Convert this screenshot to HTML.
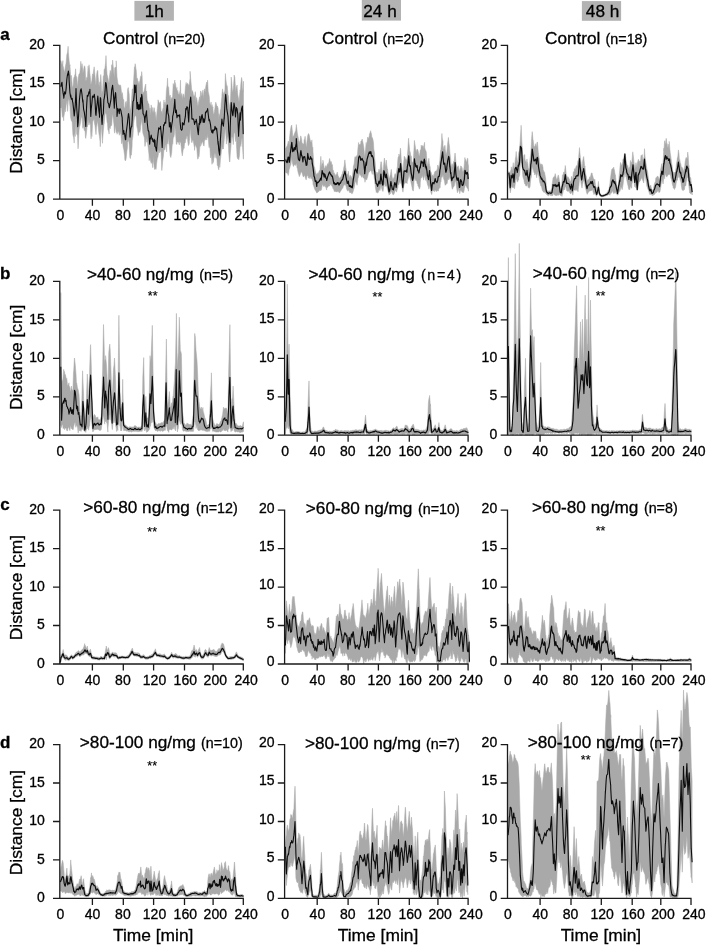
<!DOCTYPE html>
<html lang="en"><head><meta charset="utf-8"><title>Distance over time</title>
<style>html,body{margin:0;padding:0;background:#fff}svg{display:block}text{font-family:'Liberation Sans', Arial, Helvetica, sans-serif;fill:#000;stroke:#000;stroke-width:0.3px}
.tk{font-size:14px}.ti{font-size:17.2px}.n{font-size:14.3px}.ax{font-size:17.4px}.pl{font-size:17px;font-weight:bold}.hd{font-size:17.2px}.st{font-size:12.5px;stroke-width:0.15px}
</style></head><body>
<svg width="706" height="945" viewBox="0 0 706 945">
<rect width="706" height="945" fill="#fff"/>
<rect x="134.4" y="0.9" width="39.5" height="19.8" fill="#b3b3b3"/>
<text class="hd" x="154.3" y="17.2" text-anchor="middle">1h</text>
<rect x="361.8" y="0.0" width="39.2" height="20.6" fill="#b3b3b3"/>
<text class="hd" x="380.0" y="17.2" text-anchor="middle">24 h</text>
<rect x="581.9" y="1.1" width="39.2" height="19.7" fill="#b3b3b3"/>
<text class="hd" x="602.6" y="17.2" text-anchor="middle">48 h</text>
<g>
<path d="M60.8,60.6 L61.5,63.2 L62.3,65.3 L62.9,60.6 L63.0,65.6 L63.8,69.3 L64.6,73.6 L64.6,71.9 L65.3,67.1 L66.1,62.9 L66.8,54.8 L67.6,52.1 L68.1,46.3 L68.4,52.7 L69.1,60.6 L69.8,66.1 L69.9,64.7 L70.6,75.3 L71.4,75.6 L71.6,77.1 L72.2,85.6 L72.9,87.7 L73.3,83.3 L73.7,78.3 L74.4,76.5 L75.2,73.8 L75.6,68.8 L76.0,75.9 L76.7,77.1 L77.5,85.4 L77.7,87.4 L78.2,77.8 L79.0,74.0 L79.8,73.2 L80.5,66.9 L80.8,61.3 L81.3,68.7 L82.0,63.6 L82.8,69.5 L82.9,73.4 L83.6,69.9 L84.3,65.7 L84.7,66.2 L85.1,67.8 L85.8,81.1 L86.4,79.8 L86.6,77.4 L87.4,77.4 L88.1,66.2 L88.9,72.1 L89.0,64.8 L89.6,71.0 L90.4,78.0 L90.8,84.4 L91.2,83.5 L91.9,80.2 L92.5,73.9 L92.7,78.7 L93.4,71.9 L94.2,66.8 L94.3,68.6 L95.0,76.0 L95.7,83.5 L96.0,85.4 L96.5,75.6 L97.2,70.8 L97.8,70.4 L98.0,74.8 L98.8,84.2 L99.5,87.2 L99.5,82.4 L100.3,81.2 L100.7,74.5 L101.0,76.5 L101.8,95.3 L102.1,91.7 L102.6,90.5 L103.3,75.9 L103.9,75.6 L104.1,69.4 L104.8,69.1 L105.6,62.8 L106.0,55.6 L106.4,65.5 L107.1,74.6 L107.4,75.4 L107.9,77.9 L108.6,81.4 L109.1,82.9 L109.4,77.5 L110.2,70.4 L110.8,71.9 L110.9,77.3 L111.7,64.7 L112.4,67.3 L112.6,60.1 L113.2,66.2 L114.0,74.4 L114.3,78.2 L114.7,68.0 L115.5,66.9 L116.1,68.3 L116.2,60.8 L117.0,77.1 L117.8,82.2 L117.8,83.1 L118.5,84.8 L119.3,85.2 L119.6,85.8 L120.0,84.7 L120.8,85.9 L121.6,93.6 L122.2,95.3 L122.3,92.5 L123.1,99.0 L123.8,99.8 L123.9,106.5 L124.6,108.9 L125.4,102.2 L125.7,109.6 L126.1,101.1 L126.9,107.2 L127.6,89.4 L128.3,87.6 L128.4,89.3 L129.2,94.3 L129.9,111.5 L130.0,109.8 L130.7,108.4 L131.4,102.6 L131.8,95.8 L132.2,89.0 L133.0,89.1 L133.7,79.6 L134.4,67.3 L134.5,68.3 L135.2,63.7 L136.0,69.2 L136.2,69.7 L136.8,78.2 L137.0,78.5 L137.5,78.6 L138.3,84.5 L139.0,81.3 L139.6,86.1 L139.8,81.5 L140.6,76.2 L141.3,76.4 L141.7,71.6 L142.1,75.4 L142.8,95.8 L143.1,92.2 L143.6,92.7 L144.4,90.0 L145.1,86.0 L145.8,84.0 L145.9,92.3 L146.6,90.9 L147.4,103.9 L147.5,100.8 L148.2,103.3 L148.9,104.0 L149.7,110.9 L150.1,107.9 L150.4,116.4 L151.2,104.9 L152.0,110.3 L152.7,113.0 L152.7,107.4 L153.5,113.0 L153.5,113.7 L154.2,107.6 L154.8,113.6 L155.0,111.7 L155.8,116.7 L156.1,120.9 L156.5,117.0 L157.3,109.1 L157.9,104.1 L158.0,99.8 L158.8,102.2 L159.6,102.7 L160.3,104.4 L160.5,101.5 L161.1,111.3 L161.8,111.6 L162.2,114.2 L162.6,109.6 L163.4,107.3 L164.0,99.9 L164.1,105.5 L164.9,102.0 L165.6,105.0 L165.7,103.6 L166.4,90.5 L167.2,84.4 L167.5,78.2 L167.9,86.1 L168.7,87.4 L169.2,96.0 L169.4,97.1 L170.2,95.0 L170.9,101.8 L171.0,99.5 L171.7,97.5 L172.5,97.8 L172.7,94.0 L173.2,83.5 L174.0,86.2 L174.8,80.0 L174.8,81.6 L175.5,83.4 L176.3,90.1 L177.0,87.4 L177.1,92.8 L177.8,90.3 L178.6,95.3 L178.8,93.9 L179.3,94.4 L180.1,90.1 L180.5,80.2 L180.8,95.9 L181.6,93.5 L182.3,99.7 L182.4,98.2 L183.1,93.7 L183.9,95.6 L184.0,97.5 L184.6,97.6 L185.4,86.9 L186.2,82.4 L186.3,85.1 L186.9,83.9 L187.7,83.2 L188.4,87.2 L188.4,84.7 L189.2,84.9 L190.0,78.5 L190.1,71.3 L190.7,78.9 L191.5,87.5 L191.9,93.8 L192.2,90.5 L193.0,92.3 L193.8,97.8 L194.0,95.5 L194.5,97.3 L195.3,91.7 L196.0,102.4 L196.2,97.4 L196.8,98.5 L197.6,104.4 L198.0,106.3 L198.3,103.8 L199.1,99.0 L199.7,96.8 L199.8,103.5 L200.6,90.9 L201.4,93.0 L201.5,95.4 L202.1,95.6 L202.9,90.1 L203.2,99.1 L203.6,94.5 L204.4,88.8 L205.2,92.3 L205.5,88.5 L205.9,85.7 L206.7,82.1 L207.4,83.6 L207.6,80.2 L208.2,91.4 L209.0,95.1 L209.3,97.0 L209.7,102.7 L210.5,105.9 L211.1,102.0 L211.2,107.3 L212.0,104.5 L212.8,107.9 L212.8,106.9 L213.5,115.1 L214.3,112.2 L215.0,107.4 L215.4,103.9 L215.8,102.2 L216.6,105.1 L217.2,106.9 L217.3,106.1 L218.1,107.9 L218.8,119.9 L218.9,113.7 L219.6,117.0 L220.4,109.5 L220.7,113.5 L221.1,104.1 L221.9,96.6 L221.9,94.7 L222.6,88.9 L223.4,95.3 L224.2,92.2 L224.2,94.0 L224.9,89.9 L225.4,73.6 L225.7,78.0 L226.4,83.6 L226.8,85.8 L227.2,85.8 L228.0,94.7 L228.5,96.3 L228.7,101.2 L229.5,106.2 L229.9,110.3 L230.2,106.2 L231.0,87.2 L231.2,77.1 L231.8,82.5 L232.5,93.0 L232.9,90.5 L233.3,89.1 L234.0,78.9 L234.1,75.0 L234.8,77.2 L235.5,89.1 L235.6,92.9 L236.3,87.3 L237.1,85.0 L237.3,89.2 L237.8,94.7 L238.6,99.1 L239.0,102.2 L239.4,97.7 L240.1,89.9 L240.4,91.1 L240.9,83.1 L241.6,77.4 L242.1,80.3 L242.4,88.0 L243.2,91.9 L243.5,81.3 L243.5,159.2 L243.2,158.4 L242.4,144.3 L242.1,138.0 L241.6,138.9 L240.9,146.6 L240.4,144.3 L240.1,144.9 L239.4,156.1 L238.7,159.9 L238.6,158.3 L237.8,159.1 L237.1,156.9 L236.4,144.1 L236.3,137.2 L235.6,141.6 L234.8,131.4 L234.6,133.0 L234.0,133.6 L233.4,142.3 L233.3,144.6 L232.5,137.3 L231.8,137.2 L231.7,135.3 L231.0,145.8 L230.2,155.3 L229.9,162.0 L229.5,161.8 L228.7,152.4 L228.5,147.0 L228.0,141.8 L227.2,136.2 L226.8,139.2 L226.4,144.1 L225.7,131.1 L225.4,127.0 L224.9,133.1 L224.2,140.0 L223.4,148.9 L223.3,148.0 L222.6,149.2 L221.9,146.2 L221.6,149.4 L221.1,154.0 L220.4,159.8 L219.8,167.4 L219.6,161.7 L218.8,169.9 L218.1,167.5 L218.1,166.3 L217.3,165.6 L216.6,153.8 L216.3,158.4 L215.8,152.8 L215.0,157.8 L214.6,153.8 L214.3,152.5 L213.5,161.2 L212.8,163.3 L212.8,156.5 L212.0,164.3 L211.2,153.3 L211.1,155.7 L210.5,157.9 L209.7,144.6 L209.3,147.5 L209.0,147.7 L208.2,137.6 L207.6,137.7 L207.4,133.2 L206.7,139.9 L205.9,136.1 L205.8,140.1 L205.2,138.5 L204.4,141.5 L204.1,146.1 L203.6,145.7 L202.9,142.8 L202.4,141.6 L202.1,142.1 L201.4,144.0 L200.6,146.3 L200.6,140.3 L199.8,147.5 L199.1,156.6 L198.5,155.9 L198.3,158.5 L197.6,159.1 L196.8,147.9 L196.2,146.9 L196.0,146.1 L195.3,144.4 L194.5,150.4 L194.5,147.8 L193.8,144.1 L193.0,139.7 L192.2,141.3 L191.9,142.8 L191.5,141.6 L190.7,134.4 L190.5,126.8 L190.0,131.8 L189.2,144.2 L188.7,144.9 L188.4,145.7 L187.7,140.8 L187.5,136.5 L186.9,136.1 L186.2,139.1 L185.8,138.6 L185.4,142.4 L184.6,143.5 L184.0,148.4 L183.9,147.3 L183.1,150.3 L182.4,155.0 L182.3,155.9 L181.6,151.3 L180.8,143.1 L180.1,141.7 L179.7,141.4 L179.3,144.9 L178.6,142.6 L177.8,142.1 L177.1,142.0 L177.0,144.4 L176.3,144.1 L175.5,132.3 L174.8,125.2 L174.4,134.0 L174.0,136.6 L173.2,137.9 L172.7,144.3 L172.5,140.3 L171.7,152.6 L171.0,156.6 L170.9,157.6 L170.2,155.9 L169.4,146.6 L168.7,140.7 L168.3,136.1 L167.9,144.1 L167.2,141.3 L166.6,151.9 L166.4,143.0 L165.6,145.9 L164.9,150.1 L164.1,149.4 L164.0,148.3 L163.4,156.1 L162.6,161.6 L162.2,166.9 L161.8,170.6 L161.1,152.0 L160.5,151.5 L160.3,149.1 L159.6,153.0 L158.8,149.6 L158.7,151.3 L158.0,156.8 L157.3,158.4 L156.5,164.2 L156.1,169.3 L155.8,168.8 L155.0,168.5 L154.8,169.7 L154.2,167.2 L153.5,161.8 L153.5,155.3 L152.7,164.7 L152.7,167.7 L152.0,161.5 L151.2,163.4 L150.4,160.3 L149.7,154.7 L149.2,160.7 L148.9,153.8 L148.2,147.8 L147.4,141.8 L146.6,142.1 L146.6,138.0 L145.9,140.3 L145.1,146.3 L144.9,146.4 L144.4,137.8 L143.6,135.3 L143.1,133.8 L142.8,132.5 L142.1,122.9 L141.7,118.6 L141.3,122.6 L140.6,126.2 L140.5,129.3 L139.8,132.4 L139.0,131.6 L138.3,135.6 L137.9,132.4 L137.5,129.1 L136.8,126.3 L136.2,117.3 L136.0,116.3 L135.2,115.4 L134.5,117.8 L134.4,117.8 L133.7,123.2 L133.0,135.7 L132.2,140.9 L132.1,146.3 L131.4,155.1 L130.7,155.5 L130.4,158.6 L129.9,157.4 L129.2,145.0 L128.6,139.3 L128.4,140.8 L127.6,142.4 L127.4,147.8 L126.9,151.3 L126.1,158.9 L125.4,160.9 L124.8,159.5 L124.6,155.4 L123.8,149.7 L123.1,146.8 L122.3,138.4 L122.2,140.7 L121.6,143.8 L120.8,134.4 L120.0,131.4 L119.6,134.5 L119.3,135.3 L118.5,131.5 L117.8,131.7 L117.0,134.3 L117.0,132.6 L116.2,132.4 L115.5,125.1 L114.7,133.2 L114.3,131.3 L114.0,124.9 L113.2,118.3 L112.6,113.5 L112.4,115.0 L111.7,124.9 L110.9,126.1 L110.8,124.8 L110.2,128.7 L109.4,127.2 L109.1,134.1 L108.6,131.0 L107.9,129.7 L107.4,122.4 L107.1,122.6 L106.4,114.4 L106.0,114.0 L105.6,111.6 L104.8,116.8 L104.2,123.5 L104.1,123.3 L103.3,131.4 L102.6,140.3 L102.5,143.3 L101.8,132.0 L101.2,124.4 L101.0,128.2 L100.3,146.7 L100.0,141.1 L99.5,136.9 L98.8,132.5 L98.0,125.1 L97.8,120.8 L97.2,123.3 L96.5,127.0 L96.0,134.7 L95.7,132.1 L95.0,125.9 L94.3,122.1 L94.2,119.3 L93.4,120.0 L92.7,121.8 L92.5,125.3 L91.9,136.6 L91.2,129.9 L91.1,138.9 L90.4,124.9 L89.9,122.6 L89.6,121.9 L88.9,125.1 L88.1,119.5 L87.4,126.9 L87.3,124.0 L86.6,131.6 L85.8,138.4 L85.5,138.0 L85.1,131.2 L84.3,130.6 L83.6,127.0 L82.9,126.0 L82.8,128.3 L82.0,117.7 L81.3,117.1 L81.2,117.9 L80.5,122.8 L79.8,126.3 L79.4,126.8 L79.0,131.1 L78.2,147.8 L78.0,148.8 L77.5,135.7 L76.7,134.1 L76.0,121.1 L75.9,123.0 L75.2,136.6 L74.4,132.4 L74.2,143.1 L73.7,137.7 L72.9,134.8 L72.2,122.5 L71.6,120.5 L71.4,120.9 L70.6,117.5 L69.9,106.1 L69.1,99.8 L69.0,100.0 L68.4,99.1 L67.6,111.4 L67.2,101.0 L66.8,101.6 L66.1,105.8 L65.5,111.8 L65.3,106.4 L64.6,112.2 L63.8,117.2 L63.7,120.8 L63.0,115.5 L62.3,117.3 L61.5,107.0 L60.8,108.0Z" fill="#a9a9a9" stroke="#a9a9a9" stroke-width="0.5" stroke-linejoin="round"/>
<path d="M60.8,86.8 L61.5,83.4 L62.0,82.2 L62.3,86.4 L63.0,92.4 L63.7,96.4 L63.8,98.2 L64.6,91.9 L65.3,93.4 L65.5,94.0 L66.1,88.9 L66.8,79.6 L67.6,73.7 L67.6,75.6 L68.4,71.1 L69.0,75.4 L69.1,80.2 L69.9,92.3 L70.6,97.2 L70.7,94.9 L71.4,99.3 L72.2,98.4 L72.5,101.3 L72.9,102.9 L73.7,110.2 L74.2,116.0 L74.4,114.8 L75.2,106.3 L75.9,92.2 L76.0,88.6 L76.7,107.8 L77.5,118.8 L77.7,126.8 L78.2,122.2 L79.0,108.5 L79.4,100.3 L79.8,96.2 L80.5,90.3 L81.2,88.8 L81.3,89.5 L82.0,94.4 L82.8,102.2 L82.9,99.8 L83.6,109.3 L84.3,112.1 L85.1,118.2 L85.5,122.0 L85.8,126.5 L86.6,106.4 L87.3,95.2 L87.4,96.4 L88.1,96.0 L88.9,91.9 L89.6,93.3 L89.9,89.3 L90.4,105.6 L90.8,116.4 L91.2,109.0 L91.9,103.3 L92.5,96.0 L92.7,97.6 L93.4,97.2 L94.2,94.6 L94.3,94.3 L95.0,99.9 L95.7,113.9 L96.0,115.5 L96.5,108.8 L97.2,102.9 L97.8,96.0 L98.0,98.2 L98.8,110.2 L99.5,114.9 L99.5,117.2 L100.3,97.6 L100.7,98.6 L101.0,104.1 L101.8,120.9 L102.1,124.5 L102.6,115.6 L103.3,113.8 L103.9,99.2 L104.1,99.1 L104.8,94.7 L105.6,82.6 L106.0,82.9 L106.4,85.1 L107.1,93.6 L107.4,97.0 L107.9,102.8 L108.6,103.4 L109.1,106.8 L109.4,107.8 L110.2,103.6 L110.8,100.3 L110.9,100.1 L111.7,89.6 L112.4,86.3 L112.6,85.2 L113.2,91.5 L114.0,103.3 L114.3,108.1 L114.7,98.6 L115.5,92.5 L115.7,93.4 L116.2,101.8 L117.0,110.5 L117.0,116.4 L117.8,108.6 L118.5,109.9 L119.3,113.6 L119.6,109.3 L120.0,108.7 L120.8,110.2 L121.6,114.7 L122.2,117.7 L122.3,120.9 L123.1,134.5 L123.8,130.5 L123.9,132.4 L124.6,133.8 L125.4,139.8 L125.7,139.5 L126.1,133.6 L126.9,127.2 L127.4,123.6 L127.6,121.0 L128.4,113.8 L128.6,113.6 L129.2,117.8 L129.9,131.3 L130.0,137.1 L130.7,129.1 L131.4,126.7 L131.8,126.4 L132.2,119.5 L133.0,101.5 L133.7,100.3 L134.4,92.4 L134.5,85.1 L135.2,92.5 L136.0,85.0 L136.2,92.8 L136.8,105.2 L137.0,108.7 L137.5,102.4 L138.3,109.6 L138.8,108.3 L139.0,104.5 L139.8,109.4 L140.6,97.7 L140.9,108.8 L141.3,102.3 L141.7,94.4 L142.1,96.9 L142.8,109.2 L143.1,113.9 L143.6,114.2 L144.4,116.9 L144.9,122.4 L145.1,118.5 L145.9,114.2 L146.6,110.7 L146.6,113.7 L147.4,124.2 L148.2,131.0 L148.4,130.5 L148.9,131.7 L149.7,144.2 L150.1,139.5 L150.4,138.8 L151.2,135.1 L152.0,139.5 L152.6,138.6 L152.7,139.9 L152.7,141.1 L153.5,141.8 L154.2,139.3 L154.8,146.2 L155.0,140.3 L155.2,146.4 L155.8,147.6 L156.5,151.1 L157.0,143.8 L157.3,140.0 L158.0,134.0 L158.7,128.0 L158.8,127.8 L159.6,128.9 L160.3,128.8 L160.5,126.4 L161.1,132.2 L161.8,140.7 L162.2,147.4 L162.6,136.9 L163.4,129.3 L163.6,124.8 L164.1,125.3 L164.9,122.3 L165.6,123.2 L165.7,123.2 L166.4,112.3 L167.2,105.0 L167.5,105.2 L167.9,113.2 L168.7,115.9 L169.2,123.2 L169.4,127.0 L170.2,122.6 L170.9,130.4 L171.0,132.3 L171.7,125.0 L172.5,120.6 L172.7,116.1 L173.2,114.3 L174.0,108.7 L174.4,104.3 L174.8,99.4 L175.5,112.6 L176.3,110.0 L177.0,117.6 L177.1,116.9 L177.8,115.3 L178.6,115.4 L179.3,116.6 L179.7,114.7 L180.1,122.0 L180.8,128.9 L181.6,130.3 L182.3,128.9 L182.4,122.7 L183.1,123.4 L183.9,124.9 L184.0,124.9 L184.6,120.8 L185.4,116.2 L185.8,108.5 L186.2,109.9 L186.9,106.7 L187.5,107.5 L187.7,107.6 L188.4,117.9 L188.7,122.0 L189.2,111.3 L190.0,101.2 L190.5,98.5 L190.7,97.1 L191.5,107.8 L191.9,118.7 L192.2,119.3 L193.0,118.7 L193.8,119.8 L194.5,123.6 L194.5,124.4 L195.3,121.6 L196.0,121.4 L196.2,119.2 L196.8,122.9 L197.6,129.5 L198.0,132.5 L198.3,134.6 L199.1,123.2 L199.7,124.3 L199.8,116.2 L200.6,122.7 L201.4,118.7 L201.5,116.5 L202.1,114.6 L202.9,119.6 L203.2,122.5 L203.6,118.7 L204.4,122.3 L205.2,117.3 L205.5,112.1 L205.9,112.7 L206.7,111.1 L207.4,110.2 L207.6,108.6 L208.2,114.0 L209.0,120.6 L209.3,119.3 L209.7,120.6 L210.5,124.6 L211.1,129.8 L211.2,130.1 L212.0,132.5 L212.8,129.9 L212.8,133.1 L213.5,130.0 L214.3,130.3 L214.6,129.1 L215.0,126.4 L215.8,129.0 L216.3,129.8 L216.6,128.0 L217.3,134.7 L218.1,144.3 L218.1,141.2 L218.8,150.1 L219.6,155.2 L219.8,151.0 L220.4,139.6 L221.1,129.1 L221.2,127.2 L221.9,119.0 L222.4,123.0 L222.6,123.4 L223.4,126.2 L224.2,117.3 L224.2,119.0 L224.9,104.8 L225.4,97.4 L225.7,94.3 L226.4,102.1 L226.8,109.2 L227.2,111.7 L228.0,116.4 L228.5,124.3 L228.7,130.7 L229.5,138.6 L229.9,142.5 L230.2,127.5 L231.0,108.0 L231.2,102.6 L231.8,108.5 L232.5,114.3 L232.9,115.8 L233.3,111.6 L234.0,103.0 L234.1,103.5 L234.8,107.4 L235.5,116.9 L235.6,115.1 L236.3,107.6 L237.1,109.0 L237.3,111.0 L237.8,114.8 L238.6,136.3 L238.7,133.0 L239.4,122.9 L240.1,112.7 L240.4,120.2 L240.9,113.7 L241.6,108.7 L242.1,106.9 L242.4,106.0 L243.2,133.7 L243.5,133.4" fill="none" stroke="#0d0d0d" stroke-width="1.1" stroke-linejoin="round"/>
<path d="M285.7,148.3 L286.4,147.1 L287.1,145.9 L287.2,145.8 L287.9,143.2 L288.2,141.0 L288.7,141.9 L289.2,145.7 L289.5,138.5 L290.2,131.7 L290.2,132.0 L291.0,126.8 L291.6,125.0 L291.7,125.1 L292.5,132.8 L292.7,137.4 L293.3,135.7 L294.0,136.2 L294.2,134.1 L294.8,133.0 L295.3,131.4 L295.5,132.7 L296.3,125.3 L296.3,124.5 L297.1,131.1 L297.3,132.9 L297.8,135.7 L298.4,138.4 L298.6,140.3 L299.3,141.9 L299.5,142.9 L300.1,140.0 L300.7,135.9 L300.9,135.9 L301.6,139.4 L302.0,142.8 L302.4,143.0 L302.9,145.1 L303.1,143.8 L303.9,144.2 L304.1,139.9 L304.7,138.7 L305.1,136.3 L305.4,139.4 L306.2,146.4 L306.5,146.7 L306.9,142.2 L307.7,135.7 L307.8,135.3 L308.5,133.5 L309.0,134.4 L309.2,135.1 L310.0,139.3 L310.5,140.9 L310.7,141.9 L311.5,142.3 L311.9,139.9 L312.3,146.5 L312.9,147.6 L313.0,151.7 L313.8,162.7 L314.0,166.2 L314.5,166.9 L315.3,170.8 L315.4,171.2 L316.1,173.8 L316.8,174.4 L316.8,175.2 L317.6,172.9 L318.2,173.4 L318.3,173.8 L319.1,171.1 L319.7,170.3 L319.9,170.5 L320.6,161.0 L320.8,156.3 L321.4,164.5 L321.8,167.2 L322.1,163.5 L322.9,163.0 L322.9,160.2 L323.7,164.5 L324.2,168.0 L324.4,168.4 L325.2,167.4 L325.3,166.8 L325.9,165.5 L326.5,167.4 L326.7,167.1 L327.5,163.9 L327.9,163.5 L328.2,165.0 L329.0,161.6 L329.6,158.4 L329.7,158.7 L330.5,162.7 L331.0,161.4 L331.3,161.7 L332.0,165.5 L332.4,164.6 L332.8,169.6 L333.5,170.8 L333.8,173.2 L334.3,172.9 L335.1,175.3 L335.5,175.7 L335.8,174.6 L336.6,174.4 L337.3,172.1 L337.4,173.1 L338.1,175.7 L338.9,177.4 L339.2,177.6 L339.6,178.5 L340.4,177.2 L340.9,176.8 L341.1,177.0 L341.9,174.2 L342.3,174.0 L342.7,171.7 L343.4,170.2 L343.5,168.9 L344.2,165.5 L344.7,161.0 L344.9,159.9 L345.7,167.5 L345.9,167.9 L346.5,173.1 L347.2,174.4 L347.3,175.3 L348.0,173.3 L348.3,171.2 L348.7,174.3 L349.4,177.4 L349.5,178.0 L350.3,175.2 L350.8,176.5 L351.0,176.2 L351.8,177.8 L352.2,178.1 L352.5,175.3 L353.3,168.3 L353.4,166.6 L354.1,163.9 L354.8,157.6 L355.1,156.5 L355.6,157.3 L356.3,157.1 L357.1,155.2 L357.2,158.0 L357.9,148.8 L358.6,142.4 L358.6,145.1 L359.4,144.4 L360.1,144.4 L360.7,143.6 L360.9,141.2 L361.7,140.4 L362.2,139.0 L362.4,140.3 L363.2,143.8 L363.6,146.1 L363.9,147.9 L364.7,157.2 L364.7,157.6 L365.5,149.8 L366.2,142.4 L366.4,146.3 L367.0,142.5 L367.7,137.0 L367.8,137.4 L368.5,138.7 L369.3,135.8 L369.5,133.9 L370.0,132.9 L370.7,130.7 L370.8,131.7 L371.5,134.2 L372.1,139.5 L372.3,137.6 L373.1,140.2 L373.5,143.1 L373.8,149.1 L374.6,153.7 L374.6,157.1 L375.2,162.6 L375.3,163.8 L376.1,175.3 L376.1,172.1 L376.9,173.7 L377.5,173.2 L377.6,172.5 L378.4,172.2 L379.0,169.1 L379.1,169.7 L379.9,171.7 L380.0,170.9 L380.7,163.7 L380.9,161.7 L381.4,161.9 L382.1,169.4 L382.2,171.1 L382.9,173.1 L383.1,171.2 L383.7,164.8 L384.3,158.3 L384.5,158.1 L385.2,167.1 L385.2,167.7 L386.0,161.9 L386.3,160.1 L386.7,164.7 L387.5,170.1 L387.5,169.2 L388.3,174.6 L388.9,178.1 L389.0,178.8 L389.8,177.3 L389.9,176.2 L390.5,174.3 L391.3,169.3 L391.3,169.7 L392.1,177.1 L392.3,177.4 L392.8,179.5 L393.4,179.0 L393.6,178.1 L394.3,177.0 L394.8,174.2 L395.1,173.5 L395.9,174.8 L396.2,176.0 L396.6,171.3 L397.4,166.6 L397.7,161.1 L398.1,157.3 L398.8,156.0 L398.9,154.0 L399.7,156.5 L399.8,157.1 L400.4,148.1 L400.6,148.7 L401.2,158.6 L401.6,162.9 L401.9,164.8 L402.7,174.2 L402.8,173.4 L403.5,163.5 L404.0,159.4 L404.2,156.2 L405.0,157.3 L405.5,158.7 L405.7,158.9 L406.5,160.5 L406.9,158.6 L407.3,156.4 L407.9,148.7 L408.0,146.6 L408.6,138.3 L408.8,141.6 L409.5,148.2 L409.7,150.7 L410.3,152.4 L411.1,158.5 L411.1,155.9 L411.8,162.0 L412.1,161.8 L412.6,162.4 L413.2,162.3 L413.3,160.9 L414.1,147.0 L414.4,140.4 L414.9,143.7 L415.5,147.9 L415.6,148.8 L416.4,153.2 L416.5,151.0 L417.1,149.1 L417.5,149.6 L417.9,150.1 L418.7,153.8 L418.9,155.3 L419.4,155.9 L420.0,152.3 L420.2,150.1 L420.9,149.6 L421.2,145.1 L421.7,146.8 L422.5,145.5 L422.5,146.5 L423.2,146.0 L423.3,149.6 L424.0,144.8 L424.6,142.3 L424.7,147.5 L425.5,150.7 L425.7,150.4 L426.3,152.1 L426.7,158.3 L427.0,160.6 L427.7,166.1 L427.8,166.4 L428.5,161.9 L428.8,158.3 L429.3,163.2 L430.0,167.2 L430.1,166.8 L430.8,174.1 L430.9,171.9 L431.6,174.8 L431.9,176.6 L432.3,175.6 L433.1,174.6 L433.1,176.2 L433.9,175.7 L434.5,172.5 L434.6,172.3 L435.4,171.0 L435.9,171.1 L436.1,171.4 L436.9,169.7 L437.3,169.2 L437.7,165.1 L438.4,167.2 L438.7,167.4 L439.2,164.5 L439.9,160.1 L439.9,158.9 L440.7,150.1 L440.9,149.9 L441.5,142.7 L441.9,133.5 L442.2,138.0 L443.0,141.8 L443.0,145.7 L443.7,148.4 L444.1,148.9 L444.5,145.7 L445.1,145.4 L445.3,149.4 L446.0,154.6 L446.2,155.2 L446.8,151.9 L447.2,147.8 L447.5,144.6 L448.3,138.3 L448.4,137.4 L449.1,144.1 L449.4,145.3 L449.8,151.5 L450.4,157.2 L450.6,158.1 L451.3,168.7 L451.5,166.4 L452.1,163.7 L452.9,167.3 L452.9,166.2 L453.6,161.5 L454.0,162.4 L454.4,158.8 L455.0,153.0 L455.1,153.1 L455.9,161.5 L456.0,163.6 L456.7,166.2 L457.2,166.6 L457.4,166.9 L458.2,166.3 L458.3,165.8 L458.9,168.8 L459.4,171.9 L459.7,170.5 L460.5,167.6 L460.7,165.9 L461.2,166.1 L461.8,168.6 L462.0,167.5 L462.7,172.2 L462.8,171.7 L463.5,170.8 L464.0,167.4 L464.3,164.2 L464.9,157.5 L465.0,158.5 L465.8,160.2 L466.4,162.0 L466.5,163.2 L467.3,158.4 L467.8,158.4 L468.1,163.7 L468.5,166.0 L468.5,191.2 L468.1,189.6 L468.1,188.2 L467.3,188.4 L466.6,186.8 L466.5,186.4 L465.8,185.8 L465.4,184.0 L465.0,186.6 L464.3,188.7 L464.2,190.2 L463.5,192.8 L463.1,192.0 L462.7,192.0 L462.1,192.4 L462.0,192.0 L461.2,190.5 L461.0,190.7 L460.5,190.2 L459.7,193.7 L459.7,192.9 L458.9,189.6 L458.6,189.3 L458.2,190.8 L457.4,192.7 L457.4,192.7 L456.7,188.6 L456.4,186.3 L455.9,182.6 L455.5,180.9 L455.1,181.3 L454.6,184.3 L454.4,185.6 L453.6,187.0 L453.6,187.0 L452.9,187.7 L452.5,189.2 L452.1,188.8 L451.5,184.6 L451.3,183.8 L450.6,179.7 L450.4,179.4 L449.8,177.5 L449.4,176.5 L449.1,179.5 L448.4,179.5 L448.3,177.6 L447.5,180.9 L447.2,183.3 L446.8,184.0 L446.2,183.1 L446.0,185.0 L445.3,184.8 L445.1,185.3 L444.5,181.5 L444.1,179.8 L443.7,179.0 L443.0,174.4 L443.0,174.4 L442.2,177.2 L441.9,177.3 L441.5,176.4 L440.9,181.9 L440.7,181.2 L439.9,188.1 L439.9,186.3 L439.2,188.3 L438.7,189.2 L438.4,191.0 L437.7,191.1 L437.3,190.5 L436.9,190.9 L436.1,191.7 L435.9,190.9 L435.4,190.1 L434.6,190.7 L434.5,191.7 L433.9,191.2 L433.1,190.6 L433.1,190.5 L432.3,190.3 L431.9,193.9 L431.6,194.6 L430.9,192.3 L430.8,192.1 L430.1,186.5 L429.8,184.9 L429.3,187.2 L428.8,189.1 L428.5,187.0 L427.8,185.4 L427.7,185.3 L427.0,182.5 L426.6,180.6 L426.3,177.7 L425.6,180.4 L425.5,178.7 L424.7,173.3 L424.6,175.2 L424.0,178.2 L423.6,180.1 L423.2,177.7 L422.7,176.4 L422.5,174.8 L421.7,178.1 L421.5,175.7 L420.9,178.0 L420.3,182.1 L420.2,186.8 L419.4,189.2 L419.2,188.7 L418.7,186.9 L417.9,186.0 L417.8,184.4 L417.1,183.5 L416.8,181.6 L416.4,180.7 L415.8,180.4 L415.6,180.5 L414.9,178.0 L414.7,176.8 L414.1,180.9 L413.5,189.6 L413.3,191.1 L412.6,189.9 L412.5,190.2 L411.8,186.0 L411.5,184.8 L411.1,182.9 L410.4,179.3 L410.3,179.2 L409.5,175.6 L409.3,173.1 L408.8,176.1 L408.3,178.2 L408.0,179.5 L407.3,181.6 L407.2,183.6 L406.5,182.9 L405.7,182.7 L405.7,182.6 L405.0,183.6 L404.3,183.6 L404.2,183.9 L403.5,187.7 L403.0,192.2 L402.7,191.3 L401.9,186.7 L401.9,186.5 L401.2,181.9 L400.9,179.4 L400.4,181.1 L400.1,183.6 L399.7,182.0 L399.1,181.8 L398.9,184.8 L398.1,184.5 L397.9,187.5 L397.4,188.9 L396.6,191.9 L396.5,191.9 L395.9,191.3 L395.1,190.1 L395.1,190.4 L394.3,193.4 L394.1,193.2 L393.6,194.8 L392.8,194.3 L392.7,194.5 L392.1,193.1 L391.3,191.2 L391.3,190.9 L390.5,192.6 L390.3,193.9 L389.8,194.2 L389.0,195.1 L388.9,194.2 L388.3,192.1 L387.5,189.4 L387.5,189.6 L386.7,186.2 L386.3,186.0 L386.0,185.6 L385.2,186.6 L385.2,186.0 L384.5,183.7 L384.2,183.1 L383.7,186.9 L383.1,191.3 L382.9,191.5 L382.2,190.3 L382.1,189.8 L381.4,187.3 L380.9,185.0 L380.7,186.5 L380.0,190.6 L379.9,190.7 L379.1,189.0 L379.0,189.4 L378.4,192.0 L377.6,193.2 L377.5,192.6 L376.9,192.1 L376.1,192.6 L376.1,191.5 L375.3,187.0 L375.2,184.6 L374.9,183.7 L374.6,180.6 L373.8,173.8 L373.8,174.3 L373.1,170.6 L372.4,171.7 L372.3,174.4 L371.5,171.3 L370.9,171.0 L370.8,170.9 L370.0,170.1 L369.8,171.7 L369.3,171.9 L368.5,172.8 L368.1,174.8 L367.7,176.6 L367.0,178.7 L366.7,180.0 L366.2,179.5 L365.5,179.1 L365.0,182.3 L364.7,179.8 L363.9,177.7 L363.9,177.9 L363.2,177.8 L362.4,176.1 L362.4,174.4 L361.7,177.4 L360.9,175.1 L360.7,174.5 L360.1,175.6 L359.4,173.4 L358.9,174.0 L358.6,176.5 L357.9,178.7 L357.2,184.3 L357.1,185.3 L356.3,182.7 L355.6,181.5 L355.4,181.1 L354.8,184.7 L354.1,188.3 L353.7,189.4 L353.3,190.9 L352.5,193.3 L352.5,193.2 L351.8,193.8 L351.5,193.0 L351.0,192.6 L350.3,192.5 L350.1,193.0 L349.5,192.2 L348.7,190.1 L348.7,190.1 L348.0,190.5 L347.7,191.2 L347.2,190.2 L346.5,188.8 L346.3,187.3 L345.7,185.3 L345.2,184.6 L344.9,185.3 L344.2,184.3 L344.0,184.9 L343.4,186.0 L342.7,188.2 L342.6,187.7 L341.9,189.2 L341.2,189.9 L341.1,190.7 L340.4,191.3 L339.6,192.9 L339.5,193.1 L338.9,192.0 L338.1,191.6 L337.6,191.8 L337.3,191.2 L336.6,191.9 L335.9,191.7 L335.8,191.7 L335.1,191.3 L334.3,191.6 L334.1,190.8 L333.5,189.1 L332.8,188.3 L332.7,187.4 L332.0,186.0 L331.3,185.4 L331.3,184.1 L330.5,184.7 L329.9,183.6 L329.7,185.9 L329.0,186.1 L328.2,186.1 L328.2,186.4 L327.5,187.5 L326.7,187.2 L326.7,190.1 L325.9,187.3 L325.3,187.0 L325.2,184.9 L324.4,186.1 L323.9,186.7 L323.7,185.9 L322.9,185.4 L322.5,183.6 L322.1,185.7 L321.4,189.9 L321.4,190.0 L320.6,190.8 L319.9,189.3 L319.9,190.2 L319.1,190.8 L318.5,191.8 L318.3,192.0 L317.6,192.3 L317.1,192.9 L316.8,193.1 L316.1,191.7 L315.4,189.8 L315.3,190.4 L314.5,188.8 L314.0,187.1 L313.8,186.6 L313.0,184.3 L312.9,181.7 L312.3,180.2 L311.9,177.7 L311.5,178.7 L310.7,177.0 L310.5,176.0 L310.0,178.8 L309.2,176.7 L309.0,178.1 L308.5,178.0 L307.7,174.1 L307.6,175.7 L306.9,175.9 L306.5,178.3 L306.2,179.9 L305.4,177.9 L304.8,175.4 L304.7,174.9 L303.9,176.3 L303.4,176.9 L303.1,176.7 L302.4,174.0 L302.0,173.1 L301.6,171.7 L300.9,172.5 L300.7,172.7 L300.1,174.9 L299.5,176.0 L299.3,176.7 L298.6,173.9 L298.4,173.7 L297.8,171.1 L297.3,167.7 L297.1,168.1 L296.3,162.3 L296.3,163.1 L295.5,165.4 L294.9,165.0 L294.8,163.7 L294.0,165.4 L293.5,166.5 L293.3,166.2 L292.5,163.2 L292.0,159.7 L291.7,156.6 L291.0,164.1 L290.6,165.1 L290.2,166.2 L289.5,168.8 L289.2,169.0 L288.7,173.5 L288.2,175.5 L287.9,174.4 L287.2,172.9 L287.1,172.8 L286.4,172.9 L285.7,172.4Z" fill="#a9a9a9" stroke="#a9a9a9" stroke-width="0.5" stroke-linejoin="round"/>
<path d="M285.7,159.5 L286.4,162.1 L287.1,162.5 L287.2,162.7 L287.9,158.1 L288.2,157.0 L288.7,157.5 L289.2,162.3 L289.5,161.4 L290.2,153.4 L290.6,151.3 L291.0,148.3 L291.7,142.9 L291.8,142.3 L292.5,149.4 L292.7,151.7 L293.3,149.2 L294.0,151.0 L294.2,147.6 L294.8,148.6 L295.3,149.5 L295.5,147.0 L296.3,143.2 L296.3,138.7 L297.1,149.5 L297.3,150.6 L297.8,153.6 L298.4,159.2 L298.6,159.4 L299.3,160.4 L299.5,160.7 L300.1,156.8 L300.5,152.8 L300.9,150.7 L301.6,155.6 L302.0,155.8 L302.4,157.7 L302.9,161.8 L303.1,158.9 L303.9,156.6 L304.1,157.2 L304.7,156.7 L305.2,159.8 L305.4,160.0 L306.2,165.3 L306.5,164.9 L306.9,164.9 L307.6,156.0 L307.7,153.4 L308.5,158.2 L309.0,159.3 L309.2,159.3 L310.0,159.2 L310.5,156.6 L310.7,157.3 L311.5,159.4 L311.9,158.8 L312.3,163.7 L312.9,166.6 L313.0,167.4 L313.8,174.1 L314.0,176.2 L314.5,177.1 L315.3,181.5 L315.4,180.7 L316.1,180.8 L316.8,186.3 L316.8,184.1 L317.6,182.2 L318.2,182.5 L318.3,181.9 L319.1,181.4 L319.7,180.3 L319.9,180.3 L320.6,178.2 L321.1,180.1 L321.4,177.9 L322.1,171.4 L322.1,170.5 L322.9,173.9 L323.2,173.1 L323.7,174.6 L324.2,177.2 L324.4,173.8 L325.2,175.0 L325.3,175.7 L325.9,178.1 L326.5,178.9 L326.7,180.5 L327.5,177.3 L327.9,176.1 L328.2,175.4 L329.0,173.1 L329.6,171.9 L329.7,172.3 L330.5,174.4 L331.0,174.4 L331.3,175.7 L332.0,176.3 L332.4,176.1 L332.8,178.2 L333.5,181.9 L333.8,183.7 L334.3,182.6 L335.1,184.7 L335.5,184.5 L335.8,183.5 L336.6,184.3 L337.3,182.5 L337.4,183.6 L338.1,182.6 L338.9,185.0 L339.2,184.9 L339.6,183.2 L340.4,183.3 L340.9,182.0 L341.1,181.2 L341.9,180.6 L342.3,179.5 L342.7,179.4 L343.4,176.3 L343.7,175.1 L344.2,173.9 L344.9,171.9 L344.9,171.0 L345.7,175.1 L345.9,176.6 L346.5,179.6 L347.2,182.7 L347.3,183.5 L348.0,182.5 L348.3,181.0 L348.7,183.9 L349.4,186.5 L349.5,185.3 L350.3,186.3 L350.8,185.7 L351.0,187.3 L351.8,186.6 L352.2,187.9 L352.5,186.6 L353.3,179.1 L353.4,179.2 L354.1,174.9 L354.8,170.6 L355.1,169.9 L355.6,169.0 L356.3,170.9 L357.1,173.1 L357.2,171.3 L357.9,166.1 L358.6,158.6 L358.6,158.0 L359.4,156.0 L360.1,156.8 L360.7,159.6 L360.9,160.3 L361.7,158.9 L362.2,158.5 L362.4,159.5 L363.2,160.9 L363.6,161.3 L363.9,163.8 L364.7,171.7 L364.7,173.7 L365.5,166.4 L366.2,162.0 L366.4,165.1 L367.0,159.6 L367.7,157.0 L367.8,156.8 L368.5,154.1 L369.3,151.9 L369.5,153.4 L370.0,153.5 L370.7,151.7 L370.8,151.7 L371.5,156.0 L372.1,156.7 L372.3,155.5 L373.1,157.6 L373.5,159.6 L373.8,165.0 L374.6,171.8 L374.6,171.1 L375.2,176.2 L375.3,178.0 L376.1,183.4 L376.1,183.3 L376.9,184.2 L377.5,185.8 L377.6,186.3 L378.4,183.4 L379.0,181.2 L379.1,181.8 L379.9,183.9 L380.0,183.3 L380.7,176.1 L380.9,174.1 L381.4,178.7 L382.1,181.9 L382.2,183.6 L382.9,185.2 L383.1,184.1 L383.7,173.2 L383.9,170.7 L384.5,172.2 L385.2,177.2 L385.2,176.0 L386.0,177.8 L386.3,174.1 L386.7,176.4 L387.5,180.8 L387.5,181.3 L388.3,186.6 L388.9,191.1 L389.0,192.0 L389.8,190.0 L389.9,189.0 L390.5,184.2 L390.9,181.7 L391.3,184.2 L392.1,187.8 L392.3,189.2 L392.8,189.2 L393.4,189.8 L393.6,188.8 L394.3,184.9 L394.8,182.5 L395.1,183.1 L395.9,185.2 L396.2,187.5 L396.6,184.1 L397.4,179.0 L397.7,176.0 L398.1,173.0 L398.8,168.6 L398.9,171.8 L399.7,169.7 L399.8,171.9 L400.4,166.0 L400.6,163.6 L401.2,169.9 L401.6,176.7 L401.9,179.2 L402.7,187.4 L402.8,187.6 L403.5,177.9 L404.0,171.8 L404.2,170.9 L405.0,171.1 L405.5,171.3 L405.7,171.3 L406.5,170.2 L406.9,172.3 L407.3,166.9 L407.9,163.7 L408.0,163.0 L408.7,155.9 L408.8,156.4 L409.5,165.9 L409.7,165.0 L410.3,165.8 L411.1,172.6 L411.1,172.8 L411.8,175.9 L412.1,178.2 L412.6,180.3 L413.2,178.0 L413.3,177.1 L414.1,165.7 L414.4,158.9 L414.9,163.2 L415.5,164.0 L415.6,166.1 L416.4,167.2 L416.5,166.0 L417.1,165.6 L417.5,168.9 L417.9,170.9 L418.7,171.0 L418.9,172.9 L419.4,170.0 L420.0,166.9 L420.2,167.9 L420.9,163.1 L421.2,161.1 L421.7,163.0 L422.5,162.0 L422.5,162.2 L423.2,163.9 L423.3,166.4 L424.0,160.5 L424.3,159.0 L424.7,160.9 L425.3,166.9 L425.5,164.7 L426.3,169.1 L426.3,166.6 L427.0,171.4 L427.4,175.7 L427.8,176.4 L428.5,179.6 L428.5,177.9 L429.3,172.8 L429.5,170.5 L430.1,176.5 L430.7,183.5 L430.8,183.9 L431.6,190.4 L431.7,189.8 L432.3,184.1 L432.8,182.5 L433.1,182.5 L433.8,183.4 L433.9,183.9 L434.6,181.3 L435.2,178.7 L435.4,180.1 L436.1,181.7 L436.6,182.0 L436.9,182.6 L437.7,180.5 L438.0,178.0 L438.4,176.4 L439.2,176.3 L439.4,175.4 L439.9,170.1 L440.4,168.1 L440.7,164.4 L441.5,159.5 L441.6,158.7 L442.2,154.8 L442.6,151.8 L443.0,156.5 L443.7,164.2 L443.7,163.5 L444.5,164.1 L444.7,163.2 L445.3,168.1 L445.8,172.2 L446.0,172.1 L446.8,169.2 L446.8,167.2 L447.5,162.5 L447.7,160.7 L448.3,158.2 L448.7,156.4 L449.1,157.8 L449.8,167.0 L449.8,165.5 L450.6,173.6 L450.8,172.3 L451.3,177.7 L451.8,180.6 L452.1,179.3 L452.9,177.6 L452.9,177.1 L453.6,177.6 L454.0,176.5 L454.4,171.4 L455.0,165.9 L455.1,162.6 L455.9,174.1 L456.0,175.0 L456.7,178.5 L457.2,180.4 L457.4,178.2 L458.2,178.3 L458.3,178.1 L458.9,182.8 L459.4,187.4 L459.7,187.2 L460.5,179.8 L460.7,179.6 L461.2,180.9 L461.8,182.0 L462.0,184.9 L462.7,185.4 L462.8,185.2 L463.5,183.7 L464.0,180.7 L464.3,179.6 L465.0,170.3 L465.2,171.0 L465.8,173.3 L466.4,174.1 L466.5,172.7 L467.3,172.4 L467.8,174.4 L468.1,178.6 L468.5,177.6" fill="none" stroke="#0d0d0d" stroke-width="1.2" stroke-linejoin="round"/>
<path d="M508.8,171.4 L509.6,173.4 L510.2,174.2 L510.3,171.9 L511.1,169.2 L511.2,166.8 L511.8,168.8 L512.2,170.6 L512.6,168.2 L513.3,162.7 L513.4,165.4 L514.1,167.7 L514.5,169.3 L514.9,163.2 L515.5,157.9 L515.6,158.4 L516.2,151.5 L516.4,154.8 L517.2,160.6 L517.3,162.4 L517.9,160.1 L518.3,155.7 L518.7,152.5 L519.3,150.7 L519.4,150.7 L520.2,141.0 L520.4,136.9 L521.0,128.6 L521.1,125.3 L521.7,138.7 L521.8,141.0 L522.5,151.8 L522.8,157.2 L523.2,161.1 L524.0,155.0 L524.0,155.1 L524.8,154.6 L524.9,159.0 L525.5,161.0 L526.1,162.0 L526.3,164.0 L527.0,158.9 L527.2,161.4 L527.8,163.5 L528.2,167.4 L528.6,168.6 L529.2,169.9 L529.3,168.0 L530.1,157.8 L530.3,157.4 L530.8,153.1 L531.3,145.0 L531.6,138.7 L532.2,131.6 L532.4,133.1 L533.1,141.1 L533.2,140.6 L533.9,146.5 L534.3,146.1 L534.6,148.3 L535.4,143.7 L535.4,144.0 L536.2,146.8 L536.4,147.0 L536.9,142.8 L537.4,141.9 L537.7,144.8 L538.4,153.9 L538.4,153.5 L539.2,158.4 L539.5,161.3 L540.0,164.2 L540.5,165.3 L540.7,163.8 L541.5,164.1 L541.7,165.8 L542.2,164.4 L543.0,167.3 L543.1,169.5 L543.8,171.4 L544.5,172.1 L544.5,172.2 L545.3,176.5 L545.6,177.7 L546.0,182.0 L546.6,189.5 L546.8,189.9 L547.6,190.9 L548.0,191.3 L548.3,191.2 L549.1,191.0 L549.5,190.7 L549.8,190.9 L550.6,191.3 L550.9,190.7 L551.4,188.9 L551.9,187.2 L552.1,184.7 L552.9,179.1 L553.0,177.8 L553.6,177.5 L554.1,176.5 L554.4,177.4 L555.1,174.2 L555.2,173.6 L555.9,176.8 L556.2,178.3 L556.7,179.7 L557.2,178.5 L557.4,178.3 L558.2,174.9 L558.4,175.2 L559.0,178.0 L559.4,180.5 L559.7,182.6 L560.4,189.4 L560.5,189.5 L561.2,188.1 L561.5,187.9 L562.0,180.9 L562.5,174.9 L562.8,175.5 L563.5,172.9 L563.6,172.0 L564.3,172.4 L564.6,171.5 L565.0,168.0 L565.3,165.5 L565.8,170.1 L566.4,175.4 L566.6,175.0 L567.3,177.2 L567.9,177.2 L568.1,176.8 L568.8,178.3 L569.3,179.0 L569.6,180.5 L570.4,182.0 L570.4,182.3 L571.1,179.5 L571.4,176.6 L571.9,176.6 L572.4,182.4 L572.6,180.0 L573.4,171.6 L573.5,172.4 L574.2,171.6 L574.5,168.6 L574.9,170.2 L575.7,167.9 L575.7,167.8 L576.4,165.7 L577.1,165.8 L577.2,166.3 L578.0,160.6 L578.5,163.1 L578.7,156.7 L579.5,147.6 L579.5,148.3 L580.2,155.6 L580.6,160.0 L581.0,161.8 L581.6,168.9 L581.8,169.4 L582.5,163.5 L582.7,161.1 L583.3,157.7 L583.7,156.5 L584.0,159.7 L584.8,167.1 L584.9,166.1 L585.6,172.4 L585.9,175.2 L586.3,176.0 L587.0,180.3 L587.1,180.8 L587.8,179.7 L588.4,179.7 L588.6,179.6 L589.4,178.1 L589.8,176.7 L590.1,178.3 L590.9,175.0 L591.2,173.3 L591.6,173.0 L592.1,173.0 L592.4,174.7 L593.2,177.6 L593.4,178.6 L593.9,178.9 L594.7,180.4 L594.8,179.3 L595.4,184.4 L595.8,186.6 L596.2,187.1 L596.6,188.3 L597.0,192.8 L597.0,193.5 L597.7,187.8 L598.4,181.4 L598.5,182.3 L599.2,189.0 L599.5,192.1 L600.0,193.1 L600.8,194.5 L601.0,195.0 L601.5,195.0 L602.3,194.9 L602.7,195.0 L603.0,194.9 L603.8,194.3 L604.6,194.5 L604.8,194.4 L605.3,193.9 L606.1,193.3 L606.8,192.9 L606.9,192.9 L607.6,191.9 L608.4,189.9 L609.0,189.3 L609.1,188.6 L609.9,183.6 L610.5,177.7 L610.6,177.4 L611.4,171.2 L611.9,169.1 L612.2,168.8 L612.9,168.7 L612.9,170.0 L613.7,167.1 L614.0,168.7 L614.4,169.9 L615.2,175.3 L615.4,174.8 L616.0,180.8 L616.7,184.3 L616.8,186.5 L617.5,188.1 L618.0,189.3 L618.2,186.2 L619.0,178.5 L619.0,176.9 L619.8,169.7 L619.9,167.9 L620.5,162.5 L620.8,163.1 L621.3,165.3 L621.8,165.1 L622.0,164.3 L622.8,161.8 L622.8,159.5 L623.6,159.3 L623.9,158.5 L624.3,154.6 L624.9,153.0 L625.1,153.7 L625.8,157.7 L625.8,158.4 L626.6,163.0 L626.7,163.5 L627.4,166.0 L627.9,165.5 L628.1,167.1 L628.9,169.7 L628.9,171.3 L629.6,167.1 L629.9,166.6 L630.4,160.4 L630.7,161.4 L631.2,161.9 L631.7,163.9 L631.9,161.7 L632.7,152.5 L632.8,151.8 L633.4,156.4 L633.8,160.5 L634.2,163.8 L634.8,169.1 L635.0,168.3 L635.7,164.3 L636.0,162.6 L636.5,165.4 L637.1,167.7 L637.2,164.1 L638.0,160.7 L638.4,159.3 L638.8,160.7 L639.2,164.0 L639.5,161.2 L640.2,161.0 L640.3,163.5 L641.0,155.7 L641.2,155.2 L641.8,156.1 L642.3,154.5 L642.6,158.2 L643.3,160.4 L643.3,160.3 L644.1,156.4 L644.5,148.7 L644.8,153.6 L645.4,160.1 L645.6,160.8 L646.4,165.7 L646.6,167.0 L647.1,169.8 L647.7,172.4 L647.9,174.2 L648.6,179.9 L648.7,180.7 L649.4,185.6 L649.7,186.3 L650.2,185.9 L650.8,185.0 L650.9,185.9 L651.7,189.4 L652.0,190.8 L652.4,190.1 L653.2,189.7 L653.4,189.2 L654.0,185.6 L654.4,183.8 L654.7,183.1 L655.5,181.3 L655.8,177.9 L656.2,178.1 L657.0,176.6 L657.2,176.5 L657.8,176.0 L658.5,177.5 L658.6,177.8 L659.3,180.2 L659.6,180.8 L660.0,176.8 L660.7,168.8 L660.8,168.8 L661.6,164.6 L661.9,163.6 L662.3,165.7 L662.9,166.8 L663.1,162.4 L663.8,148.1 L663.9,151.0 L664.6,140.8 L664.7,140.7 L665.4,144.7 L665.4,145.3 L666.1,138.4 L666.3,138.6 L666.9,144.5 L667.1,143.7 L667.6,146.7 L668.1,147.7 L668.4,144.6 L669.2,143.8 L669.2,141.4 L669.9,149.6 L670.2,152.6 L670.7,155.7 L671.4,160.9 L671.4,161.5 L672.2,166.6 L672.5,169.2 L673.0,172.6 L673.7,172.6 L673.9,174.3 L674.5,172.6 L675.2,172.4 L675.2,173.1 L676.0,168.1 L676.3,164.8 L676.8,161.8 L677.5,157.6 L677.5,159.8 L678.3,151.0 L678.4,149.9 L679.0,154.0 L679.4,160.1 L679.8,159.7 L680.6,165.1 L680.6,163.6 L681.3,166.8 L681.7,167.3 L682.1,167.2 L682.7,169.3 L682.8,168.6 L683.6,172.2 L683.7,171.2 L684.4,167.5 L684.8,165.9 L685.1,162.1 L685.9,158.1 L686.0,157.4 L686.6,157.8 L686.9,159.2 L687.4,157.9 L687.7,152.1 L688.2,155.8 L688.8,166.6 L688.9,165.6 L689.7,174.6 L689.8,176.5 L690.4,177.5 L690.8,178.1 L691.2,182.3 L692.0,187.7 L692.2,189.1 L692.2,195.0 L692.0,194.5 L691.5,192.7 L691.2,193.3 L690.5,193.8 L690.4,193.2 L689.7,193.0 L689.4,190.6 L688.9,186.6 L688.4,181.3 L688.2,178.1 L687.4,177.6 L687.2,176.3 L686.6,180.9 L686.2,181.8 L685.9,185.7 L685.1,185.7 L685.1,184.9 L684.4,189.7 L684.1,188.5 L683.6,190.4 L683.0,190.3 L682.8,190.4 L682.1,189.8 L682.0,189.8 L681.3,185.7 L680.9,182.0 L680.6,181.2 L679.9,179.3 L679.8,178.1 L679.0,176.6 L678.7,173.5 L678.3,177.4 L677.7,178.1 L677.5,180.2 L676.8,180.2 L676.6,180.5 L676.0,184.0 L675.6,186.8 L675.2,188.2 L674.5,188.5 L674.5,189.5 L673.7,188.3 L673.2,187.8 L673.0,186.2 L672.2,183.9 L672.1,182.3 L671.4,179.3 L670.9,178.2 L670.7,176.2 L669.9,173.6 L669.9,173.7 L669.2,174.8 L668.5,174.7 L668.4,173.7 L667.6,175.7 L667.4,174.9 L666.9,177.2 L666.4,176.3 L666.1,175.9 L665.4,173.5 L665.4,172.5 L664.6,178.8 L664.3,175.7 L663.8,178.1 L663.1,183.8 L663.1,184.0 L662.3,180.2 L662.2,179.5 L661.6,181.3 L661.0,185.1 L660.8,187.2 L660.0,191.2 L660.0,191.9 L659.3,192.2 L658.9,192.6 L658.5,191.3 L657.8,190.2 L657.5,191.3 L657.0,192.2 L656.2,192.4 L656.1,192.3 L655.5,192.9 L654.8,194.1 L654.7,194.3 L654.0,194.6 L653.7,195.1 L653.2,195.2 L652.4,195.4 L652.2,195.6 L651.7,194.9 L651.2,194.2 L650.9,193.9 L650.2,194.5 L650.1,194.9 L649.4,193.5 L649.0,192.1 L648.6,190.9 L648.0,189.0 L647.9,189.0 L647.1,186.3 L646.9,186.5 L646.4,182.8 L645.7,179.3 L645.6,178.5 L644.8,173.1 L644.7,172.2 L644.1,179.1 L643.7,183.0 L643.3,181.6 L642.8,180.6 L642.6,180.2 L641.8,177.0 L641.6,177.9 L641.0,179.2 L640.6,180.0 L640.3,180.7 L639.5,181.8 L639.5,180.6 L638.8,183.4 L638.5,184.6 L638.0,188.3 L637.5,189.7 L637.2,189.8 L636.5,181.5 L636.5,181.6 L635.7,185.6 L635.5,187.6 L635.0,186.2 L634.5,186.5 L634.2,183.1 L633.5,178.1 L633.4,177.0 L632.7,180.8 L632.7,181.3 L631.9,184.1 L631.7,188.2 L631.2,188.1 L630.7,185.9 L630.4,186.4 L629.6,189.9 L629.6,188.1 L628.9,189.5 L628.4,187.9 L628.1,186.0 L627.5,183.8 L627.4,183.0 L626.6,179.3 L626.3,177.6 L625.8,176.8 L625.3,172.3 L625.1,173.1 L624.3,175.8 L624.2,177.0 L623.6,180.1 L623.2,183.7 L622.8,186.1 L622.2,189.7 L622.0,188.9 L621.3,187.4 L620.8,186.8 L620.5,189.0 L619.8,191.4 L619.7,190.6 L619.0,191.9 L618.5,193.5 L618.2,194.7 L617.5,195.1 L617.5,194.9 L616.7,194.3 L616.1,193.5 L616.0,193.4 L615.2,191.8 L614.7,193.4 L614.4,192.6 L613.7,193.6 L613.3,192.8 L612.9,191.4 L612.2,190.9 L611.9,192.0 L611.4,193.2 L610.6,193.3 L610.5,193.6 L609.9,195.3 L609.1,194.2 L609.0,194.7 L608.4,194.6 L607.6,195.3 L606.9,195.5 L606.8,195.5 L606.1,195.6 L605.3,196.0 L604.8,196.1 L604.6,196.2 L603.8,196.3 L603.0,196.5 L602.7,196.7 L602.3,196.7 L601.5,196.8 L601.0,196.7 L600.8,196.6 L600.0,196.1 L599.5,195.7 L599.2,194.4 L598.5,192.7 L598.4,193.0 L597.7,193.7 L597.0,195.0 L597.0,195.2 L596.6,196.3 L596.2,196.0 L596.2,195.6 L595.4,194.8 L595.1,193.7 L594.7,193.3 L593.9,194.6 L593.6,193.5 L593.2,192.2 L592.7,190.4 L592.4,189.6 L591.6,190.4 L591.5,190.4 L590.9,191.0 L590.1,190.5 L590.1,190.9 L589.4,191.0 L588.7,192.0 L588.6,192.1 L587.8,193.1 L587.3,194.2 L587.1,194.3 L586.3,191.4 L586.3,191.3 L585.6,188.3 L585.1,186.7 L584.8,184.2 L584.2,180.7 L584.0,180.8 L583.3,181.1 L583.0,182.7 L582.5,184.6 L582.0,188.1 L581.8,187.0 L581.0,183.1 L580.9,182.4 L580.2,174.8 L579.9,173.7 L579.5,178.8 L578.8,186.0 L578.7,185.8 L578.0,191.8 L577.4,189.2 L577.2,190.6 L576.4,189.0 L575.9,190.7 L575.7,189.4 L574.9,189.9 L574.9,189.9 L574.2,190.1 L573.8,190.6 L573.4,191.6 L572.8,195.2 L572.6,194.1 L571.9,193.0 L571.7,191.2 L571.1,193.2 L570.7,193.8 L570.4,193.7 L569.6,192.8 L569.6,191.8 L568.8,190.9 L568.1,191.5 L568.1,191.7 L567.3,191.0 L566.7,190.7 L566.6,190.2 L565.8,187.0 L565.7,186.4 L565.0,186.9 L564.6,190.0 L564.3,189.6 L563.6,189.9 L563.5,189.1 L562.8,193.7 L562.5,193.7 L562.0,196.4 L561.5,195.5 L561.2,195.5 L560.5,195.3 L560.4,195.6 L559.7,194.6 L559.4,193.5 L559.0,195.1 L558.2,195.3 L558.2,193.9 L557.4,195.4 L557.2,195.1 L556.7,195.7 L555.9,195.1 L555.8,195.5 L555.2,195.5 L554.4,194.9 L554.4,194.9 L553.6,192.4 L553.3,193.8 L552.9,195.4 L552.3,195.6 L552.1,195.7 L551.4,195.3 L551.3,195.7 L550.6,195.4 L549.9,194.9 L549.8,194.6 L549.1,195.4 L548.5,195.8 L548.3,195.6 L547.6,195.3 L547.0,195.0 L546.8,194.7 L546.0,193.6 L545.9,193.8 L545.3,192.3 L544.8,191.4 L544.5,192.5 L543.8,192.0 L543.4,192.2 L543.0,191.1 L542.2,190.3 L542.1,189.5 L541.5,186.2 L541.0,186.3 L540.7,185.8 L540.0,182.5 L539.8,182.7 L539.2,178.7 L538.8,176.0 L538.4,174.7 L537.7,171.6 L537.7,172.2 L536.9,176.3 L536.7,177.8 L536.2,174.8 L535.7,174.4 L535.4,172.5 L534.6,174.9 L534.6,173.5 L533.9,172.3 L533.4,169.9 L533.1,169.5 L532.5,166.2 L532.4,166.2 L531.6,173.5 L531.3,177.3 L530.8,178.8 L530.3,183.6 L530.1,186.4 L529.3,188.3 L529.2,187.8 L528.6,187.5 L528.2,187.5 L527.8,184.7 L527.2,183.5 L527.0,186.2 L526.3,185.1 L526.1,186.2 L525.5,185.0 L524.9,183.5 L524.8,184.0 L524.0,181.0 L524.0,180.0 L523.2,177.9 L522.8,176.3 L522.5,171.1 L521.8,164.4 L521.7,163.4 L521.0,162.4 L520.7,161.6 L520.2,166.0 L519.7,174.5 L519.4,175.8 L518.7,177.8 L518.7,180.1 L517.9,180.2 L517.6,182.1 L517.2,181.6 L516.4,178.1 L516.4,178.1 L515.6,180.8 L515.5,182.1 L514.9,186.4 L514.5,188.8 L514.1,188.2 L513.4,187.4 L513.3,186.6 L512.6,187.6 L512.2,187.5 L511.8,186.4 L511.2,186.6 L511.1,188.0 L510.3,192.9 L510.2,191.9 L509.6,187.8 L508.8,183.8Z" fill="#a9a9a9" stroke="#a9a9a9" stroke-width="0.5" stroke-linejoin="round"/>
<path d="M508.8,172.6 L509.6,179.3 L510.2,187.7 L510.3,186.8 L511.1,177.2 L511.2,175.3 L511.8,177.8 L512.2,177.8 L512.6,176.1 L513.0,173.8 L513.4,175.7 L514.0,182.2 L514.1,180.2 L514.9,171.7 L515.0,169.3 L515.6,167.6 L516.2,167.4 L516.4,168.8 L517.2,171.3 L517.3,172.5 L517.9,168.8 L518.3,165.1 L518.7,166.1 L519.3,162.4 L519.4,164.2 L520.2,150.0 L520.4,146.3 L521.0,147.1 L521.5,148.0 L521.7,151.1 L522.5,165.5 L522.5,166.6 L523.2,169.0 L523.5,169.8 L524.0,170.0 L524.7,170.5 L524.8,171.3 L525.5,173.9 L525.8,175.2 L526.3,175.1 L526.8,172.1 L527.0,170.4 L527.8,176.7 L527.9,176.3 L528.6,180.4 L528.9,181.3 L529.3,177.7 L530.0,172.5 L530.1,174.6 L530.8,164.5 L531.0,163.6 L531.6,159.6 L532.2,149.1 L532.4,150.0 L533.1,155.1 L533.2,155.7 L533.9,160.9 L534.3,161.0 L534.6,160.1 L535.4,160.1 L535.4,159.1 L536.2,161.5 L536.4,164.0 L536.9,158.3 L537.4,157.4 L537.7,158.3 L538.4,165.3 L538.4,166.0 L539.2,170.8 L539.5,171.9 L540.0,175.4 L540.5,176.4 L540.7,177.2 L541.5,179.2 L541.7,178.2 L542.2,179.8 L543.0,180.5 L543.1,181.7 L543.8,181.1 L544.5,182.3 L544.5,181.9 L545.3,184.3 L545.6,186.7 L546.0,189.3 L546.6,192.2 L546.8,192.1 L547.6,192.8 L548.0,193.6 L548.3,193.6 L549.1,193.1 L549.5,192.8 L549.8,192.8 L550.6,193.3 L550.9,193.5 L551.4,192.9 L551.9,192.6 L552.1,191.6 L552.9,187.2 L553.0,184.6 L553.6,185.3 L554.1,185.7 L554.4,185.6 L555.2,184.4 L555.5,186.2 L555.9,185.1 L556.7,186.6 L557.0,185.4 L557.4,185.1 L557.9,186.1 L558.2,185.9 L558.9,183.4 L559.0,182.4 L559.7,188.7 L560.1,192.2 L560.5,192.3 L561.2,192.8 L561.2,193.0 L562.0,187.3 L562.2,186.5 L562.8,184.5 L563.2,182.2 L563.5,181.5 L564.3,182.0 L564.3,181.1 L565.0,176.5 L565.3,174.5 L565.8,178.8 L566.4,182.2 L566.6,183.5 L567.3,183.0 L567.9,183.5 L568.1,183.5 L568.8,183.8 L569.3,184.7 L569.6,186.0 L570.4,188.4 L570.4,189.1 L571.1,185.9 L571.4,184.2 L571.9,186.9 L572.4,190.8 L572.6,189.2 L573.4,184.2 L573.5,181.8 L574.2,179.5 L574.5,178.7 L574.9,178.6 L575.7,178.3 L575.7,176.8 L576.4,175.9 L577.1,175.5 L577.2,176.0 L578.0,175.9 L578.5,173.3 L578.7,169.6 L579.5,158.7 L579.5,159.1 L580.2,167.3 L580.6,170.5 L581.0,175.0 L581.6,179.9 L581.8,179.2 L582.5,175.0 L582.7,172.4 L583.3,170.9 L583.7,168.7 L584.0,171.0 L584.8,175.6 L584.9,177.0 L585.6,181.6 L585.9,183.5 L586.3,185.4 L587.0,188.7 L587.1,188.0 L587.8,185.7 L588.4,185.1 L588.6,185.1 L589.4,184.0 L589.8,183.9 L590.1,183.5 L590.9,181.6 L591.2,182.6 L591.6,183.6 L592.4,181.4 L592.4,181.5 L593.2,185.6 L593.4,185.9 L593.9,187.4 L594.7,186.6 L594.8,186.6 L595.4,189.6 L595.8,191.6 L596.2,192.8 L596.6,194.4 L597.0,193.8 L597.0,193.7 L597.7,190.4 L598.4,187.2 L598.5,187.4 L599.2,192.0 L599.5,193.6 L600.0,194.5 L600.8,195.4 L601.0,195.7 L601.5,195.8 L602.3,195.9 L602.7,196.0 L603.0,195.9 L603.8,195.7 L604.6,195.3 L604.8,195.2 L605.3,194.9 L606.1,194.6 L606.8,194.4 L606.9,194.3 L607.6,193.8 L608.4,192.6 L609.0,192.1 L609.1,191.8 L609.9,188.0 L610.5,186.7 L610.6,186.9 L611.4,185.6 L611.9,182.5 L612.2,181.2 L612.9,179.8 L613.3,181.1 L613.7,181.9 L614.4,183.2 L614.7,181.5 L615.2,183.8 L616.0,185.7 L616.1,186.6 L616.7,189.3 L617.5,192.5 L617.5,193.5 L618.2,188.9 L618.5,186.3 L619.0,184.6 L619.7,180.4 L619.8,181.6 L620.5,176.3 L620.8,174.7 L621.3,175.7 L622.0,176.5 L622.2,175.8 L622.8,174.8 L623.2,172.2 L623.6,170.4 L624.2,163.9 L624.3,159.2 L624.9,154.2 L625.1,157.5 L625.8,166.9 L625.8,167.7 L626.6,170.4 L626.7,172.0 L627.4,174.1 L627.9,174.1 L628.1,175.0 L628.9,179.5 L628.9,178.4 L629.6,176.4 L629.9,176.4 L630.4,177.9 L631.0,180.6 L631.2,180.7 L631.9,173.3 L632.0,172.5 L632.7,167.5 L633.0,164.8 L633.4,168.9 L633.8,173.0 L634.2,176.4 L634.8,182.4 L635.0,180.8 L635.7,173.6 L636.0,172.4 L636.5,180.8 L637.1,188.4 L637.2,189.6 L638.0,178.2 L638.1,175.4 L638.8,174.1 L639.1,173.0 L639.5,172.7 L640.2,169.4 L640.3,169.1 L641.0,166.4 L641.2,167.5 L641.8,166.8 L642.3,168.6 L642.6,168.9 L643.3,168.4 L643.5,169.2 L644.1,162.9 L644.5,159.1 L644.8,163.8 L645.4,169.3 L645.6,169.3 L646.4,174.5 L646.6,176.0 L647.1,178.4 L647.7,180.4 L647.9,182.0 L648.6,186.4 L648.7,186.6 L649.4,189.6 L649.7,190.7 L650.2,190.8 L650.8,189.2 L650.9,189.8 L651.7,192.4 L652.0,193.5 L652.4,193.2 L653.2,192.6 L653.4,192.2 L654.0,189.9 L654.4,189.4 L654.7,188.6 L655.5,185.6 L655.8,185.1 L656.2,184.6 L657.0,183.9 L657.2,183.8 L657.8,184.5 L658.5,185.0 L658.6,184.5 L659.3,185.0 L659.6,186.7 L660.0,182.9 L660.7,176.4 L660.8,176.7 L661.6,172.5 L661.9,171.1 L662.3,172.1 L662.9,174.7 L663.1,172.5 L663.8,163.3 L663.9,164.5 L664.6,158.6 L665.0,156.9 L665.4,155.5 L666.1,158.2 L666.1,159.3 L666.9,156.8 L667.1,157.4 L667.6,158.7 L668.4,158.8 L668.5,160.4 L669.2,159.5 L669.5,159.1 L669.9,163.0 L670.7,165.1 L670.7,165.5 L671.4,168.5 L671.8,171.1 L672.2,171.9 L672.8,177.6 L673.0,178.6 L673.7,181.7 L674.2,182.2 L674.5,180.9 L675.2,179.5 L675.2,179.0 L676.0,175.1 L676.3,172.3 L676.8,171.6 L677.5,168.0 L677.5,168.0 L678.3,163.1 L678.4,162.2 L679.0,166.5 L679.4,169.3 L679.8,171.9 L680.6,173.5 L680.6,172.2 L681.3,175.8 L681.7,178.0 L682.1,177.4 L682.7,180.5 L682.8,182.2 L683.6,181.7 L683.7,179.3 L684.4,177.3 L684.8,174.8 L685.1,173.8 L685.9,169.3 L686.0,171.7 L686.6,166.7 L686.9,166.1 L687.4,167.6 L687.9,168.1 L688.2,169.9 L688.9,177.9 L689.1,180.8 L689.7,181.9 L690.2,185.3 L690.4,184.4 L691.2,184.6 L691.2,184.6 L692.0,191.0 L692.2,192.1" fill="none" stroke="#0d0d0d" stroke-width="1.2" stroke-linejoin="round"/>
<path d="M60.8,292.6 L61.5,367.2 L61.6,380.5 L62.3,380.5 L62.3,383.9 L63.0,377.9 L63.7,369.3 L63.8,370.3 L64.6,372.0 L65.1,376.2 L65.3,374.4 L66.1,377.7 L66.3,379.6 L66.8,378.3 L67.6,386.7 L67.6,386.0 L68.4,384.4 L69.0,382.8 L69.1,385.8 L69.9,387.3 L70.2,389.4 L70.6,392.5 L71.4,386.0 L71.6,388.4 L72.2,389.7 L72.8,391.1 L72.9,389.7 L73.5,372.0 L73.7,371.0 L74.4,358.1 L74.5,358.0 L75.2,364.2 L75.6,368.9 L76.0,373.9 L76.5,384.1 L76.7,383.1 L77.5,387.9 L77.7,388.5 L78.2,389.7 L78.9,394.0 L79.0,394.3 L79.8,407.6 L80.3,414.6 L80.5,415.7 L81.3,415.6 L81.5,414.6 L82.0,394.0 L82.6,370.8 L82.8,377.7 L83.6,395.0 L83.6,396.8 L84.3,413.3 L84.7,421.4 L85.1,417.9 L85.8,409.5 L86.1,407.9 L86.6,393.3 L87.3,374.0 L87.4,376.0 L88.1,393.0 L88.5,397.2 L88.9,388.2 L89.6,373.2 L89.6,371.7 L90.4,346.6 L90.6,344.6 L91.2,362.6 L91.6,378.4 L91.9,389.1 L92.7,411.6 L92.9,417.6 L93.4,417.1 L94.2,414.5 L94.3,414.5 L95.0,415.0 L95.7,417.0 L96.0,418.4 L96.5,417.5 L97.2,417.5 L97.8,416.8 L98.0,418.4 L98.8,419.4 L99.5,420.2 L99.5,419.7 L100.3,419.6 L101.0,417.5 L101.2,418.4 L101.8,399.7 L102.5,373.3 L102.6,370.5 L103.3,334.2 L103.5,324.5 L104.1,343.8 L104.6,365.7 L104.8,361.1 L105.6,358.5 L105.6,355.6 L106.4,364.1 L106.8,371.9 L107.1,377.6 L107.9,393.4 L107.9,393.6 L108.6,358.3 L108.8,352.3 L109.4,346.7 L109.8,344.1 L110.2,350.1 L110.8,365.8 L110.9,367.6 L111.7,392.9 L112.1,403.1 L112.4,394.1 L113.2,376.5 L113.5,369.0 L114.0,365.2 L114.5,358.0 L114.7,361.6 L115.5,379.3 L115.6,380.3 L116.2,405.4 L116.6,415.0 L117.0,413.4 L117.8,408.5 L117.8,408.0 L118.5,347.5 L118.9,315.3 L119.3,343.5 L119.9,386.3 L120.0,390.9 L120.8,404.0 L121.0,408.3 L121.6,404.3 L122.0,407.6 L122.3,398.6 L122.7,379.3 L123.1,397.3 L123.6,417.9 L123.8,420.0 L124.6,424.6 L124.8,424.8 L125.4,424.9 L126.1,425.5 L126.6,426.1 L126.9,426.2 L127.6,426.9 L128.3,427.2 L128.4,427.3 L129.2,427.2 L129.9,426.5 L130.0,426.7 L130.7,426.9 L131.4,427.0 L131.8,427.0 L132.2,427.1 L133.0,426.9 L133.5,426.9 L133.7,427.1 L134.5,425.8 L135.2,425.6 L135.3,426.0 L136.0,426.1 L136.8,427.1 L137.0,427.1 L137.5,427.3 L138.3,427.2 L138.8,426.9 L139.0,427.0 L139.8,427.3 L140.5,427.3 L140.6,427.1 L141.3,426.3 L141.9,425.2 L142.1,416.4 L142.8,379.8 L142.8,377.4 L143.6,360.2 L143.7,357.6 L144.4,393.0 L144.7,412.5 L145.1,408.1 L145.8,396.4 L145.9,397.5 L146.6,415.4 L146.8,417.8 L147.4,417.9 L148.2,417.8 L148.4,418.3 L148.9,403.9 L149.2,397.2 L149.7,372.8 L150.0,355.7 L150.4,359.3 L150.9,362.3 L151.2,354.8 L152.0,334.4 L152.3,325.3 L152.7,349.8 L153.5,397.3 L153.5,397.1 L154.2,412.1 L154.9,421.8 L155.0,421.6 L155.8,422.8 L156.5,425.0 L157.0,425.1 L157.3,424.8 L158.0,423.7 L158.8,423.5 L159.6,424.1 L159.6,423.6 L160.3,423.6 L161.1,422.6 L161.8,422.9 L162.2,422.4 L162.6,423.3 L163.4,422.0 L164.1,420.5 L164.8,420.0 L164.9,417.4 L165.5,380.0 L165.6,375.2 L166.4,339.0 L166.4,341.0 L167.2,396.2 L167.3,407.3 L167.9,403.5 L168.3,401.4 L168.7,398.5 L169.4,391.5 L169.4,391.9 L170.2,405.3 L170.4,408.0 L171.0,406.2 L171.7,402.8 L171.8,404.7 L172.5,401.5 L173.0,396.1 L173.2,396.2 L174.0,384.9 L174.4,380.9 L174.8,372.0 L175.5,362.1 L175.5,361.0 L176.3,319.7 L176.4,313.4 L177.0,351.0 L177.4,369.3 L177.8,359.8 L178.3,352.3 L178.6,344.3 L179.3,318.3 L179.3,317.2 L180.1,342.4 L180.4,352.2 L180.8,351.5 L181.4,354.1 L181.6,363.9 L182.4,405.1 L182.5,411.3 L183.1,415.9 L183.9,422.1 L184.0,423.5 L184.6,423.5 L185.4,425.1 L185.8,425.2 L186.2,424.7 L186.9,423.2 L187.5,423.5 L187.7,423.3 L188.4,423.9 L189.2,424.5 L189.3,424.1 L190.0,424.9 L190.7,424.3 L191.5,424.9 L191.9,425.0 L192.2,422.0 L193.0,415.8 L193.3,415.1 L193.8,386.4 L194.5,340.7 L194.7,333.4 L195.3,337.0 L195.7,345.0 L196.0,350.2 L196.8,358.5 L197.1,362.1 L197.6,373.1 L198.3,393.1 L198.5,397.2 L199.1,401.9 L199.7,407.3 L199.8,407.0 L200.6,409.1 L201.4,409.1 L201.5,407.1 L202.1,411.3 L202.9,407.5 L203.2,411.2 L203.6,412.4 L204.4,416.1 L205.0,418.7 L205.2,418.4 L205.9,420.2 L206.7,424.8 L206.7,425.1 L207.4,425.3 L208.2,424.5 L209.0,424.7 L209.3,424.3 L209.7,413.7 L210.4,397.1 L210.5,394.4 L211.2,380.2 L211.4,372.8 L212.0,396.2 L212.5,417.6 L212.8,418.8 L213.5,422.0 L214.3,423.8 L214.6,425.1 L215.0,425.4 L215.8,425.4 L216.6,423.7 L217.2,424.1 L217.3,423.6 L218.1,424.6 L218.8,424.4 L219.6,423.5 L219.8,423.4 L220.4,421.5 L221.1,420.8 L221.9,417.7 L221.9,417.6 L222.6,414.4 L223.3,408.7 L223.4,407.2 L224.2,408.7 L224.9,408.9 L225.0,407.8 L225.7,408.4 L226.4,408.0 L226.8,408.9 L227.2,412.2 L227.8,414.5 L228.0,408.8 L228.7,370.0 L228.9,362.7 L229.5,340.6 L229.9,324.7 L230.2,347.5 L231.0,407.0 L231.0,407.9 L231.8,399.3 L232.0,398.4 L232.5,398.0 L233.1,386.1 L233.3,390.7 L234.0,404.6 L234.1,408.7 L234.8,415.6 L235.2,423.5 L235.6,423.5 L236.3,423.4 L237.1,425.2 L237.3,425.0 L237.8,425.7 L238.6,426.1 L239.4,426.1 L239.9,425.7 L240.1,425.6 L240.9,425.8 L241.6,426.3 L242.4,425.7 L242.5,425.6 L243.2,422.6 L243.5,421.8 L243.5,431.6 L243.2,431.3 L242.5,432.0 L242.4,432.2 L241.6,431.9 L240.9,432.4 L240.1,432.4 L239.4,432.3 L239.0,432.1 L238.6,431.8 L237.8,431.9 L237.1,431.8 L236.3,431.5 L235.6,432.1 L235.5,431.7 L234.8,431.7 L234.1,430.6 L234.0,429.6 L233.3,427.9 L233.1,428.3 L232.5,430.2 L232.0,430.9 L231.8,430.6 L231.0,431.6 L231.0,431.7 L230.2,426.8 L229.9,422.6 L229.5,425.4 L228.9,428.9 L228.7,427.8 L228.0,430.6 L228.0,432.1 L227.2,430.7 L226.8,430.4 L226.4,429.9 L225.7,430.8 L224.9,430.4 L224.2,430.0 L224.2,430.8 L223.4,428.7 L222.6,430.4 L221.9,430.7 L221.9,430.6 L221.1,431.9 L220.4,431.9 L219.6,431.3 L218.9,431.4 L218.8,432.1 L218.1,431.9 L217.3,431.9 L216.6,432.0 L215.8,432.0 L215.4,431.7 L215.0,431.6 L214.3,431.4 L213.5,431.1 L212.8,431.6 L212.5,431.0 L212.0,428.2 L211.4,426.3 L211.2,428.3 L210.6,429.1 L210.5,426.7 L209.7,431.4 L209.7,431.2 L209.0,430.8 L208.2,431.5 L207.6,431.6 L207.4,431.6 L206.7,431.5 L205.9,431.3 L205.2,431.0 L205.0,431.2 L204.4,430.2 L203.6,430.6 L203.2,429.8 L202.9,430.3 L202.1,430.3 L201.4,429.8 L200.6,429.4 L200.6,430.1 L199.8,430.3 L199.1,430.8 L198.5,430.7 L198.3,430.3 L197.6,429.7 L197.1,426.0 L196.8,425.1 L196.0,428.5 L195.9,425.8 L195.3,422.6 L194.7,422.0 L194.5,421.5 L193.8,428.4 L193.6,430.8 L193.0,431.8 L192.2,430.9 L191.9,431.4 L191.5,431.2 L190.7,431.5 L190.0,431.0 L189.3,431.2 L189.2,431.4 L188.4,431.4 L187.7,431.4 L186.9,431.3 L186.6,431.6 L186.2,431.8 L185.4,431.1 L184.6,430.8 L184.0,431.3 L183.9,431.3 L183.1,431.0 L182.6,429.8 L182.4,428.6 L181.6,421.3 L181.4,423.6 L180.8,422.1 L180.4,424.4 L180.1,422.1 L179.3,419.7 L179.3,419.9 L178.6,424.2 L178.3,428.5 L177.8,429.8 L177.4,432.0 L177.0,427.6 L176.4,419.0 L176.3,420.9 L175.5,430.9 L175.5,429.0 L174.8,429.5 L174.4,427.1 L174.0,426.4 L173.2,429.1 L172.7,429.1 L172.5,427.6 L171.7,430.0 L171.0,429.9 L170.9,429.7 L170.2,429.3 L169.4,429.6 L169.2,429.1 L168.7,432.4 L167.9,430.4 L167.3,430.6 L167.2,429.6 L166.4,424.7 L166.2,422.6 L165.6,426.0 L165.4,430.3 L164.9,430.0 L164.1,430.6 L163.4,430.9 L163.1,431.1 L162.6,431.6 L161.8,430.8 L161.1,430.7 L160.5,430.8 L160.3,431.4 L159.6,430.8 L158.8,430.9 L158.0,430.6 L157.9,431.1 L157.3,431.5 L156.5,430.2 L155.8,430.9 L155.2,430.3 L155.0,430.1 L154.2,428.2 L153.8,426.6 L153.5,422.6 L152.7,422.3 L152.6,420.4 L152.0,419.6 L151.4,422.8 L151.2,421.6 L150.4,426.4 L150.0,424.7 L149.7,429.4 L149.2,429.0 L148.9,429.7 L148.4,431.1 L148.2,430.9 L147.4,431.9 L146.8,431.1 L146.6,432.4 L145.9,427.5 L145.8,428.0 L145.1,430.2 L144.7,431.0 L144.4,428.7 L143.7,423.5 L143.6,422.5 L142.8,429.9 L142.8,427.5 L142.1,431.4 L141.9,431.3 L141.3,431.3 L140.6,431.2 L139.8,431.5 L139.0,431.2 L138.8,431.5 L138.3,431.7 L137.5,431.6 L136.8,431.3 L136.0,431.4 L135.3,431.0 L135.2,431.4 L134.5,431.3 L133.7,431.3 L133.0,431.2 L132.2,431.6 L131.8,431.8 L131.4,432.1 L130.7,431.6 L129.9,431.6 L129.2,431.7 L128.4,431.5 L128.3,431.7 L127.6,431.0 L126.9,431.3 L126.1,430.8 L125.4,430.5 L124.8,430.6 L124.6,430.5 L123.8,430.5 L123.6,430.6 L123.1,425.7 L122.7,422.1 L122.3,425.4 L122.0,429.2 L121.6,430.9 L121.0,430.2 L120.8,431.0 L120.0,425.6 L119.9,426.1 L119.3,418.2 L118.9,412.4 L118.5,417.5 L117.8,430.4 L117.8,429.5 L117.0,430.6 L116.6,431.5 L116.2,427.9 L115.6,425.2 L115.5,423.5 L114.7,422.2 L114.5,420.2 L114.0,420.4 L113.5,422.9 L113.2,420.0 L112.4,429.5 L112.1,429.4 L111.7,423.8 L110.9,419.7 L110.8,420.0 L110.2,414.4 L109.8,415.1 L109.4,419.1 L108.8,420.2 L108.6,420.6 L107.9,429.2 L107.9,432.1 L107.1,423.6 L106.8,423.2 L106.4,421.7 L105.8,419.2 L105.6,421.6 L104.8,422.4 L104.7,424.2 L104.1,419.0 L103.5,414.4 L103.3,416.2 L102.6,421.2 L102.5,421.9 L101.8,425.4 L101.2,429.7 L101.0,429.5 L100.3,430.6 L99.5,429.4 L99.5,430.4 L98.8,429.9 L98.0,429.3 L97.2,429.3 L96.9,429.3 L96.5,429.4 L95.7,429.4 L95.0,430.1 L94.3,429.6 L94.2,429.2 L93.4,430.9 L92.9,432.0 L92.7,431.4 L91.9,424.1 L91.6,422.2 L91.2,419.8 L90.6,415.8 L90.4,417.2 L89.6,425.5 L89.6,424.8 L88.9,428.4 L88.5,430.2 L88.1,427.6 L87.5,427.0 L87.4,428.7 L86.6,429.2 L86.1,430.8 L85.8,432.4 L85.1,431.1 L84.3,431.2 L84.3,430.8 L83.6,430.4 L82.9,429.1 L82.8,429.2 L82.0,429.1 L81.3,430.6 L81.2,431.4 L80.5,430.9 L79.8,429.3 L79.4,430.9 L79.0,426.5 L78.2,433.1 L77.7,429.0 L77.5,427.1 L76.7,425.8 L76.0,425.0 L75.9,427.4 L75.2,422.5 L74.5,423.2 L74.4,423.9 L73.7,426.6 L73.3,429.3 L72.9,429.9 L72.2,428.9 L71.6,428.0 L71.4,428.7 L70.6,424.9 L69.9,430.7 L69.8,430.3 L69.1,428.5 L68.4,427.1 L68.1,427.4 L67.6,430.7 L66.8,430.7 L66.3,428.6 L66.1,427.7 L65.3,428.5 L64.6,426.9 L64.6,429.7 L63.8,427.9 L63.0,428.6 L62.9,425.3 L62.3,424.5 L61.6,427.6 L61.5,426.8 L60.8,425.1Z" fill="#a9a9a9" stroke="#a9a9a9" stroke-width="0.5" stroke-linejoin="round"/>
<path d="M60.8,366.8 L61.5,413.7 L61.6,420.2 L62.3,406.0 L62.3,404.4 L63.0,402.6 L63.7,400.8 L63.8,403.1 L64.6,398.3 L65.1,398.3 L65.3,401.3 L66.1,400.4 L66.3,403.6 L66.8,406.4 L67.6,407.3 L67.6,408.3 L68.4,409.4 L69.0,414.2 L69.1,413.4 L69.9,411.1 L70.2,408.1 L70.6,407.5 L71.4,411.9 L71.6,413.5 L72.2,409.9 L72.5,409.9 L72.9,414.1 L73.3,414.3 L73.7,407.6 L74.4,393.5 L74.5,390.3 L75.2,391.8 L75.6,395.2 L76.0,400.8 L76.5,408.6 L76.7,405.3 L77.5,411.0 L77.7,406.5 L78.2,414.2 L78.9,412.5 L79.0,414.0 L79.8,420.7 L80.3,425.1 L80.5,424.5 L81.3,424.4 L82.0,426.9 L82.1,425.2 L82.8,403.3 L82.9,401.2 L83.6,408.1 L83.8,412.5 L84.3,423.7 L84.7,430.3 L85.1,429.3 L85.8,425.4 L86.1,423.0 L86.6,412.0 L87.3,399.5 L87.4,400.9 L88.1,409.3 L88.5,414.2 L88.9,407.9 L89.6,393.7 L89.6,391.2 L90.4,378.0 L90.6,375.1 L91.2,385.4 L91.6,397.5 L91.9,401.7 L92.7,423.6 L92.9,428.6 L93.4,426.1 L94.2,423.3 L94.3,423.3 L95.0,424.7 L95.7,425.2 L96.0,423.8 L96.5,424.2 L97.2,423.6 L97.8,423.1 L98.0,423.0 L98.8,424.9 L99.5,425.0 L99.5,424.6 L100.3,423.9 L101.0,424.1 L101.2,424.5 L101.8,414.5 L102.5,396.6 L102.6,396.7 L103.3,384.3 L103.5,377.0 L104.1,389.8 L104.7,407.8 L104.8,408.0 L105.6,391.0 L105.6,392.9 L106.4,397.4 L106.8,400.5 L107.1,404.7 L107.9,417.1 L107.9,419.2 L108.6,390.3 L108.8,388.0 L109.4,382.6 L109.8,380.0 L110.2,385.6 L110.8,394.7 L110.9,395.9 L111.7,411.8 L112.1,423.1 L112.4,417.5 L113.2,405.1 L113.5,401.0 L114.0,397.3 L114.5,392.7 L114.7,393.7 L115.5,406.0 L115.6,408.5 L116.2,417.5 L116.6,425.0 L117.0,423.1 L117.8,424.2 L117.8,423.0 L118.5,389.6 L118.9,372.7 L119.3,385.4 L119.9,408.7 L120.0,407.7 L120.8,418.7 L121.0,420.3 L121.6,420.9 L122.0,419.6 L122.3,409.6 L122.7,402.7 L123.1,414.4 L123.6,425.3 L123.8,425.3 L124.6,426.3 L124.8,426.9 L125.4,427.0 L126.1,427.6 L126.6,427.9 L126.9,428.0 L127.6,428.9 L128.3,429.4 L128.4,429.4 L129.2,429.2 L129.9,428.8 L130.0,428.6 L130.7,428.6 L131.4,429.3 L131.8,429.5 L132.2,429.4 L133.0,429.5 L133.5,429.5 L133.7,429.7 L134.5,428.6 L135.2,428.3 L135.3,428.6 L136.0,429.5 L136.8,429.4 L137.0,429.4 L137.5,429.4 L138.3,429.0 L138.8,428.8 L139.0,429.3 L139.8,429.8 L140.5,429.5 L140.6,429.2 L141.3,428.7 L141.9,428.7 L142.1,425.1 L142.8,406.3 L142.8,406.8 L143.6,395.5 L143.7,394.8 L144.4,415.4 L144.7,426.4 L145.1,422.1 L145.8,412.9 L145.9,415.3 L146.6,424.5 L146.8,426.6 L147.4,424.8 L148.2,427.4 L148.4,426.7 L148.9,419.7 L149.2,415.1 L149.7,404.3 L150.0,393.7 L150.4,399.2 L150.9,403.7 L151.2,398.4 L152.0,383.5 L152.3,376.2 L152.7,386.9 L153.5,410.8 L153.5,411.9 L154.2,419.8 L154.9,426.8 L155.0,427.6 L155.8,426.5 L156.5,428.2 L157.0,428.6 L157.3,428.0 L158.0,428.2 L158.8,427.5 L159.6,426.9 L159.6,426.9 L160.3,426.5 L161.1,426.4 L161.8,427.1 L162.2,427.1 L162.6,426.6 L163.4,426.0 L164.1,425.9 L164.8,426.2 L164.9,424.4 L165.6,396.6 L166.1,382.8 L166.4,396.0 L167.1,423.6 L167.2,421.3 L167.9,418.9 L168.3,416.0 L168.7,413.2 L169.4,407.9 L169.4,411.4 L170.2,417.5 L170.4,420.0 L171.0,420.7 L171.7,419.5 L171.8,417.3 L172.5,413.3 L173.0,411.0 L173.2,409.4 L174.0,404.8 L174.4,398.6 L174.8,408.8 L175.3,422.6 L175.5,411.6 L176.2,369.6 L176.3,377.9 L177.0,413.3 L177.2,424.7 L177.8,418.4 L178.3,415.7 L178.6,402.9 L179.3,372.8 L179.3,370.8 L180.1,388.2 L180.4,396.3 L180.8,396.1 L181.4,393.0 L181.6,400.9 L182.4,420.4 L182.5,422.8 L183.1,424.7 L183.9,427.1 L184.0,427.8 L184.6,427.6 L185.4,428.0 L185.8,428.7 L186.2,428.8 L186.9,428.5 L187.5,429.6 L187.7,429.3 L188.4,428.5 L189.2,428.2 L189.3,428.3 L190.0,429.0 L190.7,428.5 L191.5,428.6 L191.9,428.7 L192.2,426.7 L193.0,426.8 L193.3,424.6 L193.8,411.6 L194.5,382.0 L194.7,380.2 L195.3,389.0 L195.7,393.8 L196.0,396.3 L196.8,396.1 L197.1,396.5 L197.6,403.6 L198.3,415.3 L198.5,417.8 L199.1,421.7 L199.7,421.3 L199.8,422.9 L200.6,420.7 L201.4,418.7 L201.5,418.1 L202.1,419.0 L202.9,418.7 L203.2,420.0 L203.6,420.9 L204.4,425.3 L205.0,426.8 L205.2,427.0 L205.9,428.1 L206.7,428.4 L206.7,428.6 L207.4,427.9 L208.2,427.8 L209.0,427.5 L209.3,427.8 L209.7,423.7 L210.4,414.6 L210.5,416.5 L211.2,403.4 L211.4,400.7 L212.0,414.8 L212.5,426.7 L212.8,426.7 L213.5,428.6 L214.3,427.9 L214.6,428.5 L215.0,428.2 L215.8,427.8 L216.6,427.1 L217.2,427.7 L217.3,426.9 L218.1,428.0 L218.8,427.4 L219.6,427.2 L219.8,427.0 L220.4,427.0 L221.1,426.0 L221.9,424.4 L221.9,425.2 L222.6,422.7 L223.3,419.7 L223.4,419.2 L224.2,418.6 L224.9,417.9 L225.0,420.0 L225.7,420.5 L226.4,419.7 L226.8,420.4 L227.2,421.8 L227.8,424.5 L228.0,420.7 L228.7,405.2 L228.9,397.6 L229.5,384.1 L229.9,377.2 L230.2,392.8 L231.0,426.1 L231.0,427.7 L231.8,418.7 L232.0,415.1 L232.5,410.4 L233.1,406.1 L233.3,409.7 L234.0,420.5 L234.1,419.6 L234.8,425.1 L235.2,427.6 L235.6,427.7 L236.3,428.1 L237.1,428.2 L237.3,428.7 L237.8,428.4 L238.6,428.9 L239.4,428.8 L239.9,428.7 L240.1,428.8 L240.9,428.6 L241.6,429.0 L242.4,428.5 L242.5,428.5 L243.2,427.7 L243.5,427.6" fill="none" stroke="#0d0d0d" stroke-width="1.1" stroke-linejoin="round"/>
<path d="M285.2,414.1 L286.0,389.9 L286.3,380.6 L286.8,336.2 L287.3,284.2 L287.5,301.1 L288.2,365.7 L288.3,363.4 L289.0,344.6 L289.1,344.1 L289.8,381.2 L290.1,396.8 L290.6,406.0 L291.3,428.2 L291.3,428.4 L292.1,429.5 L292.8,430.7 L293.6,431.7 L294.0,432.1 L294.4,432.1 L295.1,431.8 L295.9,431.8 L296.6,431.5 L297.4,431.5 L297.5,431.6 L298.2,431.8 L298.9,431.5 L299.7,432.0 L300.4,431.9 L300.9,432.2 L301.2,432.3 L302.0,432.0 L302.7,431.9 L303.5,431.8 L304.2,432.1 L304.4,432.1 L305.0,431.4 L305.8,430.3 L306.5,428.7 L307.1,428.5 L307.3,422.2 L307.9,407.7 L308.0,404.3 L308.8,385.0 L309.0,380.9 L309.6,406.9 L310.0,421.8 L310.3,424.4 L311.1,429.6 L311.4,431.1 L311.8,431.3 L312.6,431.2 L313.4,431.7 L314.1,431.2 L314.9,431.0 L314.9,431.2 L315.6,431.1 L316.4,431.3 L317.2,430.9 L317.9,430.8 L318.4,430.8 L318.7,430.2 L319.4,430.3 L320.2,430.0 L321.0,429.9 L321.7,429.7 L321.9,429.5 L322.5,428.5 L323.2,426.9 L323.6,427.0 L324.0,428.1 L324.8,430.1 L325.0,430.4 L325.5,430.3 L326.3,430.6 L327.0,430.7 L327.8,431.0 L328.6,431.3 L328.9,431.2 L329.3,431.0 L330.1,431.1 L330.8,431.3 L331.6,431.3 L332.4,431.2 L332.4,431.3 L333.1,430.7 L333.9,430.5 L334.6,430.3 L335.4,429.6 L335.8,429.3 L336.2,429.4 L336.9,430.6 L337.7,429.7 L338.4,430.8 L338.5,430.6 L339.2,431.2 L340.0,430.5 L340.7,430.7 L341.5,430.4 L342.2,430.7 L342.8,430.9 L343.0,430.8 L343.8,431.0 L344.5,430.6 L345.3,430.5 L346.0,430.9 L346.3,430.7 L346.8,430.7 L347.6,430.8 L348.3,430.6 L349.1,431.1 L349.8,430.9 L349.8,430.9 L350.6,430.6 L351.4,430.7 L352.1,430.4 L352.9,430.3 L353.3,430.4 L353.6,430.2 L354.4,430.3 L355.2,429.5 L355.9,430.2 L356.7,429.7 L356.8,430.0 L357.4,430.3 L358.2,430.0 L359.0,430.0 L359.7,429.8 L360.3,430.0 L360.5,430.1 L361.2,429.5 L362.0,429.9 L362.8,429.8 L363.4,429.6 L363.5,429.0 L364.3,425.0 L364.5,425.2 L365.0,419.6 L365.5,415.2 L365.8,418.2 L366.6,427.9 L366.6,428.6 L367.3,429.9 L368.1,430.3 L368.8,431.2 L369.0,431.2 L369.6,430.8 L370.4,430.4 L371.1,430.6 L371.9,430.8 L372.5,430.2 L372.6,430.2 L373.4,430.0 L374.2,429.7 L374.2,429.8 L374.9,429.5 L375.0,429.4 L375.7,429.0 L376.4,429.9 L377.2,430.1 L378.0,430.3 L378.5,430.5 L378.7,430.7 L379.5,430.6 L380.2,430.5 L381.0,430.6 L381.8,430.4 L382.0,430.9 L382.5,430.8 L383.3,430.8 L384.0,430.7 L384.8,430.3 L385.5,430.4 L385.6,430.2 L386.3,430.3 L387.1,430.5 L387.8,430.7 L388.6,430.7 L389.0,430.9 L389.4,431.2 L390.1,430.4 L390.9,430.9 L391.6,430.0 L391.6,430.1 L392.4,428.8 L393.2,428.1 L393.3,427.8 L393.9,428.1 L394.7,428.7 L395.1,428.8 L395.4,427.8 L396.2,426.8 L396.8,425.9 L397.0,426.3 L397.7,428.6 L398.5,429.5 L398.6,429.4 L399.2,429.5 L400.0,428.7 L400.8,429.1 L401.2,428.7 L401.5,428.6 L402.3,428.3 L403.0,429.3 L403.8,429.1 L403.8,428.8 L404.6,427.6 L405.3,424.9 L405.5,424.9 L406.1,425.7 L406.8,424.9 L407.3,425.9 L407.6,426.2 L408.4,428.6 L409.0,429.5 L409.1,429.4 L409.9,429.2 L410.6,428.1 L410.8,428.7 L411.4,427.0 L412.0,425.8 L412.2,425.8 L412.9,424.4 L413.4,424.3 L413.7,425.3 L414.4,428.2 L414.8,429.3 L415.2,429.2 L416.0,429.7 L416.7,429.2 L417.5,429.8 L417.8,429.4 L418.2,429.7 L419.0,430.0 L419.8,430.2 L420.4,430.8 L420.5,430.5 L421.3,430.2 L422.0,430.5 L422.8,430.5 L423.0,430.0 L423.6,430.0 L424.3,430.1 L425.1,430.2 L425.6,430.3 L425.8,429.3 L426.6,427.5 L427.4,425.3 L427.4,424.7 L428.1,410.2 L428.4,402.9 L428.9,398.8 L429.5,396.5 L429.6,395.4 L430.4,406.2 L430.5,404.3 L431.2,419.6 L431.5,428.5 L431.9,428.6 L432.7,429.2 L433.4,428.4 L433.5,428.5 L434.2,427.1 L435.0,425.3 L435.2,424.7 L435.7,426.3 L436.4,429.4 L436.5,429.4 L437.2,428.8 L437.8,428.6 L438.0,427.6 L438.8,423.4 L438.9,422.5 L439.5,427.0 L439.9,429.6 L440.3,429.7 L441.0,430.0 L441.8,430.7 L442.2,430.8 L442.6,430.7 L443.3,429.5 L443.9,428.8 L444.1,428.4 L444.8,426.1 L445.2,424.8 L445.6,426.6 L446.4,429.8 L446.6,430.8 L447.1,430.4 L447.9,430.7 L448.6,430.5 L449.2,430.0 L449.4,429.9 L450.2,429.1 L450.9,428.4 L450.9,428.5 L451.7,429.1 L452.4,430.0 L453.2,431.0 L453.5,430.8 L454.0,430.6 L454.7,430.8 L455.5,431.0 L456.2,430.6 L456.2,430.7 L457.0,430.4 L457.8,430.9 L458.5,430.9 L458.8,430.9 L459.3,430.8 L460.0,429.7 L460.8,429.7 L461.4,429.5 L461.6,429.0 L462.3,429.5 L463.1,428.6 L463.8,428.8 L464.0,428.6 L464.6,428.4 L465.4,428.2 L466.1,428.4 L466.6,427.6 L466.9,428.0 L467.6,429.7 L468.2,430.8 L468.2,434.1 L467.6,434.2 L466.9,434.4 L466.1,433.8 L465.4,434.2 L464.6,434.2 L463.8,434.1 L463.1,434.1 L462.3,434.2 L461.6,433.9 L460.8,434.2 L460.0,433.9 L459.3,434.1 L458.5,434.0 L457.8,434.0 L457.0,434.4 L456.2,434.1 L455.5,434.1 L454.7,434.3 L454.0,434.5 L453.2,434.1 L452.4,434.1 L451.7,434.5 L450.9,433.7 L450.2,434.2 L449.4,434.1 L448.6,434.3 L447.9,434.2 L447.1,434.4 L446.4,434.2 L445.6,434.2 L444.8,434.7 L444.1,434.2 L443.3,434.0 L442.6,434.2 L441.8,434.2 L441.0,434.1 L440.3,434.4 L439.5,434.2 L438.8,434.3 L438.0,433.9 L437.2,434.2 L436.5,433.8 L435.7,433.9 L435.0,434.4 L434.2,434.3 L433.4,433.6 L432.7,434.1 L431.9,434.1 L431.5,434.0 L431.2,434.1 L430.5,432.6 L430.4,430.9 L429.6,431.0 L429.5,430.6 L428.9,434.4 L428.4,431.8 L428.1,432.7 L427.4,434.3 L427.4,434.3 L426.6,434.1 L425.8,434.0 L425.1,434.4 L424.3,434.2 L423.6,434.1 L422.8,434.0 L422.0,434.3 L421.3,433.8 L420.5,433.9 L419.8,434.4 L419.0,433.6 L418.2,434.2 L417.5,434.1 L416.7,434.0 L416.0,434.1 L415.2,434.2 L414.4,434.4 L413.7,434.6 L412.9,434.3 L412.2,434.4 L411.4,433.5 L410.6,433.8 L409.9,434.1 L409.1,434.2 L408.4,434.3 L407.6,434.4 L406.8,433.3 L406.1,433.5 L405.3,433.5 L404.6,434.1 L403.8,433.9 L403.0,434.1 L402.3,434.2 L401.5,433.7 L400.8,434.2 L400.0,433.3 L399.2,434.1 L398.5,433.7 L397.7,434.3 L397.0,434.1 L396.2,434.2 L395.4,434.3 L394.7,434.4 L393.9,433.7 L393.2,433.7 L392.4,433.7 L391.6,434.1 L390.9,434.0 L390.1,434.4 L389.4,434.1 L388.6,434.2 L387.8,434.0 L387.1,434.4 L386.3,434.0 L385.6,434.3 L384.8,433.8 L384.0,433.8 L383.3,434.0 L382.5,433.9 L381.8,433.9 L381.0,434.0 L380.2,434.0 L379.5,433.8 L378.7,434.2 L378.0,433.9 L377.2,433.9 L376.4,434.3 L375.7,434.0 L375.0,433.9 L374.9,434.1 L374.2,434.3 L374.2,434.6 L373.4,434.3 L372.6,434.3 L371.9,434.0 L371.1,434.3 L370.4,434.2 L369.6,434.4 L368.8,434.3 L368.1,434.2 L367.3,434.3 L366.6,434.1 L366.6,434.4 L365.8,432.0 L365.5,431.2 L365.0,432.6 L364.5,434.0 L364.3,434.4 L363.5,434.2 L362.8,434.1 L362.0,434.1 L361.2,433.9 L360.5,434.4 L359.7,434.0 L359.0,434.5 L358.2,434.4 L357.4,434.2 L356.7,434.3 L355.9,434.5 L355.2,434.1 L354.4,434.1 L353.6,434.2 L352.9,434.4 L352.1,434.1 L351.4,434.3 L350.6,434.2 L349.8,434.0 L349.1,434.4 L348.3,434.2 L347.6,434.4 L346.8,434.1 L346.0,434.4 L345.3,434.6 L344.5,434.1 L343.8,434.1 L343.0,434.6 L342.2,434.3 L341.5,434.3 L340.7,434.7 L340.0,434.5 L339.2,434.5 L338.4,434.4 L337.7,434.5 L336.9,434.6 L336.2,434.8 L335.4,434.3 L334.6,434.4 L333.9,434.2 L333.1,434.4 L332.4,434.5 L332.4,434.4 L331.6,434.6 L330.8,434.7 L330.1,434.4 L329.3,434.6 L328.6,434.5 L327.8,434.1 L327.0,434.3 L326.3,434.4 L325.5,434.4 L324.8,434.4 L324.0,435.1 L323.2,434.1 L322.5,434.4 L321.7,434.3 L321.0,434.4 L320.2,434.6 L319.4,434.4 L318.7,434.4 L317.9,434.2 L317.2,434.2 L316.4,434.2 L315.6,434.1 L314.9,434.1 L314.1,434.2 L313.4,434.2 L312.6,434.4 L311.8,434.3 L311.1,434.4 L310.3,433.3 L310.0,434.2 L309.6,431.2 L309.0,428.1 L308.8,428.3 L308.0,433.0 L307.9,434.3 L307.3,433.8 L306.5,434.0 L305.8,434.4 L305.0,434.3 L304.2,434.3 L303.5,434.5 L302.7,434.3 L302.0,434.3 L301.2,434.3 L300.4,434.4 L299.7,434.5 L298.9,434.4 L298.2,434.5 L297.5,434.5 L297.4,434.6 L296.6,434.5 L295.9,434.5 L295.1,434.6 L294.4,434.5 L293.6,434.4 L292.8,434.1 L292.1,434.2 L291.3,434.5 L290.6,433.7 L290.1,433.3 L289.8,431.6 L289.1,425.9 L289.0,425.4 L288.3,428.9 L288.2,428.6 L287.5,426.9 L287.3,422.9 L286.8,427.7 L286.0,428.9 L285.2,434.3Z" fill="#a9a9a9" stroke="#a9a9a9" stroke-width="0.5" stroke-linejoin="round"/>
<path d="M285.2,421.7 L286.0,410.9 L286.3,406.7 L286.8,384.3 L287.3,354.9 L287.5,364.6 L288.2,394.1 L288.3,391.9 L289.0,379.3 L289.1,380.1 L289.8,414.3 L290.1,425.3 L290.6,429.4 L291.3,432.9 L291.3,433.0 L292.1,433.0 L292.8,433.3 L293.6,433.3 L294.0,433.5 L294.4,433.5 L295.1,433.0 L295.9,433.3 L296.6,433.0 L297.4,433.2 L297.5,432.9 L298.2,432.9 L298.9,433.2 L299.7,433.2 L300.4,433.5 L300.9,433.5 L301.2,433.5 L302.0,433.4 L302.7,433.4 L303.5,433.5 L304.2,433.5 L304.4,433.5 L305.0,433.2 L305.8,432.9 L306.5,432.2 L307.1,431.9 L307.3,429.8 L307.9,423.4 L308.0,422.7 L308.8,413.1 L309.0,407.2 L309.6,418.6 L310.0,430.5 L310.3,431.2 L311.1,432.8 L311.4,433.3 L311.8,433.3 L312.6,433.5 L313.4,433.4 L314.1,433.3 L314.9,433.0 L314.9,433.2 L315.6,433.3 L316.4,433.0 L317.2,433.1 L317.9,433.1 L318.4,433.0 L318.7,433.2 L319.4,432.8 L320.2,432.7 L321.0,432.1 L321.7,432.1 L321.9,432.0 L322.5,431.2 L323.2,430.9 L323.6,430.3 L324.0,430.6 L324.8,431.8 L325.0,432.5 L325.5,432.6 L326.3,432.5 L327.0,432.6 L327.8,432.8 L328.6,432.7 L328.9,432.9 L329.3,433.1 L330.1,433.0 L330.8,432.9 L331.6,433.1 L332.4,433.2 L332.4,433.2 L333.1,432.5 L333.9,432.6 L334.6,432.2 L335.4,431.7 L335.8,431.8 L336.2,432.5 L336.9,432.2 L337.7,432.4 L338.4,433.0 L338.5,433.0 L339.2,432.7 L340.0,432.8 L340.7,432.4 L341.5,432.5 L342.2,432.5 L342.8,432.6 L343.0,432.5 L343.8,432.8 L344.5,432.5 L345.3,433.2 L346.0,432.9 L346.3,433.0 L346.8,432.8 L347.6,432.5 L348.3,433.0 L349.1,433.3 L349.8,432.9 L349.8,433.0 L350.6,432.7 L351.4,432.7 L352.1,432.4 L352.9,433.0 L353.3,432.4 L353.6,432.3 L354.4,432.2 L355.2,432.1 L355.9,432.0 L356.7,432.3 L356.8,431.9 L357.4,432.2 L358.2,432.0 L359.0,432.3 L359.7,432.5 L360.3,432.4 L360.5,432.6 L361.2,432.2 L362.0,432.0 L362.8,432.0 L363.4,432.2 L363.5,431.4 L364.3,429.6 L364.5,428.4 L365.0,426.4 L365.5,424.4 L365.8,426.9 L366.6,431.9 L366.6,432.1 L367.3,431.9 L368.1,432.5 L368.8,432.9 L369.0,432.9 L369.6,432.8 L370.4,432.7 L371.1,432.3 L371.9,432.2 L372.5,432.1 L372.6,431.9 L373.4,431.7 L374.2,432.0 L374.2,431.5 L374.9,431.2 L375.0,431.2 L375.7,430.9 L376.4,431.5 L377.2,432.0 L378.0,432.1 L378.5,432.2 L378.7,432.0 L379.5,432.4 L380.2,432.6 L381.0,432.8 L381.8,433.2 L382.0,432.9 L382.5,433.2 L383.3,432.8 L384.0,432.7 L384.8,432.4 L385.5,432.4 L385.6,432.5 L386.3,432.7 L387.1,432.6 L387.8,432.6 L388.6,432.4 L389.0,433.0 L389.4,432.7 L390.1,432.4 L390.9,432.2 L391.6,432.1 L391.6,432.1 L392.4,431.4 L393.2,429.8 L393.3,430.4 L393.9,430.4 L394.7,430.8 L395.1,431.1 L395.4,430.7 L396.2,429.9 L396.8,429.6 L397.0,429.9 L397.7,430.4 L398.5,431.2 L398.6,431.6 L399.2,432.1 L400.0,431.5 L400.8,431.2 L401.2,431.3 L401.5,430.8 L402.3,430.9 L403.0,431.0 L403.8,431.2 L403.8,431.2 L404.6,429.9 L405.3,428.8 L405.5,428.7 L406.1,429.5 L406.8,429.8 L407.3,430.1 L407.6,430.8 L408.4,431.2 L409.0,432.1 L409.1,431.9 L409.9,431.6 L410.6,431.2 L410.8,431.2 L411.4,429.5 L412.0,428.7 L412.2,428.7 L412.9,428.4 L413.4,429.4 L413.7,430.8 L414.4,431.9 L414.8,431.9 L415.2,431.6 L416.0,432.1 L416.7,431.6 L417.5,431.7 L417.8,431.8 L418.2,431.8 L419.0,432.1 L419.8,432.5 L420.4,432.9 L420.5,433.3 L421.3,432.7 L422.0,432.3 L422.8,432.3 L423.0,432.2 L423.6,432.1 L424.3,432.6 L425.1,432.6 L425.6,432.9 L425.8,432.7 L426.6,431.5 L427.4,430.0 L427.4,430.3 L428.1,423.0 L428.4,419.8 L428.9,417.1 L429.5,414.6 L429.6,416.3 L430.4,421.3 L430.5,420.4 L431.2,427.9 L431.5,432.1 L431.9,432.3 L432.7,431.7 L433.4,431.0 L433.5,431.2 L434.2,430.0 L435.0,428.7 L435.2,428.8 L435.7,430.0 L436.4,432.1 L436.5,432.1 L437.2,431.7 L437.8,431.3 L438.0,430.4 L438.8,427.6 L438.9,427.9 L439.5,430.4 L439.9,432.1 L440.3,432.3 L441.0,432.3 L441.8,432.9 L442.2,432.9 L442.6,432.6 L443.3,432.1 L443.9,431.3 L444.1,431.8 L444.8,430.0 L445.2,429.4 L445.6,429.8 L446.4,432.3 L446.6,432.9 L447.1,432.4 L447.9,432.6 L448.6,432.2 L449.2,432.1 L449.4,431.9 L450.2,431.7 L450.9,431.2 L450.9,431.3 L451.7,431.5 L452.4,432.6 L453.2,432.7 L453.5,433.0 L454.0,433.1 L454.7,432.6 L455.5,432.9 L456.2,432.5 L456.2,432.5 L457.0,432.9 L457.8,433.0 L458.5,432.8 L458.8,432.9 L459.3,432.5 L460.0,432.6 L460.8,431.9 L461.4,431.8 L461.6,431.7 L462.3,431.4 L463.1,431.1 L463.8,431.2 L464.0,431.0 L464.6,431.0 L465.4,431.2 L466.1,431.7 L466.6,431.8 L466.9,431.9 L467.6,432.0 L468.2,433.0" fill="none" stroke="#0d0d0d" stroke-width="1.2" stroke-linejoin="round"/>
<path d="M507.8,303.0 L508.4,257.6 L508.5,277.2 L509.3,387.9 L509.3,388.9 L510.1,413.3 L510.6,428.1 L510.8,427.8 L511.6,426.7 L512.3,426.3 L512.3,424.2 L513.1,392.0 L513.8,366.3 L513.9,357.8 L514.6,301.4 L515.3,253.6 L515.4,263.4 L516.1,324.6 L516.3,341.0 L516.9,350.5 L517.4,357.2 L517.7,346.7 L518.4,310.7 L518.5,308.6 L519.2,256.8 L519.3,243.4 L519.9,303.8 L520.4,345.4 L520.7,364.4 L521.5,407.8 L521.7,421.9 L522.2,423.4 L523.0,425.9 L523.4,428.2 L523.7,417.6 L524.4,388.4 L524.5,384.5 L525.3,366.1 L525.5,358.3 L526.0,382.6 L526.6,409.0 L526.8,410.9 L527.5,426.2 L527.7,428.2 L528.3,425.3 L529.1,422.4 L529.1,421.7 L529.8,346.0 L530.0,324.1 L530.6,293.1 L530.6,288.2 L531.3,320.9 L531.5,331.9 L532.1,330.4 L532.4,329.6 L532.9,340.2 L533.2,348.4 L533.6,342.9 L534.1,336.5 L534.4,350.7 L534.9,374.8 L535.1,381.3 L535.9,410.6 L536.2,421.7 L536.7,422.9 L537.4,426.5 L538.2,427.7 L538.3,428.2 L538.9,420.6 L539.6,412.9 L539.7,409.0 L540.5,373.4 L540.7,362.5 L541.2,388.3 L541.8,414.3 L542.0,415.1 L542.7,422.6 L543.0,425.9 L543.5,426.1 L544.3,426.6 L544.8,427.4 L545.0,426.7 L545.8,427.0 L546.5,427.4 L547.3,427.1 L548.0,426.9 L548.1,426.5 L548.8,427.5 L549.6,427.1 L550.3,427.9 L551.1,428.3 L551.2,428.2 L551.9,428.6 L552.6,428.4 L553.4,428.4 L554.1,428.9 L554.9,429.2 L555.4,429.2 L555.7,429.3 L556.4,429.2 L557.2,429.2 L557.9,430.0 L558.7,429.9 L559.5,429.9 L559.7,429.9 L560.2,429.8 L561.0,429.5 L561.7,429.7 L562.5,429.7 L563.3,429.4 L564.0,429.4 L564.0,429.6 L564.8,429.2 L565.5,429.6 L566.3,428.9 L567.1,429.1 L567.8,428.4 L568.3,428.9 L568.6,428.5 L569.3,427.3 L570.1,427.4 L570.9,426.1 L571.5,425.7 L571.6,423.2 L572.4,411.3 L573.0,401.3 L573.1,396.8 L573.9,365.2 L574.3,348.8 L574.7,339.4 L575.3,323.7 L575.4,320.9 L576.0,301.3 L576.2,297.4 L576.6,285.7 L576.9,301.3 L577.2,323.9 L577.7,351.7 L577.9,367.1 L578.5,359.8 L578.5,358.0 L579.2,370.4 L579.2,369.5 L579.8,344.9 L580.0,339.5 L580.5,321.8 L580.7,336.0 L580.9,344.1 L581.5,356.7 L581.5,358.7 L581.9,333.1 L582.3,323.5 L582.4,319.3 L582.8,340.2 L583.0,351.7 L583.4,364.4 L583.8,351.5 L584.1,336.0 L584.5,322.2 L584.7,312.3 L585.2,295.1 L585.3,307.3 L585.6,320.9 L586.1,344.1 L586.2,353.2 L586.8,320.7 L586.9,319.3 L587.3,343.7 L587.6,343.9 L587.9,349.3 L588.3,301.6 L588.6,277.4 L589.0,323.5 L589.1,329.0 L589.6,358.4 L589.9,339.5 L590.1,323.0 L590.5,300.1 L590.6,309.1 L590.9,334.0 L591.4,355.9 L591.6,370.6 L592.1,393.3 L592.4,409.1 L592.9,414.7 L593.7,419.0 L594.3,426.3 L594.4,426.5 L595.2,423.7 L595.9,423.0 L596.1,421.5 L596.7,411.5 L596.9,409.6 L597.0,404.9 L597.5,411.6 L598.1,422.2 L598.2,421.9 L599.0,426.7 L599.6,428.1 L599.7,428.4 L600.5,428.8 L601.3,429.2 L602.0,430.4 L602.3,430.4 L602.8,430.3 L603.5,430.6 L604.3,430.7 L605.1,430.7 L605.8,430.8 L606.6,430.6 L607.3,430.6 L607.7,430.9 L608.1,430.7 L608.9,431.0 L609.6,430.6 L610.4,431.1 L611.1,430.6 L611.9,430.7 L612.7,430.7 L613.4,430.7 L614.1,430.8 L614.2,430.7 L614.9,430.9 L615.7,431.0 L616.5,430.8 L617.2,430.8 L618.0,430.9 L618.7,430.7 L619.5,430.6 L620.3,430.5 L620.5,430.4 L621.0,430.9 L621.8,430.3 L622.5,430.4 L623.3,430.5 L624.1,430.5 L624.8,430.5 L625.6,431.0 L626.3,430.5 L626.9,430.8 L627.1,430.8 L627.9,430.6 L628.6,430.9 L629.4,430.6 L630.1,430.7 L630.9,430.4 L631.7,430.5 L632.4,430.1 L633.2,430.3 L633.3,430.4 L633.9,429.9 L634.7,430.5 L635.5,430.3 L636.2,430.6 L637.0,430.2 L637.7,430.7 L638.5,430.4 L638.7,430.4 L639.3,429.9 L640.0,429.7 L640.8,429.0 L641.5,428.5 L641.5,427.8 L642.3,414.8 L642.5,414.4 L643.1,420.7 L643.6,427.3 L643.8,427.1 L644.6,427.4 L645.3,427.6 L646.1,428.0 L646.9,427.7 L647.2,428.2 L647.6,428.9 L648.4,428.0 L649.1,428.0 L649.9,428.0 L650.7,428.1 L651.4,428.9 L652.2,429.1 L652.6,428.7 L652.9,429.0 L653.7,428.9 L654.5,429.2 L655.2,429.8 L656.0,428.4 L656.7,428.8 L657.5,429.2 L657.9,428.8 L658.3,429.2 L659.0,428.8 L659.8,428.8 L660.5,429.0 L661.1,429.0 L661.3,428.8 L662.1,427.3 L662.8,427.2 L663.6,426.8 L663.7,426.2 L664.3,413.1 L665.0,403.4 L665.1,404.3 L665.9,421.8 L666.0,426.3 L666.6,426.6 L667.4,428.0 L668.1,429.7 L668.6,430.1 L668.9,430.1 L669.7,429.3 L670.4,428.9 L671.2,428.4 L671.4,428.2 L671.9,406.6 L672.7,377.8 L672.7,376.7 L673.5,338.9 L673.7,323.9 L674.2,313.2 L674.8,298.8 L675.0,294.1 L675.7,277.8 L675.9,271.7 L676.5,310.6 L676.9,334.5 L677.3,359.3 L678.0,422.5 L678.0,422.0 L678.8,426.5 L679.3,429.4 L679.5,429.4 L680.3,428.8 L681.1,429.0 L681.8,429.9 L682.6,429.2 L683.3,429.7 L684.1,428.8 L684.6,429.0 L684.9,429.0 L685.6,428.4 L686.4,428.7 L687.1,429.5 L687.9,429.3 L688.7,429.3 L688.9,429.5 L689.4,429.1 L690.2,430.2 L690.9,429.4 L691.3,429.7 L691.3,433.5 L690.9,433.8 L690.2,433.5 L689.4,433.7 L688.7,433.5 L687.9,433.6 L687.1,433.6 L686.4,433.8 L685.6,433.9 L684.9,433.5 L684.1,433.3 L683.3,433.4 L682.6,433.5 L681.8,433.7 L681.1,433.5 L680.3,433.5 L679.5,433.8 L679.3,433.6 L678.8,433.7 L678.0,434.7 L678.0,434.7 L677.3,435.2 L676.5,433.6 L675.7,435.2 L675.0,433.8 L674.2,435.2 L673.5,435.2 L672.7,432.4 L672.7,434.8 L671.9,435.1 L671.4,433.6 L671.2,433.6 L670.4,433.4 L669.7,433.4 L668.9,433.8 L668.1,433.8 L667.4,433.8 L666.6,433.8 L665.9,433.9 L665.1,428.7 L664.3,433.4 L663.6,433.8 L662.8,433.5 L662.1,433.3 L661.3,433.3 L660.5,433.3 L659.8,433.8 L659.0,433.5 L658.3,433.7 L657.5,433.5 L656.7,433.3 L656.0,433.2 L655.2,433.6 L654.5,433.7 L653.7,433.6 L652.9,434.3 L652.2,433.7 L651.4,433.3 L650.7,433.7 L649.9,433.6 L649.1,433.3 L648.4,433.3 L647.6,433.5 L646.9,434.0 L646.1,433.5 L645.3,434.3 L644.6,433.4 L643.8,433.3 L643.1,432.7 L642.3,432.8 L641.5,433.5 L640.8,433.6 L640.0,433.3 L639.3,433.7 L638.5,433.7 L637.7,433.5 L637.0,433.9 L636.2,433.6 L635.5,433.7 L634.7,433.6 L633.9,433.4 L633.2,433.7 L632.4,433.3 L631.7,433.6 L630.9,433.6 L630.1,433.5 L629.4,433.5 L628.6,433.6 L627.9,433.5 L627.1,433.5 L626.3,433.7 L625.6,433.5 L624.8,433.4 L624.1,433.5 L623.3,433.5 L622.5,433.5 L621.8,433.7 L621.0,433.6 L620.3,433.6 L619.5,433.6 L618.7,433.5 L618.0,433.7 L617.2,433.7 L616.5,433.6 L615.7,433.5 L614.9,433.2 L614.2,433.6 L613.4,433.7 L612.7,433.4 L611.9,433.5 L611.1,433.4 L610.4,433.7 L609.6,433.4 L608.9,433.7 L608.1,433.7 L607.3,433.6 L606.6,433.5 L605.8,433.6 L605.1,433.7 L604.3,433.6 L603.5,433.6 L602.8,433.7 L602.0,433.7 L601.3,433.5 L600.5,433.6 L599.7,433.7 L599.0,433.6 L598.2,433.9 L597.5,433.4 L597.0,432.9 L596.9,433.3 L596.7,434.7 L595.9,433.7 L595.2,433.3 L594.4,433.2 L594.3,433.5 L593.7,433.5 L592.9,434.8 L592.9,434.6 L592.1,433.6 L591.4,435.2 L590.6,435.2 L589.9,434.5 L589.1,435.2 L588.3,435.2 L587.6,435.2 L586.8,435.2 L586.1,432.4 L585.3,435.2 L584.5,434.2 L583.8,434.6 L583.0,434.1 L582.3,434.9 L581.5,435.2 L580.7,433.5 L580.0,434.5 L579.2,434.7 L578.5,432.2 L577.7,433.7 L576.9,433.0 L576.2,433.4 L575.4,433.3 L574.7,432.8 L573.9,435.2 L573.1,435.1 L572.5,434.5 L572.4,435.0 L571.6,434.4 L570.9,433.9 L570.4,433.3 L570.1,433.5 L569.3,433.2 L568.6,432.6 L567.8,433.4 L567.1,433.2 L566.3,433.5 L565.5,433.0 L564.8,433.5 L564.0,433.0 L563.3,433.4 L562.5,433.2 L561.7,433.5 L561.0,433.1 L560.2,433.1 L559.5,433.2 L558.7,433.2 L557.9,433.1 L557.2,432.7 L556.4,433.1 L555.7,433.3 L554.9,433.1 L554.1,433.6 L553.4,432.8 L552.6,433.5 L551.9,433.4 L551.1,433.3 L550.3,433.6 L549.6,432.8 L548.8,433.3 L548.1,433.5 L547.3,432.9 L546.5,433.4 L545.8,433.0 L545.0,433.3 L544.8,433.2 L544.3,434.3 L543.5,434.6 L542.7,435.2 L542.6,434.7 L542.0,433.5 L541.2,435.2 L540.5,435.2 L539.7,435.2 L538.9,435.2 L538.2,435.0 L537.4,434.6 L536.7,434.8 L535.9,433.9 L535.1,433.0 L534.4,434.1 L533.6,434.6 L532.9,435.2 L532.1,435.2 L531.3,434.7 L530.6,434.4 L529.8,435.2 L529.1,434.9 L528.3,434.7 L527.5,435.2 L526.8,435.2 L526.0,435.2 L525.3,435.2 L524.5,433.8 L523.7,434.0 L523.0,434.2 L522.2,434.9 L521.5,435.2 L520.7,435.2 L519.9,435.2 L519.2,434.0 L518.4,433.1 L517.7,435.2 L516.9,432.6 L516.1,435.2 L515.4,433.9 L514.6,434.1 L513.9,434.7 L513.1,435.2 L512.3,434.9 L511.6,434.5 L510.8,435.0 L510.1,434.1 L509.3,433.1 L508.5,434.4 L507.8,435.2Z" fill="#a9a9a9" stroke="#a9a9a9" stroke-width="0.5" stroke-linejoin="round"/>
<path d="M507.8,348.2 L508.4,346.5 L508.5,353.0 L509.3,404.3 L509.7,428.8 L510.1,431.8 L510.8,430.3 L511.6,430.9 L511.6,431.6 L512.3,424.4 L513.1,406.2 L513.8,398.6 L513.9,395.0 L514.6,368.6 L515.3,344.4 L515.4,350.2 L516.1,383.8 L516.3,387.8 L516.9,402.8 L517.4,411.5 L517.7,400.4 L518.4,373.2 L518.5,370.4 L519.2,344.7 L519.3,338.7 L519.9,365.0 L520.4,387.3 L520.7,398.6 L521.5,421.8 L521.7,430.6 L522.2,430.5 L523.0,432.5 L523.4,431.4 L523.7,424.7 L524.4,409.0 L524.5,407.6 L525.3,400.4 L525.5,397.3 L526.0,408.9 L526.6,419.5 L526.8,422.0 L527.5,430.4 L527.7,431.4 L528.3,431.3 L529.1,431.1 L529.1,430.4 L529.8,378.9 L530.0,365.7 L530.6,339.0 L530.6,335.9 L531.3,355.9 L531.5,357.9 L532.1,373.8 L532.4,379.5 L532.9,389.8 L533.2,396.9 L533.6,390.5 L534.1,383.3 L534.4,390.5 L534.9,399.8 L535.1,404.2 L535.9,423.5 L536.2,430.6 L536.7,430.5 L537.4,431.5 L538.2,431.2 L538.3,431.4 L538.9,430.0 L539.6,426.4 L539.7,421.6 L540.5,403.5 L540.7,397.6 L541.2,412.0 L541.8,426.5 L542.0,425.6 L542.7,428.3 L543.0,428.7 L543.5,428.9 L544.3,429.2 L544.8,429.3 L545.0,429.6 L545.8,429.4 L546.5,429.1 L547.3,428.6 L548.0,428.8 L548.1,429.1 L548.8,429.7 L549.6,429.5 L550.3,429.8 L551.1,430.3 L551.2,430.4 L551.9,430.1 L552.6,431.1 L553.4,430.9 L554.1,431.2 L554.9,431.3 L555.4,431.6 L555.7,431.5 L556.4,431.8 L557.2,431.9 L557.9,431.7 L558.7,432.2 L559.5,431.7 L559.7,432.1 L560.2,431.9 L561.0,431.7 L561.7,431.9 L562.5,431.8 L563.3,431.5 L564.0,431.5 L564.0,431.6 L564.8,431.3 L565.5,431.3 L566.3,431.5 L567.1,431.3 L567.8,430.7 L568.3,431.1 L568.6,430.8 L569.3,431.0 L570.1,430.7 L570.9,430.3 L571.5,430.2 L571.6,429.4 L572.4,425.1 L573.0,420.0 L573.1,416.4 L573.9,398.6 L574.3,391.6 L574.7,380.0 L575.3,366.0 L575.4,368.5 L576.2,358.5 L576.4,358.3 L576.9,373.2 L577.2,382.5 L577.7,397.8 L578.1,408.3 L578.5,404.1 L579.0,400.5 L579.2,394.5 L580.0,388.5 L580.0,387.9 L580.7,381.0 L581.1,374.9 L581.5,375.6 L581.9,379.5 L582.3,380.1 L582.8,374.5 L583.0,376.8 L583.8,392.7 L583.9,393.6 L584.5,382.8 L584.7,377.1 L585.3,368.1 L585.6,361.6 L586.1,371.1 L586.7,383.0 L586.8,383.8 L587.5,385.8 L587.6,380.2 L588.3,358.4 L588.6,351.4 L589.1,367.2 L589.6,387.7 L589.9,384.0 L590.5,366.9 L590.6,371.9 L591.4,401.4 L591.4,404.6 L592.1,420.5 L592.4,425.7 L592.9,424.8 L593.7,428.9 L594.3,430.1 L594.4,430.4 L595.2,429.4 L595.9,428.1 L596.1,428.1 L596.7,424.7 L596.9,421.4 L597.0,417.0 L597.5,419.9 L598.1,425.9 L598.2,427.2 L599.0,428.4 L599.6,430.4 L599.7,431.0 L600.5,430.8 L601.3,431.2 L602.0,431.8 L602.3,432.2 L602.8,432.3 L603.5,432.2 L604.3,432.2 L605.1,432.3 L605.8,432.1 L606.6,432.3 L607.3,432.6 L607.7,432.4 L608.1,432.3 L608.9,432.6 L609.6,432.5 L610.4,432.9 L611.1,432.4 L611.9,432.5 L612.7,432.2 L613.4,432.8 L614.1,432.6 L614.2,432.3 L614.9,432.5 L615.7,432.4 L616.5,432.3 L617.2,432.7 L618.0,432.2 L618.7,432.1 L619.5,432.0 L620.3,432.1 L620.5,432.2 L621.0,432.3 L621.8,432.3 L622.5,432.5 L623.3,431.9 L624.1,432.5 L624.8,432.7 L625.6,432.3 L626.3,432.6 L626.9,432.5 L627.1,432.5 L627.9,432.3 L628.6,432.4 L629.4,432.7 L630.1,432.2 L630.9,432.2 L631.7,432.3 L632.4,431.9 L633.2,432.0 L633.3,432.0 L633.9,432.1 L634.7,432.0 L635.5,432.4 L636.2,432.3 L637.0,432.1 L637.7,432.2 L638.5,432.0 L638.7,432.1 L639.3,431.7 L640.0,431.7 L640.8,431.9 L641.5,431.6 L641.5,430.5 L642.3,424.1 L642.5,422.0 L643.1,426.1 L643.6,429.9 L643.8,429.9 L644.6,430.1 L645.3,430.6 L646.1,430.4 L646.9,430.1 L647.2,430.5 L647.6,430.4 L648.4,431.0 L649.1,430.5 L649.9,430.4 L650.7,431.2 L651.4,431.1 L652.2,430.1 L652.6,430.7 L652.9,430.8 L653.7,431.0 L654.5,431.1 L655.2,431.1 L656.0,431.2 L656.7,430.7 L657.5,431.0 L657.9,431.1 L658.3,431.0 L659.0,431.2 L659.8,431.6 L660.5,431.3 L661.1,431.4 L661.3,431.5 L662.1,430.9 L662.8,430.9 L663.6,430.3 L663.7,430.3 L664.3,425.7 L665.0,418.9 L665.1,420.1 L665.9,428.0 L666.0,430.5 L666.6,431.3 L667.4,430.8 L668.1,431.7 L668.6,432.1 L668.9,432.0 L669.7,431.9 L670.4,431.2 L671.2,431.4 L671.4,431.6 L671.9,422.7 L672.7,408.7 L672.7,406.5 L673.5,385.9 L673.7,377.2 L674.2,367.8 L674.8,362.1 L675.0,359.0 L675.7,349.5 L675.9,349.8 L676.5,369.0 L676.9,383.4 L677.3,398.2 L678.0,432.1 L678.0,431.9 L678.8,431.0 L679.5,431.7 L680.3,431.7 L680.4,431.3 L681.1,431.8 L681.8,431.3 L682.6,431.6 L683.3,431.5 L684.1,431.0 L684.6,430.9 L684.9,431.0 L685.6,430.4 L686.4,431.2 L687.1,431.2 L687.9,431.5 L688.7,431.5 L688.9,431.4 L689.4,431.0 L690.2,431.2 L690.9,431.5 L691.3,431.5" fill="none" stroke="#0d0d0d" stroke-width="1.1" stroke-linejoin="round"/>
<path d="M60.4,661.1 L60.9,654.9 L61.1,654.3 L61.9,654.2 L62.1,653.4 L62.7,651.5 L63.2,649.5 L63.4,650.9 L64.2,654.5 L64.2,654.7 L64.9,655.2 L65.6,654.8 L65.7,654.9 L66.5,655.2 L67.0,655.6 L67.2,656.0 L68.0,656.8 L68.5,657.5 L68.7,658.0 L69.5,656.9 L69.9,656.4 L70.3,656.1 L71.0,655.4 L71.3,654.8 L71.8,655.1 L72.5,656.0 L72.7,656.0 L73.3,655.9 L74.1,655.5 L74.1,655.4 L74.8,654.3 L75.5,653.2 L75.6,653.0 L76.3,652.2 L77.0,651.9 L77.1,652.1 L77.9,651.2 L78.4,650.5 L78.6,650.8 L79.4,651.5 L79.8,652.4 L80.1,651.7 L80.9,651.2 L81.2,650.3 L81.7,650.4 L82.4,649.0 L82.6,649.2 L83.2,648.6 L83.9,646.7 L84.0,646.8 L84.7,643.6 L84.7,644.5 L85.5,645.9 L86.2,648.2 L86.2,648.4 L87.0,647.3 L87.3,646.1 L87.7,648.4 L88.3,651.2 L88.5,650.8 L89.3,652.0 L89.4,651.9 L90.0,649.8 L90.4,649.1 L90.8,650.9 L91.5,654.6 L91.5,654.8 L92.3,655.4 L93.1,656.7 L93.2,656.5 L93.8,656.5 L94.6,656.7 L95.3,657.0 L95.4,656.9 L96.1,657.1 L96.9,656.9 L97.5,657.1 L97.6,657.1 L98.4,657.3 L99.1,657.3 L99.6,657.5 L99.9,657.3 L100.7,656.3 L101.0,656.1 L101.4,656.4 L102.2,657.0 L102.5,657.0 L102.9,657.1 L103.7,656.6 L104.5,656.5 L104.6,656.5 L105.2,652.5 L105.6,649.9 L106.0,647.7 L106.3,646.0 L106.7,648.8 L107.4,650.5 L107.5,650.4 L108.3,647.6 L108.5,647.9 L109.0,649.8 L109.7,653.9 L109.8,653.9 L110.5,653.7 L110.9,654.1 L111.3,653.4 L112.1,652.9 L112.4,652.0 L112.8,652.1 L113.6,652.9 L113.8,653.2 L114.3,652.8 L115.1,653.1 L115.2,652.7 L115.9,653.1 L116.6,653.1 L116.6,653.4 L117.4,655.1 L118.0,656.5 L118.1,656.6 L118.9,656.7 L119.7,656.2 L120.2,656.3 L120.4,656.3 L121.2,656.1 L121.9,656.2 L122.3,656.1 L122.7,656.1 L123.5,656.4 L124.2,656.3 L124.4,656.3 L125.0,656.7 L125.7,656.4 L126.5,656.3 L126.5,656.3 L127.3,655.7 L128.0,655.6 L128.4,655.5 L128.8,654.8 L129.5,653.5 L129.8,653.3 L130.3,651.8 L131.1,650.5 L131.1,650.3 L131.8,649.3 L132.2,648.1 L132.6,648.7 L133.3,651.9 L133.3,651.6 L134.1,652.3 L134.9,652.8 L135.0,653.0 L135.6,652.6 L136.4,653.0 L137.1,652.6 L137.2,652.5 L137.9,653.2 L138.7,652.9 L139.3,653.2 L139.4,653.8 L140.2,654.9 L140.7,655.3 L140.9,655.3 L141.7,655.8 L142.1,655.7 L142.5,655.3 L143.2,655.0 L143.5,654.7 L144.0,654.8 L144.7,656.1 L145.5,656.6 L145.7,656.6 L146.3,656.9 L147.0,656.7 L147.8,656.6 L147.8,656.3 L148.5,656.3 L149.3,655.9 L149.6,655.4 L150.0,655.4 L150.1,655.6 L150.8,654.9 L151.4,654.8 L151.6,654.8 L152.3,654.1 L152.8,653.9 L153.1,653.9 L153.9,651.7 L154.2,651.1 L154.6,650.9 L155.4,648.8 L155.4,648.8 L156.1,651.7 L156.5,653.3 L156.9,653.4 L157.7,653.9 L158.2,654.1 L158.4,654.0 L159.2,653.8 L159.9,654.0 L159.9,653.8 L160.7,654.2 L161.5,654.8 L161.6,654.8 L162.2,654.9 L163.0,654.8 L163.0,655.1 L163.7,654.3 L164.4,653.9 L164.5,654.3 L165.3,655.0 L165.9,656.2 L166.0,656.3 L166.8,656.7 L167.3,657.0 L167.5,657.0 L168.3,656.9 L169.1,656.7 L169.1,656.5 L169.8,655.8 L170.5,654.7 L170.6,654.7 L171.3,652.8 L171.7,652.3 L172.1,653.5 L172.9,654.7 L172.9,654.6 L173.6,654.7 L174.4,654.0 L174.4,654.6 L175.1,654.2 L175.8,653.2 L175.9,653.5 L176.7,654.3 L177.4,655.3 L177.6,655.6 L178.2,655.8 L178.9,655.7 L179.7,655.3 L179.7,655.6 L180.5,656.3 L181.2,656.3 L181.9,656.5 L182.0,656.5 L182.7,656.9 L183.5,656.5 L184.0,656.9 L184.3,656.8 L185.0,656.8 L185.8,656.1 L186.1,656.2 L186.5,656.4 L187.3,656.4 L188.1,656.8 L188.2,656.6 L188.8,656.3 L189.6,656.0 L190.3,655.5 L190.4,655.6 L191.1,652.6 L191.8,650.5 L191.9,650.5 L192.6,650.3 L192.9,649.9 L193.4,648.3 L194.1,645.0 L194.2,645.4 L194.9,648.7 L195.3,650.4 L195.7,650.2 L196.4,649.6 L196.5,649.7 L197.2,651.3 L197.6,652.6 L197.9,651.8 L198.7,649.6 L198.7,648.9 L199.5,648.2 L199.6,647.5 L200.2,651.5 L200.7,653.2 L201.0,654.5 L201.7,655.0 L202.1,655.5 L202.5,655.2 L203.3,654.8 L203.5,654.6 L204.0,653.1 L204.7,650.6 L204.8,650.1 L205.5,649.4 L205.8,649.6 L206.3,650.4 L206.9,652.4 L207.1,652.3 L207.8,653.1 L208.1,652.8 L208.6,649.9 L209.2,647.5 L209.3,647.8 L210.1,649.9 L210.3,650.5 L210.9,650.1 L211.6,650.6 L211.8,650.3 L212.4,650.1 L213.1,649.9 L213.2,649.7 L213.9,649.3 L214.6,650.5 L214.7,650.6 L215.4,651.0 L216.0,651.9 L216.2,651.7 L216.9,650.9 L217.4,650.5 L217.7,649.9 L218.5,648.9 L218.8,648.4 L219.2,648.4 L220.0,649.2 L220.0,648.7 L220.7,647.5 L221.1,644.8 L221.5,644.4 L222.2,642.9 L222.3,643.3 L223.0,643.9 L223.4,643.8 L223.8,645.1 L224.5,648.1 L224.5,648.0 L225.3,651.5 L225.6,653.3 L226.1,654.0 L226.8,655.7 L226.8,655.8 L227.6,656.5 L228.2,657.1 L228.3,657.2 L229.1,656.8 L229.9,656.8 L230.0,656.8 L230.6,656.6 L231.4,656.6 L232.1,656.8 L232.2,656.5 L232.9,656.7 L233.7,656.2 L234.3,656.1 L234.4,655.8 L235.2,654.6 L235.4,654.0 L235.9,652.8 L236.4,651.8 L236.7,652.4 L237.5,654.2 L237.5,654.8 L238.2,655.4 L239.0,656.2 L239.0,656.1 L239.7,656.6 L240.5,656.8 L240.7,656.9 L241.3,657.1 L242.0,657.7 L242.1,657.6 L242.8,657.8 L243.5,658.5 L243.5,660.8 L242.8,660.7 L242.1,660.1 L242.0,660.1 L241.3,659.5 L240.7,659.4 L240.5,659.5 L239.7,658.9 L239.0,658.6 L239.0,658.8 L238.2,658.1 L237.5,658.0 L237.5,657.8 L236.7,656.8 L236.4,656.6 L235.9,657.3 L235.4,657.6 L235.2,658.2 L234.4,658.4 L234.3,658.7 L233.7,659.0 L232.9,658.9 L232.2,659.2 L232.1,659.2 L231.4,659.4 L230.6,659.5 L230.0,659.4 L229.9,659.3 L229.1,659.6 L228.3,659.7 L228.2,659.8 L227.6,659.1 L226.8,658.4 L226.8,658.3 L226.1,657.4 L225.6,656.9 L225.3,656.3 L224.5,654.0 L224.5,654.1 L223.8,652.8 L223.4,652.3 L223.0,652.1 L222.3,651.0 L222.2,651.6 L221.5,652.5 L221.1,653.6 L220.7,654.4 L220.0,654.9 L220.0,655.2 L219.2,654.8 L218.8,654.8 L218.5,655.2 L217.7,655.9 L217.4,656.1 L216.9,656.7 L216.2,656.3 L216.0,656.6 L215.4,656.4 L214.7,656.3 L214.6,656.0 L213.9,656.3 L213.2,655.5 L213.1,655.5 L212.4,655.5 L211.8,656.0 L211.6,656.0 L210.9,655.8 L210.3,655.8 L210.1,655.4 L209.3,655.2 L209.2,654.9 L208.6,656.0 L208.1,657.3 L207.8,657.0 L207.1,656.9 L206.9,656.4 L206.3,655.8 L205.8,654.9 L205.5,655.3 L204.8,656.2 L204.7,656.2 L204.0,657.9 L203.5,658.7 L203.3,658.6 L202.5,659.1 L202.1,659.0 L201.7,658.8 L201.0,658.4 L200.7,658.0 L200.2,656.7 L199.6,655.0 L199.5,654.7 L198.7,655.6 L198.7,655.6 L197.9,656.7 L197.6,657.3 L197.2,657.1 L196.5,655.5 L196.4,655.2 L195.7,656.5 L195.3,657.2 L194.9,657.1 L194.2,656.2 L194.1,656.2 L193.4,655.7 L192.9,656.7 L192.6,657.0 L191.9,657.9 L191.8,657.8 L191.1,658.4 L190.4,659.0 L190.3,659.2 L189.6,659.3 L188.8,659.0 L188.2,659.2 L188.1,659.2 L187.3,658.7 L186.5,658.9 L186.1,658.7 L185.8,658.7 L185.0,659.0 L184.3,659.2 L184.0,659.4 L183.5,659.4 L182.7,659.2 L182.0,659.1 L181.9,659.2 L181.2,658.7 L180.5,658.7 L179.7,658.3 L179.7,658.3 L178.9,658.2 L178.2,658.4 L177.6,658.3 L177.4,658.5 L176.7,658.0 L175.9,658.1 L175.8,657.9 L175.1,657.8 L174.4,657.5 L174.4,657.6 L173.6,658.0 L172.9,658.0 L172.9,658.1 L172.1,657.0 L171.7,656.4 L171.3,656.6 L170.6,657.8 L170.5,658.0 L169.8,658.5 L169.1,659.2 L169.1,659.1 L168.3,659.3 L167.5,659.6 L167.3,659.7 L166.8,659.4 L166.0,658.6 L165.9,658.7 L165.3,658.1 L164.5,657.6 L164.4,657.6 L163.7,657.9 L163.0,657.7 L163.0,657.9 L162.2,657.6 L161.6,657.4 L161.5,657.2 L160.7,657.2 L159.9,657.2 L159.9,657.0 L159.2,656.7 L158.4,656.8 L158.2,656.6 L157.7,656.7 L156.9,656.6 L156.5,656.6 L156.1,655.9 L155.4,654.3 L155.4,654.0 L154.6,655.3 L154.2,655.9 L153.9,656.3 L153.1,657.3 L152.8,657.6 L152.3,657.7 L151.6,657.7 L151.4,657.9 L150.8,658.4 L150.1,658.5 L150.0,658.4 L149.6,658.5 L149.3,658.4 L148.5,658.9 L147.8,659.0 L147.8,659.2 L147.0,659.3 L146.3,659.2 L145.7,659.2 L145.5,659.2 L144.7,658.8 L144.0,657.9 L143.5,657.9 L143.2,658.0 L142.5,658.2 L142.1,658.2 L141.7,658.3 L140.9,658.7 L140.7,658.5 L140.2,658.1 L139.4,657.3 L139.3,656.9 L138.7,656.6 L137.9,656.4 L137.2,656.2 L137.1,656.4 L136.4,656.3 L135.6,656.1 L135.0,656.1 L134.9,656.2 L134.1,655.8 L133.3,655.5 L133.3,655.6 L132.6,654.1 L132.2,653.5 L131.8,654.2 L131.1,654.9 L131.1,655.1 L130.3,656.1 L129.8,656.9 L129.5,657.2 L128.8,657.9 L128.4,658.4 L128.0,658.5 L127.3,658.6 L126.5,658.7 L126.5,658.6 L125.7,658.8 L125.0,658.7 L124.4,658.7 L124.2,658.7 L123.5,658.5 L122.7,658.4 L122.3,658.3 L121.9,658.3 L121.2,658.4 L120.4,658.7 L120.2,658.7 L119.7,658.7 L118.9,659.0 L118.1,659.3 L118.0,659.2 L117.4,658.4 L116.6,657.8 L116.6,657.2 L115.9,657.0 L115.2,656.7 L115.1,656.6 L114.3,657.1 L113.8,656.9 L113.6,657.1 L112.8,656.3 L112.4,655.9 L112.1,656.3 L111.3,657.1 L110.9,657.7 L110.5,657.8 L109.8,658.9 L109.7,659.1 L109.0,658.1 L108.5,656.4 L108.3,655.6 L107.5,654.1 L107.4,654.2 L106.7,658.1 L106.4,659.9 L106.0,657.7 L105.6,656.5 L105.2,657.5 L104.6,659.7 L104.5,659.6 L103.7,659.8 L102.9,659.4 L102.5,659.7 L102.2,659.8 L101.4,659.5 L101.0,659.4 L100.7,659.4 L99.9,659.9 L99.6,660.2 L99.1,660.0 L98.4,659.9 L97.6,659.8 L97.5,659.7 L96.9,659.6 L96.1,659.3 L95.4,659.4 L95.3,659.4 L94.6,659.3 L93.8,659.2 L93.2,659.2 L93.1,659.1 L92.3,659.1 L91.5,658.7 L91.5,658.4 L90.8,656.4 L90.4,655.8 L90.0,656.5 L89.4,656.6 L89.3,656.5 L88.5,655.9 L88.3,655.7 L87.7,654.4 L87.3,653.0 L87.0,653.2 L86.2,653.9 L86.2,654.0 L85.5,653.3 L85.0,652.9 L84.7,653.4 L84.0,654.8 L83.9,654.8 L83.2,655.0 L82.6,655.1 L82.4,655.1 L81.7,655.3 L81.2,655.7 L80.9,656.1 L80.1,656.5 L79.8,657.0 L79.4,656.3 L78.6,655.6 L78.4,655.1 L77.9,655.6 L77.1,656.5 L77.0,656.4 L76.3,656.6 L75.6,657.1 L75.5,657.0 L74.8,657.5 L74.1,658.4 L74.1,658.6 L73.3,658.9 L72.7,659.3 L72.5,659.3 L71.8,658.5 L71.3,657.9 L71.0,658.4 L70.3,659.4 L69.9,659.9 L69.5,660.2 L68.7,660.5 L68.5,660.8 L68.0,660.4 L67.2,659.7 L67.0,659.5 L66.5,659.8 L65.7,660.2 L65.6,660.4 L64.9,659.8 L64.2,659.5 L64.2,659.2 L63.4,657.3 L63.2,656.5 L62.7,657.0 L62.1,657.9 L61.9,658.2 L61.1,659.5 L60.9,659.4 L60.4,663.7Z" fill="#a9a9a9" stroke="#a9a9a9" stroke-width="0.5" stroke-linejoin="round"/>
<path d="M60.4,662.4 L60.9,657.6 L61.1,657.5 L61.9,656.0 L62.1,656.1 L62.7,654.1 L63.2,653.8 L63.4,654.8 L64.2,657.6 L64.2,657.5 L64.9,658.1 L65.6,658.1 L65.7,658.0 L66.5,657.8 L67.0,657.7 L67.2,658.4 L68.0,659.0 L68.5,659.3 L68.7,659.2 L69.5,658.6 L69.9,658.5 L70.3,657.9 L71.0,656.8 L71.3,656.5 L71.8,656.9 L72.5,657.5 L72.7,658.1 L73.3,657.4 L74.1,657.1 L74.1,657.1 L74.8,656.0 L75.5,655.5 L75.6,655.1 L76.3,654.9 L77.0,654.7 L77.1,654.5 L77.9,653.5 L78.4,653.3 L78.6,653.8 L79.4,654.3 L79.8,655.2 L80.1,654.3 L80.9,654.3 L81.2,653.7 L81.7,653.4 L82.4,653.1 L82.6,652.9 L83.2,652.7 L83.9,651.7 L84.0,651.9 L84.7,650.1 L85.0,649.8 L85.5,650.9 L86.2,652.0 L86.2,651.7 L87.0,650.9 L87.3,650.3 L87.7,651.8 L88.3,653.9 L88.5,654.2 L89.3,654.7 L89.4,654.8 L90.0,653.3 L90.4,653.3 L90.8,654.1 L91.5,657.2 L91.5,657.2 L92.3,657.7 L93.1,657.9 L93.2,658.0 L93.8,657.9 L94.6,658.1 L95.3,658.2 L95.4,658.3 L96.1,658.3 L96.9,658.4 L97.5,658.6 L97.6,658.7 L98.4,659.0 L99.1,658.9 L99.6,658.9 L99.9,658.6 L100.7,658.2 L101.0,658.0 L101.4,657.9 L102.2,658.4 L102.5,658.6 L102.9,658.5 L103.7,658.4 L104.5,658.6 L104.6,658.2 L105.2,655.3 L105.6,654.0 L106.0,654.4 L106.4,655.5 L106.7,655.2 L107.4,652.6 L107.5,652.6 L108.3,653.8 L108.5,653.1 L109.0,655.2 L109.7,657.1 L109.8,657.3 L110.5,656.6 L110.9,656.1 L111.3,655.3 L112.1,654.8 L112.4,654.1 L112.8,654.8 L113.6,654.7 L113.8,655.4 L114.3,655.4 L115.1,655.1 L115.2,655.2 L115.9,655.6 L116.6,655.8 L116.6,655.6 L117.4,656.9 L118.0,658.0 L118.1,657.9 L118.9,658.0 L119.7,657.4 L120.2,657.5 L120.4,657.7 L121.2,657.4 L121.9,657.2 L122.3,657.2 L122.7,657.1 L123.5,657.4 L124.2,657.4 L124.4,657.5 L125.0,657.5 L125.7,657.6 L126.5,657.3 L126.5,657.5 L127.3,657.5 L128.0,657.2 L128.4,657.1 L128.8,656.6 L129.5,655.7 L129.8,655.4 L130.3,654.5 L131.1,653.3 L131.1,653.4 L131.8,651.9 L132.2,651.4 L132.6,652.6 L133.3,654.0 L133.3,654.0 L134.1,654.9 L134.9,654.4 L135.0,654.6 L135.6,654.9 L136.4,654.6 L137.1,654.8 L137.2,654.7 L137.9,655.2 L138.7,655.7 L139.3,655.4 L139.4,655.2 L140.2,656.6 L140.7,657.1 L140.9,656.9 L141.7,657.1 L142.1,657.1 L142.5,657.1 L143.2,656.5 L143.5,656.5 L144.0,657.0 L144.7,657.4 L145.5,657.9 L145.7,658.0 L146.3,657.9 L147.0,657.9 L147.8,658.0 L147.8,658.0 L148.5,657.8 L149.3,657.3 L149.6,657.1 L150.0,657.1 L150.1,657.2 L150.8,656.9 L151.4,656.5 L151.6,656.6 L152.3,656.4 L152.8,656.1 L153.1,655.7 L153.9,654.3 L154.2,654.1 L154.6,653.3 L155.4,652.9 L155.4,652.3 L156.1,654.0 L156.5,655.0 L156.9,655.2 L157.7,655.4 L158.2,655.4 L158.4,655.4 L159.2,655.8 L159.9,655.7 L159.9,655.8 L160.7,656.0 L161.5,656.0 L161.6,656.1 L162.2,656.2 L163.0,656.3 L163.0,656.5 L163.7,656.6 L164.4,656.1 L164.5,656.4 L165.3,657.0 L165.9,657.6 L166.0,657.7 L166.8,658.2 L167.3,658.5 L167.5,658.6 L168.3,658.4 L169.1,657.8 L169.1,658.0 L169.8,657.2 L170.5,656.5 L170.6,656.4 L171.3,655.3 L171.7,654.7 L172.1,655.3 L172.9,656.5 L172.9,656.5 L173.6,656.4 L174.4,656.1 L174.4,656.3 L175.1,656.0 L175.8,656.1 L175.9,656.6 L176.7,657.0 L177.4,657.1 L177.6,657.1 L178.2,657.0 L178.9,657.1 L179.7,657.2 L179.7,657.1 L180.5,657.5 L181.2,657.7 L181.9,658.0 L182.0,657.9 L182.7,658.2 L183.5,658.2 L184.0,658.2 L184.3,658.2 L185.0,657.9 L185.8,657.5 L186.1,657.5 L186.5,657.7 L187.3,657.8 L188.1,657.9 L188.2,657.9 L188.8,658.0 L189.6,657.7 L190.3,657.6 L190.4,657.5 L191.1,656.7 L191.8,655.1 L191.9,655.4 L192.6,654.0 L192.9,654.1 L193.4,653.4 L194.1,651.5 L194.2,652.3 L194.9,654.3 L195.3,654.6 L195.7,653.7 L196.4,653.4 L196.5,653.1 L197.2,654.8 L197.6,655.4 L197.9,654.6 L198.7,653.2 L198.7,653.3 L199.5,653.0 L199.6,652.5 L200.2,654.3 L200.7,656.2 L201.0,656.3 L201.7,657.2 L202.1,657.5 L202.5,657.2 L203.3,657.1 L203.5,657.1 L204.0,656.0 L204.7,653.9 L204.8,653.9 L205.5,652.9 L205.8,652.9 L206.3,653.8 L206.9,654.6 L207.1,654.8 L207.8,655.0 L208.1,655.4 L208.6,653.8 L209.2,652.1 L209.3,652.4 L210.1,653.6 L210.3,653.9 L210.9,654.1 L211.6,653.9 L211.8,654.1 L212.4,653.7 L213.1,653.1 L213.2,653.4 L213.9,654.0 L214.6,654.1 L214.7,654.2 L215.4,654.2 L216.0,654.7 L216.2,654.4 L216.9,654.3 L217.4,654.0 L217.7,653.3 L218.5,652.5 L218.8,652.4 L219.2,652.3 L220.0,652.8 L220.0,652.4 L220.7,651.0 L221.1,650.6 L221.5,649.8 L222.2,648.4 L222.3,648.3 L223.0,649.0 L223.4,649.5 L223.8,650.5 L224.5,651.8 L224.5,651.9 L225.3,654.4 L225.6,655.4 L226.1,655.9 L226.8,657.1 L226.8,656.7 L227.6,658.0 L228.2,658.5 L228.3,658.5 L229.1,658.5 L229.9,658.5 L230.0,658.3 L230.6,658.2 L231.4,658.2 L232.1,657.8 L232.2,658.0 L232.9,657.8 L233.7,657.6 L234.3,657.5 L234.4,657.3 L235.2,656.5 L235.4,656.1 L235.9,655.7 L236.4,654.8 L236.7,655.2 L237.5,656.5 L237.5,656.6 L238.2,656.9 L239.0,657.4 L239.0,657.4 L239.7,657.9 L240.5,658.1 L240.7,658.2 L241.3,658.7 L242.0,658.8 L242.1,658.9 L242.8,659.3 L243.5,659.7" fill="none" stroke="#0d0d0d" stroke-width="1.2" stroke-linejoin="round"/>
<path d="M285.4,619.4 L286.1,604.9 L286.4,600.8 L286.9,605.7 L287.4,610.8 L287.7,613.6 L288.4,616.2 L288.5,614.0 L289.2,607.0 L289.5,604.3 L289.9,610.6 L290.6,613.1 L290.7,614.1 L291.5,609.3 L291.8,608.9 L292.2,600.0 L292.7,597.1 L293.0,596.2 L293.7,597.2 L294.2,596.5 L294.5,600.6 L295.3,607.4 L295.3,607.4 L296.0,615.3 L296.3,614.9 L296.8,621.6 L297.4,624.3 L297.5,625.0 L298.3,625.6 L298.4,627.0 L299.1,627.1 L299.5,625.4 L299.8,623.6 L300.5,621.0 L300.6,623.5 L301.3,619.1 L301.5,615.3 L302.1,613.7 L302.4,611.9 L302.9,612.1 L303.5,621.5 L303.6,621.5 L304.4,624.0 L304.8,623.8 L305.1,623.6 L305.8,629.7 L305.9,629.1 L306.7,624.3 L306.9,621.8 L307.4,619.9 L308.2,621.2 L308.3,620.0 L308.9,619.5 L309.5,617.7 L309.7,618.4 L310.5,624.1 L310.9,624.1 L311.2,626.2 L312.0,625.9 L312.3,626.2 L312.7,625.2 L313.5,626.8 L313.7,629.8 L314.3,632.9 L314.7,633.3 L315.0,635.3 L315.8,633.4 L316.1,634.1 L316.5,631.6 L317.3,626.7 L317.5,627.0 L318.1,626.7 L318.8,630.4 L319.0,630.9 L319.6,630.2 L320.3,625.8 L320.4,629.4 L321.1,623.9 L321.4,623.3 L321.9,624.2 L322.5,629.8 L322.6,631.7 L323.4,627.5 L323.9,628.3 L324.1,629.5 L324.9,631.8 L325.3,633.9 L325.7,633.3 L326.4,630.1 L326.5,628.7 L327.2,618.0 L327.5,618.2 L327.9,619.3 L328.4,617.2 L328.7,618.3 L329.5,633.2 L329.6,633.7 L330.2,637.7 L331.0,636.2 L331.0,638.1 L331.7,638.2 L332.4,640.6 L332.5,640.4 L333.3,642.6 L333.8,642.2 L334.0,638.8 L334.8,636.3 L335.2,630.9 L335.5,626.2 L336.3,616.1 L336.4,616.4 L337.1,615.4 L337.4,614.7 L337.8,614.0 L338.6,618.0 L338.8,616.1 L339.3,610.5 L339.8,603.9 L340.1,606.8 L340.9,613.7 L340.9,613.8 L341.6,614.7 L341.9,616.1 L342.4,618.4 L343.0,619.8 L343.1,618.9 L343.9,618.7 L344.0,616.5 L344.7,610.2 L345.2,610.1 L345.4,612.2 L346.2,618.5 L346.3,615.8 L346.9,619.9 L347.3,620.7 L347.7,619.1 L348.3,619.2 L348.5,618.2 L349.1,612.6 L349.2,616.1 L350.0,619.8 L350.1,621.5 L350.7,618.3 L351.2,615.6 L351.5,616.0 L352.2,609.1 L352.3,609.3 L353.0,605.3 L353.2,603.4 L353.8,609.0 L354.4,617.4 L354.5,618.3 L355.3,623.7 L355.5,625.4 L356.1,625.6 L356.8,628.5 L356.8,629.3 L357.6,627.1 L357.9,629.4 L358.3,629.2 L359.0,627.2 L359.1,626.2 L359.9,621.0 L360.0,619.0 L360.6,614.5 L361.0,610.6 L361.4,606.9 L362.0,599.8 L362.1,602.0 L362.9,610.7 L363.1,614.2 L363.7,615.2 L364.3,615.6 L364.4,616.0 L365.2,618.0 L365.4,618.3 L365.9,616.3 L366.4,613.5 L366.7,612.7 L367.5,607.4 L367.8,603.2 L368.2,608.5 L369.0,616.1 L369.0,614.5 L369.7,609.2 L370.1,606.5 L370.5,605.6 L371.3,599.1 L371.4,602.1 L372.0,603.2 L372.4,606.2 L372.8,602.7 L373.2,599.2 L373.5,594.5 L374.1,588.9 L374.3,592.6 L374.9,603.5 L375.1,600.9 L375.2,604.7 L375.8,605.7 L376.1,601.1 L376.6,593.4 L377.1,585.3 L377.3,582.1 L378.1,571.1 L378.1,568.3 L378.9,585.1 L379.2,599.6 L379.6,595.1 L380.4,583.4 L380.4,584.1 L381.1,577.0 L381.5,573.4 L381.9,580.4 L382.4,588.7 L382.7,593.1 L383.4,603.0 L383.5,604.8 L384.2,610.4 L384.5,617.0 L384.9,611.2 L385.6,602.5 L385.7,601.5 L386.5,592.9 L386.6,591.3 L387.2,588.9 L387.5,585.9 L388.0,598.1 L388.5,606.5 L388.7,605.2 L389.4,596.4 L389.5,595.0 L390.3,605.7 L390.6,607.1 L391.0,601.1 L391.7,596.8 L391.8,601.3 L392.5,601.4 L392.7,607.9 L393.3,600.6 L393.7,595.1 L394.1,591.2 L394.5,586.4 L394.8,590.8 L395.6,606.9 L395.7,608.7 L396.3,598.2 L396.7,594.8 L397.1,590.0 L397.7,581.8 L397.9,581.8 L398.6,588.9 L398.8,588.7 L399.4,581.0 L399.8,579.0 L400.1,584.5 L400.8,590.2 L400.9,592.1 L401.7,600.9 L401.9,605.7 L402.4,595.8 L402.9,582.0 L403.2,583.3 L403.9,591.2 L404.0,592.4 L404.7,599.8 L405.0,606.8 L405.5,610.3 L406.2,616.4 L406.2,617.2 L407.0,619.1 L407.3,620.7 L407.7,612.7 L408.4,600.5 L408.5,600.2 L409.3,613.9 L409.4,616.5 L410.0,622.5 L410.4,625.4 L410.8,629.2 L411.5,629.1 L411.8,630.7 L412.3,628.5 L413.1,634.3 L413.2,633.3 L413.8,633.4 L414.6,630.4 L414.7,630.6 L415.3,623.5 L415.8,621.3 L416.1,614.4 L416.8,602.5 L416.9,601.1 L417.5,585.0 L417.6,584.1 L418.3,568.8 L418.4,570.1 L419.1,589.6 L419.2,589.3 L419.9,609.2 L420.3,623.1 L420.7,622.3 L421.4,625.8 L421.5,625.0 L422.2,622.7 L422.6,622.6 L422.9,623.6 L423.7,618.2 L423.9,615.7 L424.5,614.2 L425.2,611.7 L425.3,611.0 L426.0,611.2 L426.7,612.7 L426.7,612.7 L427.5,609.6 L428.1,607.1 L428.3,600.7 L429.0,591.2 L429.2,588.6 L429.8,578.9 L430.0,577.5 L430.5,589.0 L430.9,596.7 L431.3,602.2 L431.9,611.0 L432.1,606.7 L432.8,608.8 L433.1,606.3 L433.6,604.3 L434.2,603.2 L434.3,604.0 L435.1,614.2 L435.2,614.2 L435.9,610.6 L436.2,607.0 L436.6,617.2 L437.0,628.5 L437.4,632.2 L438.0,645.4 L438.1,646.5 L438.9,646.6 L439.4,648.6 L439.7,647.4 L440.4,642.5 L440.4,643.8 L441.2,638.5 L441.6,633.5 L441.9,632.9 L442.7,630.3 L442.7,630.8 L443.5,630.6 L443.7,626.2 L444.2,627.6 L444.7,627.9 L445.0,624.5 L445.7,619.1 L445.8,620.4 L446.5,615.0 L447.0,608.7 L447.3,613.3 L447.9,614.2 L448.0,610.6 L448.8,597.6 L448.9,595.6 L449.5,589.9 L450.1,582.9 L450.3,584.1 L451.1,595.4 L451.1,594.5 L451.8,605.9 L451.8,607.2 L452.6,587.1 L452.6,586.1 L453.3,596.2 L453.6,597.2 L454.1,605.3 L454.6,612.9 L454.9,615.3 L455.6,616.7 L455.7,616.4 L456.4,609.1 L456.9,606.9 L457.1,605.0 L457.9,596.4 L458.0,593.5 L458.7,605.6 L459.0,612.6 L459.4,613.6 L460.0,616.6 L460.2,612.9 L460.9,604.7 L461.0,602.6 L461.7,608.8 L462.1,606.4 L462.5,614.3 L463.1,628.4 L463.2,626.3 L464.0,610.1 L464.2,608.8 L464.7,601.4 L465.4,593.4 L465.5,594.0 L466.3,602.0 L466.4,608.5 L467.0,620.5 L467.4,628.1 L467.8,630.1 L468.5,636.2 L468.5,635.0 L469.1,639.7 L469.3,640.5 L469.5,642.6 L469.5,662.5 L469.3,662.3 L468.8,662.1 L468.5,662.8 L467.8,662.6 L467.8,661.7 L467.0,664.0 L466.6,661.8 L466.3,659.0 L465.7,659.1 L465.5,659.2 L464.7,662.5 L464.5,660.5 L464.0,661.6 L463.5,661.9 L463.2,660.6 L462.5,658.4 L462.5,659.2 L461.7,658.1 L461.4,656.8 L460.9,659.8 L460.4,661.3 L460.2,660.4 L459.4,663.5 L459.3,661.2 L458.7,660.4 L458.3,659.0 L457.9,653.8 L457.2,657.7 L457.1,656.8 L456.4,660.8 L456.0,659.9 L455.6,661.8 L455.0,657.5 L454.9,657.3 L454.1,654.3 L454.0,653.7 L453.3,654.1 L452.9,649.8 L452.6,653.8 L452.2,659.1 L451.8,654.3 L451.1,659.0 L451.1,656.9 L450.3,650.5 L450.1,656.1 L449.5,655.7 L448.9,657.5 L448.8,656.6 L448.0,660.4 L447.9,660.4 L447.3,658.5 L446.5,657.6 L446.5,657.2 L445.7,659.6 L445.1,661.4 L445.0,658.0 L444.2,660.0 L443.7,658.4 L443.5,659.9 L442.7,660.4 L442.3,662.1 L441.9,661.6 L441.2,662.2 L440.9,662.1 L440.4,662.8 L439.7,661.6 L439.4,662.3 L438.9,662.1 L438.1,663.0 L438.0,662.5 L437.4,661.8 L437.0,660.7 L436.6,662.5 L436.2,657.6 L435.9,656.2 L435.2,654.9 L435.1,655.2 L434.3,648.5 L434.2,650.6 L433.6,648.0 L433.1,646.8 L432.8,646.8 L432.1,646.1 L431.9,650.6 L431.3,648.1 L430.9,648.7 L430.5,646.8 L430.0,645.3 L429.8,645.9 L429.0,651.4 L428.8,650.3 L428.3,651.9 L427.5,653.0 L427.4,652.7 L426.7,656.2 L426.0,655.8 L426.0,653.9 L425.2,655.8 L424.6,655.6 L424.5,655.0 L423.7,655.2 L423.2,658.0 L422.9,658.3 L422.2,659.7 L421.7,659.9 L421.4,658.7 L420.7,661.3 L420.3,660.6 L419.9,661.6 L419.2,651.6 L419.1,649.6 L418.4,646.3 L418.3,645.4 L417.6,648.7 L417.5,651.0 L416.9,654.8 L416.8,653.3 L416.1,655.7 L415.4,660.5 L415.3,657.5 L414.6,661.5 L414.0,661.5 L413.8,660.1 L413.1,660.5 L412.5,661.9 L412.3,662.0 L411.5,661.7 L411.1,661.5 L410.8,661.4 L410.0,662.4 L409.7,661.0 L409.3,661.3 L408.5,659.9 L408.3,658.3 L407.7,658.6 L407.0,663.7 L406.9,660.7 L406.2,662.4 L405.5,658.3 L405.5,659.1 L404.7,659.1 L404.0,656.4 L403.9,655.3 L403.2,652.0 L402.9,650.0 L402.4,652.6 L401.9,657.5 L401.7,656.7 L400.9,651.1 L400.8,650.6 L400.1,648.5 L399.8,647.8 L399.4,649.6 L398.8,648.4 L398.6,647.6 L397.9,652.2 L397.7,652.6 L397.1,657.5 L396.3,657.2 L396.2,661.1 L395.6,659.7 L394.8,660.7 L394.8,661.3 L394.1,663.2 L393.4,659.4 L393.3,659.1 L392.5,663.0 L392.0,659.5 L391.8,659.7 L391.0,660.2 L390.6,659.1 L390.3,658.6 L389.5,658.0 L389.2,656.1 L388.7,655.8 L388.0,656.0 L387.7,653.3 L387.2,655.1 L386.5,653.4 L386.3,654.3 L385.7,655.9 L384.9,658.1 L384.9,654.6 L384.2,656.0 L383.5,653.7 L383.4,651.4 L382.7,652.0 L382.4,652.3 L381.9,648.1 L381.4,652.3 L381.1,651.7 L380.4,653.9 L380.4,654.4 L379.6,661.0 L379.2,659.5 L378.9,655.8 L378.1,650.1 L378.1,651.4 L377.3,652.3 L377.1,653.6 L376.6,653.1 L376.1,656.6 L375.8,657.8 L375.2,660.7 L375.1,660.4 L374.3,654.9 L374.2,656.9 L373.5,657.4 L372.8,660.5 L372.8,660.2 L372.0,659.4 L371.4,659.2 L371.3,655.9 L370.5,659.9 L369.9,660.4 L369.7,659.8 L369.0,659.2 L368.5,661.4 L368.2,660.0 L367.5,658.2 L367.1,658.5 L366.7,659.5 L365.9,662.1 L365.7,661.9 L365.2,660.3 L364.4,660.5 L364.3,661.1 L363.7,664.0 L362.9,658.7 L362.9,658.7 L362.1,657.1 L361.4,656.2 L361.4,656.9 L360.6,657.2 L360.0,660.0 L359.9,660.0 L359.1,661.6 L358.6,661.9 L358.3,662.0 L357.6,659.3 L357.2,660.7 L356.8,662.5 L356.1,662.0 L355.8,661.2 L355.3,662.5 L354.5,658.8 L354.4,660.6 L353.8,661.9 L353.0,659.7 L352.9,661.7 L352.3,662.1 L351.5,658.9 L351.5,657.8 L350.7,660.7 L350.1,658.1 L350.0,659.6 L349.2,657.7 L348.7,659.2 L348.5,659.9 L347.7,656.2 L347.3,656.3 L346.9,654.2 L346.2,653.6 L345.9,653.6 L345.4,651.8 L344.7,656.0 L344.4,654.8 L343.9,653.1 L343.1,652.9 L343.0,656.3 L342.4,654.0 L341.6,652.8 L341.6,653.1 L340.9,653.6 L340.6,649.7 L340.1,647.0 L339.5,645.8 L339.3,647.5 L338.6,649.4 L338.1,651.6 L337.8,652.8 L337.1,655.6 L336.7,654.7 L336.3,654.4 L335.5,657.8 L335.5,657.5 L334.8,658.0 L334.1,659.5 L334.0,659.3 L333.3,659.9 L332.7,661.1 L332.5,662.2 L331.7,660.2 L331.3,661.1 L331.0,661.6 L330.2,660.1 L330.0,659.2 L329.5,656.2 L328.9,653.4 L328.7,656.9 L327.9,652.9 L327.9,652.8 L327.2,656.6 L326.7,657.3 L326.4,658.5 L325.7,659.0 L325.6,657.9 L324.9,657.1 L324.6,655.2 L324.1,655.1 L323.4,655.9 L323.2,656.1 L322.6,656.9 L321.9,656.1 L321.8,656.3 L321.1,656.4 L320.4,657.3 L320.3,656.2 L319.6,656.7 L319.0,656.0 L318.8,658.1 L318.1,657.8 L317.5,658.3 L317.3,658.4 L316.5,657.9 L316.1,658.5 L315.8,660.1 L315.0,658.5 L314.7,659.7 L314.3,657.8 L313.5,658.0 L313.3,657.6 L312.7,655.8 L312.0,659.2 L311.9,655.3 L311.2,656.1 L310.5,652.0 L310.5,653.2 L309.7,653.3 L309.0,651.2 L308.9,650.6 L308.2,651.0 L307.6,653.6 L307.4,655.2 L306.7,656.7 L306.2,655.6 L305.9,656.8 L305.1,654.2 L304.8,652.8 L304.4,651.0 L303.6,651.3 L303.4,650.9 L302.9,649.4 L302.1,650.1 L302.0,649.4 L301.3,651.9 L300.6,650.9 L300.5,651.8 L299.8,652.5 L299.1,652.4 L299.1,653.1 L298.3,652.0 L297.7,650.5 L297.5,649.0 L296.8,646.9 L296.3,642.4 L296.0,641.7 L295.3,639.0 L294.9,635.5 L294.5,637.7 L293.7,634.8 L293.5,637.1 L293.0,637.4 L292.2,642.0 L292.0,643.4 L291.5,645.5 L290.7,647.7 L290.6,646.0 L289.9,642.9 L289.2,639.8 L289.2,639.5 L288.4,640.0 L287.8,641.9 L287.7,643.8 L286.9,640.4 L286.4,638.9 L286.1,639.8 L285.4,653.4Z" fill="#a9a9a9" stroke="#a9a9a9" stroke-width="0.5" stroke-linejoin="round"/>
<path d="M285.4,645.6 L286.1,625.5 L286.4,615.7 L286.9,618.3 L287.4,622.6 L287.7,624.3 L288.4,629.5 L288.5,630.9 L289.2,623.4 L289.5,619.6 L289.9,623.6 L290.6,632.2 L290.7,631.6 L291.5,631.8 L291.8,629.0 L292.2,621.1 L292.7,616.0 L293.0,618.4 L293.7,614.0 L294.2,616.8 L294.5,616.3 L295.3,616.3 L295.3,615.8 L296.0,623.8 L296.3,626.4 L296.8,630.5 L297.4,636.4 L297.5,637.2 L298.3,640.3 L298.4,642.8 L299.1,640.8 L299.5,637.0 L299.8,637.5 L300.5,641.6 L300.6,643.7 L301.3,631.4 L301.5,630.5 L302.1,628.1 L302.7,627.9 L302.9,631.6 L303.6,636.5 L303.8,639.7 L304.4,637.9 L304.8,636.1 L305.1,640.5 L305.8,645.9 L305.9,644.2 L306.7,638.1 L306.9,636.9 L307.4,635.5 L308.2,637.3 L308.3,636.4 L308.9,636.2 L309.7,634.1 L309.7,632.8 L310.5,635.5 L310.9,640.6 L311.2,639.2 L312.0,643.1 L312.3,643.4 L312.7,641.6 L313.5,647.3 L313.7,645.0 L314.3,648.2 L314.7,649.4 L315.0,650.5 L315.7,646.9 L315.8,648.3 L316.5,649.3 L316.8,651.1 L317.3,647.4 L318.0,642.2 L318.1,639.2 L318.8,644.8 L319.4,642.0 L319.6,641.7 L320.3,644.4 L320.8,643.5 L321.1,640.7 L321.9,644.4 L321.9,641.7 L322.6,642.6 L323.2,641.8 L323.4,642.7 L324.1,639.3 L324.2,640.7 L324.9,648.1 L325.3,649.9 L325.7,650.4 L326.4,650.2 L326.5,649.0 L327.2,637.0 L327.5,634.7 L327.9,632.6 L328.4,633.2 L328.7,639.1 L329.5,646.4 L329.6,648.6 L330.2,649.0 L331.0,648.9 L331.0,650.0 L331.7,651.2 L332.1,651.7 L332.5,651.5 L333.1,656.2 L333.3,655.2 L334.0,652.5 L334.1,650.1 L334.8,648.0 L335.2,647.8 L335.5,647.6 L336.3,641.0 L336.4,639.6 L337.1,635.3 L337.4,634.7 L337.8,634.1 L338.4,634.6 L338.6,629.5 L339.3,621.5 L339.5,621.3 L340.1,627.3 L340.6,630.1 L340.9,631.2 L341.6,635.6 L341.6,634.1 L342.4,642.3 L342.6,642.6 L343.1,641.4 L343.7,639.7 L343.9,636.6 L344.7,633.0 L344.9,632.7 L345.4,634.5 L345.9,633.9 L346.2,636.2 L346.9,635.6 L347.0,636.7 L347.7,647.1 L348.0,649.3 L348.5,643.3 L349.1,637.2 L349.2,637.6 L350.0,640.9 L350.1,644.9 L350.7,639.6 L351.2,635.6 L351.5,634.0 L352.2,634.0 L352.3,637.1 L353.0,631.7 L353.4,632.2 L353.8,636.3 L354.4,643.3 L354.5,641.6 L355.3,648.5 L355.5,645.0 L356.1,646.9 L356.8,645.9 L356.8,646.0 L357.6,645.0 L357.9,645.9 L358.3,648.2 L359.0,649.0 L359.1,649.4 L359.9,644.3 L360.0,646.1 L360.6,640.5 L361.0,636.5 L361.4,635.2 L362.1,627.1 L362.2,628.0 L362.9,634.5 L363.3,636.6 L363.7,639.9 L364.3,638.9 L364.4,639.2 L365.2,647.4 L365.3,647.3 L365.9,645.0 L366.4,645.3 L366.7,640.6 L367.5,631.6 L367.5,633.0 L368.2,642.3 L368.5,647.6 L369.0,643.4 L369.7,631.5 L369.7,635.0 L370.5,631.5 L370.7,631.3 L371.3,633.3 L371.8,635.6 L372.0,634.1 L372.8,629.4 L372.8,628.4 L373.5,631.3 L373.8,635.7 L374.3,625.0 L374.6,625.3 L375.1,641.1 L375.2,643.8 L375.8,638.0 L376.1,634.0 L376.6,628.9 L377.1,620.2 L377.3,613.2 L378.1,611.2 L378.1,610.1 L378.9,632.6 L379.2,641.7 L379.6,634.0 L380.4,620.3 L380.4,617.0 L381.1,613.6 L381.4,612.7 L381.9,613.7 L382.4,617.3 L382.7,621.7 L383.4,629.6 L383.5,633.4 L384.2,639.0 L384.5,642.6 L384.9,635.5 L385.6,632.3 L385.7,629.9 L386.5,626.9 L386.6,624.3 L387.2,620.0 L387.5,621.2 L388.0,629.8 L388.5,633.2 L388.7,631.1 L389.4,624.5 L389.5,624.4 L390.3,628.2 L390.6,635.1 L391.0,631.7 L391.7,627.8 L391.8,630.6 L392.5,637.3 L392.7,637.2 L393.3,630.6 L393.7,626.9 L394.1,620.8 L394.5,623.7 L394.8,629.2 L395.6,647.0 L395.7,646.9 L396.3,636.7 L396.7,634.3 L397.1,624.8 L397.7,619.5 L397.9,617.0 L398.6,614.1 L398.8,614.3 L399.4,613.5 L399.8,612.8 L400.1,614.5 L400.8,619.6 L400.9,625.0 L401.7,638.0 L401.9,639.3 L402.4,627.4 L402.9,615.8 L403.2,617.5 L403.9,625.2 L404.0,626.7 L404.7,632.1 L405.0,633.1 L405.5,635.8 L406.2,642.1 L406.2,641.9 L407.0,652.4 L407.3,654.2 L407.7,643.9 L408.4,630.8 L408.5,632.6 L409.3,636.2 L409.4,639.5 L410.0,642.3 L410.4,642.6 L410.8,642.2 L411.5,645.7 L411.8,647.4 L412.3,649.1 L413.1,650.8 L413.2,649.2 L413.8,649.1 L414.6,653.4 L414.7,650.7 L415.3,646.6 L415.8,645.1 L416.1,637.0 L416.8,628.1 L416.9,624.6 L417.5,617.0 L417.6,615.8 L418.3,607.3 L418.4,609.7 L419.1,619.2 L419.2,619.1 L419.9,638.1 L420.3,646.0 L420.7,645.1 L421.4,644.5 L421.5,645.5 L422.2,642.5 L422.6,643.9 L422.9,639.3 L423.7,637.1 L423.9,636.6 L424.5,634.0 L425.2,633.9 L425.3,633.0 L426.0,634.6 L426.7,634.2 L426.7,634.2 L427.5,633.6 L428.1,630.4 L428.3,628.5 L429.0,619.3 L429.2,617.6 L429.8,612.6 L430.0,609.2 L430.5,616.8 L430.9,622.3 L431.3,623.1 L431.9,632.6 L432.1,630.3 L432.8,628.2 L433.1,626.3 L433.6,624.6 L434.2,625.9 L434.3,624.7 L435.1,630.9 L435.2,636.0 L435.9,634.7 L436.2,633.9 L436.6,642.5 L437.0,651.0 L437.4,652.2 L438.0,660.6 L438.1,660.6 L438.9,660.7 L439.4,661.2 L439.7,660.7 L440.4,660.7 L440.4,658.9 L441.2,653.6 L441.6,650.1 L441.9,649.4 L442.7,647.6 L442.7,648.6 L443.5,642.9 L443.7,643.1 L444.2,643.2 L444.7,645.3 L445.0,644.4 L445.7,640.8 L445.8,639.2 L446.5,636.9 L447.0,632.0 L447.3,636.6 L447.9,644.3 L448.0,640.8 L448.8,628.8 L448.9,626.5 L449.5,625.3 L450.1,620.2 L450.3,620.8 L451.1,627.2 L451.1,625.5 L451.8,639.4 L451.8,637.7 L452.6,613.7 L452.6,613.9 L453.3,623.7 L453.6,622.1 L454.1,629.0 L454.6,635.3 L454.9,633.2 L455.6,636.5 L455.7,636.1 L456.4,631.7 L456.9,627.1 L457.1,626.2 L457.9,629.6 L458.0,628.8 L458.7,640.1 L459.0,641.7 L459.4,646.1 L460.0,642.9 L460.2,640.7 L460.9,632.2 L461.0,631.8 L461.7,633.1 L462.1,637.1 L462.5,643.4 L463.1,651.4 L463.2,650.1 L464.0,640.2 L464.2,636.1 L464.7,633.0 L465.4,628.4 L465.5,629.1 L466.3,633.5 L466.4,635.9 L467.0,644.4 L467.4,650.3 L467.8,651.6 L468.5,651.7 L468.5,650.9 L469.1,642.0 L469.3,656.6 L469.5,661.7" fill="none" stroke="#0d0d0d" stroke-width="1.1" stroke-linejoin="round"/>
<path d="M508.5,603.7 L509.3,617.3 L509.4,620.2 L510.0,619.4 L510.5,624.2 L510.8,617.6 L511.5,611.1 L511.6,613.1 L512.3,620.1 L512.6,621.3 L513.1,617.4 L513.8,615.2 L513.8,616.2 L514.6,612.6 L514.7,612.6 L515.4,619.1 L515.9,623.9 L516.1,623.3 L516.9,621.7 L516.9,623.7 L517.6,614.0 L517.9,610.6 L518.4,610.2 L519.0,613.0 L519.2,612.3 L519.9,601.1 L520.1,599.6 L520.7,597.9 L521.1,598.5 L521.4,600.2 L522.1,603.3 L522.2,605.5 L523.0,623.5 L523.2,625.4 L523.7,629.7 L524.2,631.8 L524.5,630.7 L525.2,617.5 L525.4,615.4 L526.0,611.9 L526.1,611.1 L526.8,617.7 L527.2,623.3 L527.5,618.5 L528.2,616.6 L528.3,617.7 L529.0,623.4 L529.3,626.4 L529.8,627.9 L530.3,629.6 L530.6,627.5 L531.3,630.8 L531.7,631.4 L532.1,633.5 L532.8,634.1 L533.2,633.4 L533.6,630.7 L534.4,631.7 L534.6,631.9 L535.1,630.8 L535.9,632.6 L536.0,633.4 L536.6,640.8 L537.4,638.5 L537.4,638.2 L538.2,638.8 L538.8,641.4 L538.9,641.6 L539.7,641.5 L540.2,639.3 L540.4,635.7 L541.2,628.9 L541.4,627.4 L542.0,620.6 L542.4,615.3 L542.7,618.4 L543.4,624.9 L543.5,624.6 L544.2,620.1 L544.5,621.3 L545.0,626.0 L545.6,635.6 L545.8,635.0 L546.5,641.7 L546.6,641.0 L547.3,641.2 L547.6,639.6 L548.0,637.5 L548.7,634.9 L548.8,635.7 L549.6,621.0 L549.7,615.8 L550.3,608.7 L550.7,603.5 L551.1,602.5 L551.6,595.2 L551.8,595.9 L552.6,600.9 L552.7,603.1 L553.4,607.2 L553.7,607.5 L554.1,619.0 L554.7,626.3 L554.9,627.5 L555.6,622.4 L555.8,622.9 L556.4,623.3 L557.0,627.6 L557.2,627.5 L557.9,634.8 L557.9,632.8 L558.7,637.1 L559.1,636.1 L559.4,635.6 L560.1,637.3 L560.2,637.7 L561.0,641.0 L561.2,639.8 L561.7,639.7 L562.2,638.0 L562.5,632.6 L563.2,621.8 L563.2,621.5 L564.0,610.7 L564.3,609.7 L564.8,610.0 L565.3,605.4 L565.5,605.9 L566.0,601.6 L566.3,605.8 L567.0,620.4 L567.2,618.2 L567.8,618.5 L568.3,616.6 L568.6,614.6 L569.3,610.0 L569.3,608.4 L570.1,622.3 L570.4,624.4 L570.8,625.3 L571.4,627.4 L571.6,623.2 L572.4,618.1 L572.4,617.9 L573.1,622.4 L573.5,626.2 L573.9,631.1 L574.5,630.6 L574.6,633.3 L575.4,632.1 L575.7,632.1 L576.2,631.8 L576.8,631.4 L576.9,628.1 L577.7,617.9 L577.8,616.7 L578.4,610.7 L578.8,610.8 L579.2,613.1 L579.9,612.4 L580.0,612.0 L580.7,621.9 L581.0,624.3 L581.5,623.7 L582.0,628.0 L582.2,625.1 L583.0,627.9 L583.2,626.8 L583.8,619.1 L584.2,612.6 L584.5,609.0 L585.0,609.3 L585.3,610.2 L586.0,628.2 L586.0,626.8 L586.8,628.5 L587.0,623.8 L587.6,621.5 L588.0,619.1 L588.3,618.1 L589.1,615.4 L589.1,615.0 L589.8,610.4 L590.1,611.2 L590.6,617.7 L591.2,625.5 L591.4,623.7 L592.1,613.6 L592.7,611.3 L592.9,611.4 L593.6,623.6 L593.8,626.5 L594.4,623.8 L594.8,623.4 L595.2,626.5 L595.8,631.8 L595.9,631.2 L596.6,627.4 L596.7,629.4 L597.0,632.4 L597.4,629.6 L598.1,624.5 L598.2,622.5 L599.0,623.8 L599.0,622.8 L599.7,636.6 L600.1,644.1 L600.5,640.9 L601.2,635.8 L601.2,634.2 L602.0,631.7 L602.4,623.7 L602.8,622.5 L603.5,615.7 L603.5,619.1 L604.3,614.1 L604.4,612.3 L605.0,604.5 L605.1,603.4 L605.8,619.2 L605.9,622.1 L606.6,623.3 L606.9,622.8 L607.3,629.9 L608.0,631.8 L608.1,632.6 L608.8,640.7 L609.0,644.5 L609.6,642.9 L610.0,642.2 L610.4,641.0 L610.9,637.7 L611.1,640.5 L611.9,644.1 L612.0,645.8 L612.6,648.0 L613.0,647.5 L613.4,646.3 L614.0,645.2 L614.2,646.2 L614.9,653.5 L615.1,655.9 L615.7,656.4 L616.4,657.4 L616.8,657.9 L617.2,657.6 L618.0,658.0 L618.7,657.7 L619.0,657.7 L619.5,658.2 L620.2,657.8 L621.0,658.4 L621.1,658.3 L621.8,658.8 L622.5,658.5 L623.2,658.7 L623.3,658.8 L624.0,658.9 L624.8,659.0 L625.3,658.9 L625.6,659.1 L626.3,659.3 L627.1,659.4 L627.5,659.3 L627.8,659.4 L628.6,659.5 L629.4,659.4 L630.1,659.3 L630.3,659.4 L630.9,658.8 L631.6,658.4 L631.7,658.4 L632.4,655.0 L632.4,655.0 L633.2,657.8 L633.3,658.4 L633.9,658.6 L634.7,658.7 L635.2,658.9 L635.4,658.8 L636.2,658.5 L637.0,658.8 L637.4,658.6 L637.7,658.9 L638.5,659.0 L639.2,659.3 L639.5,659.2 L640.0,659.3 L640.8,659.1 L641.5,659.3 L642.3,658.9 L642.3,659.0 L643.0,659.0 L643.8,658.8 L644.6,658.8 L645.3,658.6 L645.9,658.5 L646.1,658.7 L646.8,658.8 L647.6,659.0 L648.4,658.6 L649.1,659.0 L649.4,658.9 L649.9,658.8 L650.6,658.9 L651.4,659.2 L652.2,659.2 L652.9,659.1 L653.7,659.2 L653.7,659.4 L654.4,659.3 L655.2,659.5 L656.0,659.1 L656.7,659.4 L657.5,659.3 L657.9,659.2 L658.2,659.1 L659.0,659.3 L659.8,659.4 L660.5,659.2 L661.3,659.5 L662.0,659.3 L662.2,659.5 L662.8,659.7 L663.6,659.7 L664.3,659.6 L665.1,659.5 L665.8,659.7 L666.4,659.6 L666.6,659.8 L667.4,659.2 L668.1,659.2 L668.9,659.4 L669.2,659.2 L669.6,658.8 L670.4,658.1 L670.7,658.1 L671.2,658.8 L671.8,659.6 L671.9,659.7 L672.7,659.6 L673.4,659.8 L674.2,659.3 L674.9,659.7 L675.0,659.5 L675.7,659.5 L676.5,659.4 L677.2,659.6 L678.0,659.4 L678.8,659.4 L679.2,659.6 L679.5,659.5 L680.3,659.2 L681.0,659.3 L681.8,659.3 L682.6,659.4 L683.3,659.2 L683.4,659.3 L684.1,659.3 L684.8,659.3 L685.6,659.3 L686.4,659.3 L687.1,659.6 L687.7,659.3 L687.9,659.3 L688.6,658.5 L689.4,658.3 L689.8,658.1 L690.2,658.4 L690.9,659.4 L691.2,659.6 L691.2,661.5 L690.9,661.5 L690.2,661.5 L689.4,661.5 L688.6,661.4 L687.9,661.4 L687.1,661.5 L686.4,661.5 L685.6,661.4 L684.8,661.6 L684.1,661.3 L683.3,661.6 L682.6,661.4 L681.8,661.4 L681.0,661.7 L680.3,661.4 L679.5,661.6 L678.8,661.4 L678.0,661.4 L677.2,661.6 L676.5,661.5 L675.7,661.4 L675.0,661.6 L674.2,661.2 L673.4,661.5 L672.7,661.5 L671.9,661.4 L671.2,661.7 L670.4,661.7 L669.6,661.5 L668.9,661.5 L668.1,661.5 L667.4,661.3 L666.6,661.6 L665.8,661.4 L665.1,661.6 L664.3,661.6 L663.6,661.3 L662.8,661.5 L662.0,661.3 L661.3,661.4 L660.5,661.4 L659.8,661.4 L659.0,661.5 L658.2,661.6 L657.5,661.5 L656.7,661.4 L656.0,661.5 L655.2,661.5 L654.4,661.5 L653.7,661.8 L653.7,661.5 L652.9,661.5 L652.2,661.5 L651.4,661.7 L650.6,661.5 L649.9,661.6 L649.1,661.5 L648.4,661.4 L647.6,661.3 L646.8,661.5 L646.1,661.5 L645.3,661.5 L644.6,661.4 L643.8,661.5 L643.0,661.4 L642.3,661.2 L641.5,661.3 L640.8,661.3 L640.0,661.4 L639.2,661.3 L638.5,661.3 L637.7,661.3 L637.0,661.3 L636.2,661.3 L635.4,661.2 L634.7,661.2 L633.9,661.2 L633.2,661.1 L632.4,661.8 L631.6,661.2 L630.9,661.3 L630.1,661.4 L629.4,661.2 L628.6,661.2 L627.8,661.1 L627.1,661.4 L626.3,661.3 L625.6,661.2 L625.3,661.2 L624.8,661.2 L624.0,660.9 L623.3,661.1 L622.5,661.1 L621.8,660.7 L621.0,661.2 L620.2,660.7 L619.5,661.0 L618.7,661.1 L618.0,661.1 L617.2,660.8 L616.4,660.7 L615.7,660.3 L615.1,660.7 L614.9,660.8 L614.3,660.0 L614.2,659.5 L613.4,661.6 L612.6,660.6 L611.9,661.1 L611.2,659.9 L611.1,660.3 L610.4,658.8 L609.6,660.1 L608.8,660.6 L608.3,659.0 L608.1,659.2 L607.3,658.7 L606.6,658.0 L605.8,658.7 L605.5,658.5 L605.0,657.4 L604.3,658.1 L603.5,659.2 L602.8,656.2 L602.7,659.3 L602.0,659.7 L601.2,661.0 L600.5,658.8 L599.8,659.4 L599.7,659.2 L599.0,659.0 L598.2,658.6 L597.4,657.9 L597.0,660.1 L596.7,657.9 L596.6,659.1 L595.9,660.2 L595.5,660.7 L595.2,659.6 L594.4,659.9 L593.6,657.5 L592.9,658.8 L592.7,659.9 L592.1,661.1 L591.4,663.5 L590.6,656.6 L589.8,657.7 L589.8,659.1 L589.1,660.7 L588.3,661.3 L587.6,661.7 L587.0,659.1 L586.8,662.5 L586.0,659.9 L585.3,660.8 L584.5,661.3 L584.2,659.4 L583.8,659.8 L583.0,662.9 L582.2,663.4 L581.5,660.3 L581.3,660.1 L580.7,657.4 L580.0,661.4 L579.2,661.3 L578.5,660.1 L578.4,659.9 L577.7,659.2 L576.9,659.1 L576.2,662.5 L575.7,661.0 L575.4,660.6 L574.6,660.8 L573.9,659.2 L573.1,661.9 L572.8,659.9 L572.4,658.4 L571.6,662.6 L570.8,659.4 L570.1,662.0 L570.0,660.1 L569.3,661.9 L568.6,660.0 L567.8,660.8 L567.2,659.5 L567.0,658.3 L566.3,659.4 L565.5,661.5 L564.8,661.3 L564.3,660.0 L564.0,658.0 L563.2,661.5 L562.5,660.2 L561.7,660.2 L561.5,661.7 L561.0,661.3 L560.2,659.9 L559.4,658.5 L558.7,661.0 L558.7,660.8 L557.9,659.3 L557.2,659.5 L556.4,658.4 L555.8,660.1 L555.6,660.9 L554.9,661.9 L554.1,663.0 L553.4,657.4 L553.0,658.9 L552.6,659.4 L551.8,656.3 L551.6,656.8 L551.1,656.4 L550.3,657.2 L550.2,659.1 L549.6,660.4 L548.8,660.4 L548.0,661.5 L547.3,659.4 L547.3,658.5 L546.5,661.0 L545.8,662.1 L545.0,658.2 L544.5,659.9 L544.2,660.8 L543.5,658.9 L542.7,659.5 L542.0,658.9 L541.7,660.5 L541.2,659.1 L540.4,659.7 L539.7,658.9 L538.9,661.1 L538.8,661.0 L538.2,661.3 L537.4,661.4 L536.6,660.8 L536.0,660.2 L535.9,660.2 L535.1,660.8 L534.4,658.0 L533.6,659.7 L533.2,661.3 L532.8,662.0 L532.1,661.2 L531.3,659.0 L530.6,657.8 L530.3,661.1 L529.8,662.3 L529.0,661.3 L528.3,660.4 L528.2,660.8 L527.5,660.7 L526.8,663.4 L526.1,661.0 L526.0,663.1 L525.2,661.9 L524.5,662.0 L524.4,662.5 L523.7,661.7 L523.0,660.4 L523.0,658.9 L522.2,657.6 L521.5,657.0 L521.4,656.4 L520.7,655.7 L520.1,654.4 L519.9,655.1 L519.2,650.6 L519.0,653.7 L518.4,657.8 L517.9,658.0 L517.6,661.6 L516.9,663.1 L516.9,661.0 L516.1,662.8 L515.5,661.0 L515.4,661.5 L514.6,662.2 L514.0,661.7 L513.8,661.1 L513.1,658.2 L513.0,658.6 L512.3,656.8 L511.9,656.9 L511.6,656.4 L510.8,662.0 L510.8,660.2 L510.0,658.4 L509.8,658.0 L509.3,657.4 L508.5,652.4Z" fill="#a9a9a9" stroke="#a9a9a9" stroke-width="0.5" stroke-linejoin="round"/>
<path d="M508.5,626.1 L509.3,637.9 L509.4,638.6 L510.0,642.6 L510.5,644.9 L510.8,643.9 L511.6,641.3 L511.6,639.4 L512.3,641.9 L512.6,640.6 L513.1,637.2 L513.8,634.9 L513.8,631.1 L514.6,639.1 L514.7,641.0 L515.4,640.9 L515.9,640.7 L516.1,640.1 L516.9,645.3 L516.9,645.6 L517.6,636.2 L517.9,635.6 L518.4,636.2 L519.0,637.3 L519.2,637.1 L519.9,629.8 L520.1,627.2 L520.7,626.4 L521.1,625.9 L521.4,627.4 L522.1,633.0 L522.2,633.5 L523.0,641.2 L523.2,645.1 L523.7,648.9 L524.2,651.1 L524.5,648.4 L525.2,645.5 L525.4,644.4 L526.0,639.2 L526.4,636.7 L526.8,636.9 L527.5,638.6 L527.5,637.3 L528.3,646.4 L528.6,646.1 L529.0,646.9 L529.6,644.7 L529.8,644.9 L530.6,648.2 L531.0,647.4 L531.3,649.0 L532.1,646.7 L532.5,648.9 L532.8,648.1 L533.6,646.5 L533.9,646.9 L534.4,649.6 L535.1,647.4 L535.3,649.1 L535.9,649.4 L536.6,649.1 L536.7,647.9 L537.4,648.7 L538.1,651.4 L538.2,650.3 L538.9,650.4 L539.5,653.0 L539.7,652.9 L540.4,648.0 L541.0,646.8 L541.2,645.5 L542.0,641.5 L542.4,638.9 L542.7,642.4 L543.4,645.0 L543.5,645.1 L544.2,645.2 L544.5,641.9 L545.0,643.3 L545.6,651.3 L545.8,651.8 L546.5,654.3 L546.6,654.1 L547.3,650.8 L547.6,649.2 L548.0,648.4 L548.7,647.3 L548.8,646.8 L549.6,642.2 L549.7,640.0 L550.3,636.8 L550.7,631.8 L551.1,628.7 L551.6,626.1 L551.8,629.6 L552.6,633.2 L552.7,632.3 L553.4,633.7 L553.8,634.5 L554.1,637.0 L554.8,645.3 L554.9,645.6 L555.6,642.9 L555.8,641.7 L556.4,645.7 L557.0,645.6 L557.2,645.6 L557.9,647.2 L557.9,647.3 L558.7,648.6 L559.1,650.5 L559.4,649.0 L560.1,648.2 L560.2,648.1 L561.0,651.9 L561.2,651.5 L561.7,652.6 L562.2,654.0 L562.5,652.1 L563.2,644.1 L563.2,640.8 L564.0,637.9 L564.3,636.9 L564.8,635.2 L565.3,633.7 L565.5,634.2 L566.0,630.7 L566.3,632.8 L567.0,638.1 L567.2,641.3 L567.8,639.6 L568.3,635.6 L568.6,634.8 L569.3,641.3 L569.3,642.5 L570.1,636.9 L570.4,639.8 L570.8,643.3 L571.4,645.1 L571.6,646.2 L572.4,641.8 L572.4,640.6 L573.1,644.7 L573.5,644.9 L573.9,645.0 L574.5,648.0 L574.6,648.3 L575.4,649.0 L575.7,649.7 L576.2,652.4 L576.8,650.7 L576.9,648.9 L577.7,638.9 L577.8,642.6 L578.4,640.7 L578.8,635.8 L579.2,636.0 L579.9,635.2 L580.0,637.1 L580.7,639.2 L581.0,640.6 L581.5,645.2 L582.0,644.7 L582.2,645.3 L583.0,645.9 L583.2,645.4 L583.8,640.9 L584.2,639.3 L584.5,637.3 L585.3,636.2 L585.3,636.2 L586.0,644.7 L586.3,646.6 L586.8,648.3 L587.4,641.2 L587.6,641.8 L588.3,636.3 L588.4,638.9 L589.1,639.2 L589.5,643.2 L589.8,641.0 L590.5,637.8 L590.6,636.5 L591.4,640.6 L591.5,644.7 L592.1,643.8 L592.7,635.4 L592.9,639.8 L593.6,646.2 L593.8,648.0 L594.4,643.4 L594.8,643.7 L595.2,647.8 L595.8,650.1 L595.9,649.9 L596.6,642.5 L596.7,644.5 L597.0,650.4 L597.4,647.8 L598.1,641.4 L598.2,643.2 L599.0,641.2 L599.0,640.5 L599.7,647.8 L600.1,653.1 L600.5,651.3 L601.2,650.8 L601.2,648.5 L602.0,641.8 L602.4,642.6 L602.8,642.9 L603.5,641.2 L603.5,642.3 L604.3,640.6 L604.4,637.4 L605.0,635.4 L605.1,631.1 L605.8,642.7 L605.9,641.7 L606.6,642.3 L606.9,640.9 L607.3,642.9 L608.0,647.2 L608.1,647.6 L608.8,652.8 L609.0,653.7 L609.6,653.4 L610.0,651.4 L610.4,650.3 L611.1,650.2 L611.2,650.1 L611.9,651.4 L612.3,654.3 L612.6,653.4 L613.3,652.6 L613.4,653.2 L614.2,652.6 L614.3,651.9 L614.9,656.7 L615.1,658.7 L615.7,658.5 L616.4,658.8 L616.8,659.0 L617.2,658.7 L618.0,658.9 L618.7,658.6 L619.0,658.7 L619.5,658.9 L620.2,658.9 L621.0,659.6 L621.1,659.4 L621.8,659.4 L622.5,659.6 L623.2,659.6 L623.3,659.6 L624.0,659.9 L624.8,659.7 L625.3,659.8 L625.6,659.9 L626.3,660.0 L627.1,660.4 L627.5,660.4 L627.8,660.6 L628.6,660.4 L629.4,660.3 L630.1,660.3 L630.3,660.3 L630.9,659.9 L631.6,659.7 L631.7,659.8 L632.4,657.3 L632.4,657.4 L633.2,659.0 L633.3,659.4 L633.9,659.4 L634.7,659.5 L635.2,659.8 L635.4,659.7 L636.2,659.7 L637.0,659.6 L637.4,659.5 L637.7,659.6 L638.5,659.8 L639.2,659.8 L639.5,660.1 L640.0,660.1 L640.8,660.0 L641.5,659.9 L642.3,659.6 L642.3,659.8 L643.0,659.8 L643.8,659.8 L644.6,659.5 L645.3,659.5 L645.9,659.6 L646.1,659.7 L646.8,659.4 L647.6,659.6 L648.4,659.8 L649.1,660.0 L649.4,659.9 L649.9,660.0 L650.6,659.8 L651.4,660.0 L652.2,659.9 L652.9,660.0 L653.7,660.0 L653.7,660.0 L654.4,660.0 L655.2,660.1 L656.0,660.0 L656.7,660.0 L657.5,660.1 L657.9,660.0 L658.2,660.1 L659.0,660.2 L659.8,660.1 L660.5,660.1 L661.3,660.3 L662.0,660.5 L662.2,660.3 L662.8,660.6 L663.6,660.4 L664.3,660.3 L665.1,660.5 L665.8,660.5 L666.4,660.6 L666.6,660.6 L667.4,660.4 L668.1,660.2 L668.9,660.0 L669.2,660.1 L669.6,659.9 L670.4,659.7 L670.7,659.5 L671.2,659.7 L671.8,660.3 L671.9,660.3 L672.7,660.2 L673.4,660.5 L674.2,660.4 L674.9,660.5 L675.0,660.5 L675.7,660.3 L676.5,660.3 L677.2,660.3 L678.0,660.1 L678.8,660.3 L679.2,660.3 L679.5,660.2 L680.3,660.2 L681.0,659.9 L681.8,660.0 L682.6,660.2 L683.3,660.1 L683.4,660.1 L684.1,660.0 L684.8,660.0 L685.6,660.1 L686.4,660.0 L687.1,660.2 L687.7,660.1 L687.9,660.1 L688.6,659.8 L689.4,659.5 L689.8,659.3 L690.2,659.7 L690.9,660.1 L691.2,660.4" fill="none" stroke="#0d0d0d" stroke-width="1.2" stroke-linejoin="round"/>
<path d="M60.4,873.1 L61.1,866.7 L61.4,865.7 L61.9,863.1 L62.4,860.3 L62.7,861.1 L63.2,862.9 L63.4,865.6 L64.2,873.9 L64.2,876.5 L64.9,878.9 L65.2,878.8 L65.7,877.0 L66.0,875.5 L66.5,871.5 L66.9,868.1 L67.2,873.5 L67.7,878.0 L68.0,878.2 L68.7,875.7 L68.9,875.7 L69.5,875.1 L69.9,873.3 L70.3,868.8 L70.7,859.9 L71.0,863.7 L71.7,870.5 L71.8,870.9 L72.5,877.9 L72.7,879.1 L73.3,882.6 L73.7,886.1 L74.1,886.8 L74.8,889.2 L74.8,888.8 L75.6,887.2 L76.0,885.9 L76.3,886.4 L77.1,883.7 L77.1,884.2 L77.9,884.0 L78.2,884.7 L78.6,883.9 L79.4,880.6 L79.4,879.4 L80.1,879.3 L80.5,878.7 L80.9,876.8 L81.2,875.7 L81.7,880.0 L82.3,885.0 L82.4,885.9 L83.2,879.6 L83.6,878.7 L83.9,881.7 L84.7,888.9 L84.7,889.3 L85.5,891.9 L86.2,893.9 L86.2,894.0 L87.0,893.7 L87.7,893.5 L88.3,893.1 L88.5,892.5 L89.3,888.9 L89.7,887.4 L90.0,883.3 L90.7,877.5 L90.8,878.6 L91.5,872.9 L91.5,874.4 L92.3,877.7 L92.7,875.6 L93.1,876.7 L93.8,879.4 L94.0,878.9 L94.6,880.2 L95.1,882.6 L95.3,883.4 L96.1,887.6 L96.1,886.7 L96.9,885.8 L97.2,885.8 L97.6,887.8 L98.3,887.4 L98.4,887.8 L99.1,889.6 L99.6,891.1 L99.9,891.5 L100.7,892.9 L101.0,893.1 L101.4,893.7 L102.2,893.5 L102.5,893.9 L102.9,893.7 L103.7,893.2 L103.9,893.1 L104.5,893.0 L105.2,892.2 L105.3,891.7 L106.0,891.2 L106.7,890.4 L106.7,889.8 L107.5,890.4 L108.3,889.9 L108.8,890.2 L109.0,889.8 L109.8,889.9 L110.5,890.2 L110.9,890.0 L111.3,890.5 L112.1,890.4 L112.8,890.0 L113.1,890.0 L113.6,890.6 L114.3,890.2 L115.1,890.8 L115.2,890.3 L115.9,888.0 L116.6,884.6 L116.6,885.6 L117.4,879.8 L117.6,875.6 L118.1,875.6 L118.7,873.0 L118.9,871.9 L119.7,872.7 L119.9,872.1 L120.4,876.1 L120.9,879.2 L121.2,879.3 L121.9,882.8 L121.9,882.7 L122.7,888.3 L123.0,889.6 L123.5,890.3 L124.2,891.4 L124.4,891.7 L125.0,891.9 L125.7,892.3 L126.5,892.5 L126.5,892.4 L127.3,892.4 L128.0,892.8 L128.7,892.9 L128.8,893.0 L129.5,892.6 L130.3,892.5 L130.8,892.0 L131.1,891.8 L131.8,891.8 L132.6,891.6 L132.9,891.9 L133.3,891.4 L134.1,891.0 L134.9,890.3 L135.0,890.4 L135.6,888.0 L136.4,884.9 L136.4,885.1 L137.1,879.7 L137.6,877.5 L137.9,875.2 L138.6,873.2 L138.7,874.6 L139.4,873.3 L139.6,875.0 L140.2,872.0 L140.8,866.9 L140.9,867.5 L141.7,875.9 L141.7,876.6 L142.5,875.0 L142.5,874.9 L143.2,877.3 L143.7,879.0 L144.0,877.4 L144.7,877.8 L144.7,874.2 L145.5,871.9 L145.7,869.7 L146.3,868.1 L146.8,867.2 L147.0,867.2 L147.8,870.3 L147.8,871.6 L148.5,867.8 L148.8,868.1 L149.3,870.6 L149.6,870.7 L150.0,876.7 L150.1,876.6 L150.8,866.5 L151.0,866.2 L151.6,876.6 L152.0,881.5 L152.3,880.7 L153.1,878.5 L153.1,878.3 L153.9,873.6 L154.2,871.1 L154.6,874.1 L155.4,878.7 L155.4,879.2 L156.1,881.3 L156.4,881.9 L156.9,879.5 L157.4,878.6 L157.7,878.6 L158.4,873.4 L158.5,874.7 L159.2,870.9 L159.3,870.5 L159.9,880.5 L160.2,884.9 L160.7,887.9 L161.3,891.2 L161.5,890.2 L162.2,888.8 L162.5,889.0 L163.0,885.2 L163.5,882.1 L163.7,880.0 L164.5,875.7 L164.6,875.7 L165.3,880.0 L165.6,880.9 L166.0,882.1 L166.7,886.2 L166.8,885.2 L167.5,889.5 L167.8,890.4 L168.3,890.7 L169.1,891.9 L169.1,891.7 L169.8,889.8 L170.5,887.4 L170.6,886.8 L171.3,883.5 L171.5,880.9 L172.1,886.1 L172.4,890.2 L172.9,891.9 L173.6,893.4 L173.8,893.8 L174.4,893.7 L175.1,894.0 L175.5,893.9 L175.9,893.3 L176.7,893.0 L177.2,892.5 L177.4,891.8 L178.2,889.2 L178.3,889.0 L178.9,887.4 L179.5,886.7 L179.7,886.7 L180.5,885.9 L180.6,886.1 L181.2,886.0 L181.7,885.6 L182.0,885.6 L182.7,885.1 L182.9,884.5 L183.5,886.0 L184.0,887.1 L184.3,888.5 L185.0,892.2 L185.1,892.4 L185.8,893.4 L186.5,894.6 L186.5,894.6 L187.3,894.3 L188.1,893.9 L188.2,893.9 L188.8,893.5 L189.6,893.4 L190.3,892.3 L190.4,892.8 L191.1,892.6 L191.9,892.0 L192.5,892.1 L192.6,892.1 L193.4,891.9 L194.1,891.3 L194.6,891.5 L194.9,891.6 L195.7,891.7 L196.4,891.5 L196.7,891.7 L197.2,891.7 L197.9,892.4 L198.7,893.0 L198.9,892.7 L199.5,892.6 L200.2,892.8 L200.3,892.5 L201.0,893.0 L201.7,892.9 L201.7,892.6 L202.5,892.0 L203.1,891.8 L203.3,892.0 L204.0,890.9 L204.5,890.6 L204.8,890.7 L205.5,891.8 L205.9,892.6 L206.3,892.2 L207.1,890.6 L207.1,890.5 L207.8,880.8 L208.1,878.0 L208.6,875.1 L209.1,873.7 L209.3,874.1 L210.1,877.4 L210.1,877.4 L210.9,873.4 L211.2,873.3 L211.6,873.4 L212.3,876.1 L212.4,876.3 L213.1,872.6 L213.5,870.7 L213.9,869.1 L214.4,866.9 L214.7,868.9 L215.4,873.9 L215.4,874.5 L216.2,873.3 L216.6,873.1 L216.9,869.7 L217.7,872.2 L217.7,872.3 L218.5,870.5 L218.7,870.2 L219.2,869.4 L219.4,864.6 L220.0,870.5 L220.5,873.4 L220.7,869.1 L221.5,862.5 L221.5,863.1 L222.3,866.5 L222.5,867.7 L223.0,871.2 L223.4,869.0 L223.8,868.9 L224.4,866.3 L224.5,863.1 L225.3,862.2 L225.5,861.5 L226.1,868.1 L226.5,868.8 L226.8,869.8 L227.6,870.6 L227.6,872.6 L228.3,865.7 L228.6,865.7 L229.1,870.4 L229.6,871.4 L229.9,871.9 L230.6,879.5 L230.7,880.8 L231.4,880.1 L231.9,878.9 L232.1,878.7 L232.9,880.0 L232.9,878.4 L233.7,870.2 L233.9,868.9 L234.4,862.0 L234.6,862.7 L235.2,871.9 L235.7,877.9 L235.9,881.7 L236.7,891.8 L236.7,892.3 L237.5,893.6 L237.8,894.6 L238.2,894.7 L239.0,894.8 L239.7,895.0 L239.9,894.8 L240.5,894.6 L241.3,894.6 L242.0,894.1 L242.1,894.2 L242.8,894.7 L243.5,895.2 L243.5,897.2 L242.8,897.1 L242.0,897.0 L241.3,897.0 L240.5,897.1 L239.7,896.9 L239.0,897.0 L238.2,896.8 L237.5,896.9 L236.7,896.5 L236.4,896.7 L235.9,897.1 L235.2,895.5 L234.7,893.8 L234.4,892.0 L233.7,892.8 L232.9,894.7 L232.9,895.2 L232.1,894.7 L231.4,894.8 L230.7,893.8 L230.6,893.3 L229.9,892.8 L229.1,891.1 L228.6,891.8 L228.3,890.9 L227.6,889.8 L226.8,891.2 L226.5,890.6 L226.1,890.4 L225.3,889.4 L224.5,891.0 L224.4,891.3 L223.8,890.9 L223.0,892.5 L222.3,892.3 L222.2,892.1 L221.5,893.7 L220.7,891.4 L220.1,892.2 L220.0,893.8 L219.2,894.8 L218.5,895.3 L218.0,893.7 L217.7,894.1 L216.9,893.8 L216.2,893.6 L215.9,893.9 L215.4,894.0 L214.7,894.0 L213.9,894.2 L213.7,893.5 L213.1,893.4 L212.4,894.2 L211.6,892.8 L211.6,894.8 L210.9,894.9 L210.1,894.9 L209.5,893.6 L209.3,894.0 L208.6,893.2 L208.1,894.9 L207.8,894.5 L207.1,895.7 L206.7,896.3 L206.3,896.2 L205.5,896.2 L204.8,896.6 L204.0,896.7 L203.3,895.9 L202.5,896.0 L201.7,895.8 L201.0,896.1 L200.2,896.0 L199.6,895.9 L199.5,896.1 L198.7,895.9 L197.9,895.9 L197.2,895.7 L196.4,895.8 L195.7,895.9 L194.9,896.0 L194.1,895.6 L193.4,895.5 L192.6,895.8 L192.5,895.6 L191.9,896.2 L191.1,896.0 L190.3,896.2 L189.6,896.3 L188.8,896.4 L188.1,896.5 L187.3,896.6 L186.8,896.7 L186.5,896.6 L185.8,896.4 L185.0,896.2 L184.7,896.0 L184.3,895.6 L183.5,895.3 L182.7,894.4 L182.6,893.9 L182.0,894.5 L181.2,894.7 L180.5,894.7 L180.5,894.7 L179.7,895.2 L178.9,894.6 L178.3,895.4 L178.2,895.3 L177.4,896.2 L176.7,895.9 L175.9,896.2 L175.5,896.6 L175.1,896.4 L174.4,896.5 L173.6,896.3 L172.9,896.3 L172.4,896.2 L172.1,896.2 L171.3,895.9 L170.6,896.0 L170.5,895.9 L169.8,895.6 L169.1,896.1 L168.4,896.1 L168.3,896.1 L167.5,895.4 L166.8,895.2 L166.3,895.5 L166.0,894.6 L165.3,894.7 L164.5,894.8 L164.2,894.4 L163.7,893.8 L163.0,894.6 L162.2,896.0 L162.0,896.0 L161.5,895.6 L160.7,895.8 L160.2,895.3 L159.9,894.3 L159.2,896.0 L158.5,894.1 L158.4,893.6 L157.7,895.4 L156.9,894.2 L156.4,894.7 L156.1,895.7 L155.4,893.8 L154.6,892.6 L154.2,893.6 L153.9,893.8 L153.1,894.9 L152.3,894.6 L152.1,894.6 L151.6,893.9 L150.8,895.5 L150.1,894.5 L150.0,894.5 L149.6,893.1 L149.3,891.9 L149.2,891.9 L148.5,891.8 L147.8,895.3 L147.8,893.1 L147.0,892.8 L146.4,892.9 L146.3,894.3 L145.5,895.8 L144.9,894.6 L144.7,896.3 L144.0,894.8 L143.5,894.1 L143.2,893.9 L142.5,894.1 L142.1,893.2 L141.7,894.6 L140.9,891.5 L140.7,891.4 L140.2,893.1 L139.4,892.1 L139.3,892.3 L138.7,892.9 L137.9,892.3 L137.9,893.1 L137.1,894.7 L136.4,894.5 L136.4,894.3 L135.6,895.2 L134.9,895.1 L134.3,895.3 L134.1,895.4 L133.3,895.4 L132.6,895.4 L131.8,895.8 L131.1,896.1 L130.3,896.3 L130.1,896.0 L129.5,896.1 L128.8,895.9 L128.0,895.8 L127.3,895.8 L126.5,895.6 L125.8,895.7 L125.7,895.7 L125.0,895.5 L124.2,895.5 L123.7,895.2 L123.5,895.0 L122.7,894.5 L122.3,893.7 L121.9,894.0 L121.2,893.8 L120.9,893.4 L120.4,893.5 L119.7,891.8 L119.4,892.8 L118.9,891.4 L118.1,892.1 L118.0,892.3 L117.4,893.7 L116.6,894.5 L116.6,894.7 L115.9,894.9 L115.2,895.4 L115.1,895.3 L114.3,894.8 L113.6,895.1 L112.8,895.5 L112.1,895.2 L111.7,895.2 L111.3,895.0 L110.5,895.4 L109.8,895.3 L109.0,895.6 L108.3,895.2 L107.5,894.7 L107.4,895.1 L106.7,895.2 L106.0,896.0 L105.2,896.1 L104.6,896.0 L104.5,896.3 L103.7,896.1 L102.9,896.2 L102.5,896.3 L102.2,896.0 L101.4,895.8 L100.7,895.9 L100.3,895.7 L99.9,895.4 L99.1,894.6 L98.9,894.7 L98.4,894.2 L97.6,893.4 L97.5,893.9 L96.9,894.0 L96.1,894.6 L96.1,894.9 L95.3,893.2 L94.7,893.3 L94.6,892.9 L93.8,892.2 L93.2,892.4 L93.1,892.5 L92.3,893.2 L91.8,892.6 L91.5,892.3 L90.8,892.8 L90.4,893.9 L90.0,894.5 L89.3,895.9 L89.0,896.2 L88.5,896.5 L87.7,896.4 L87.0,896.6 L86.9,896.8 L86.2,896.6 L85.5,896.4 L84.7,896.3 L84.7,895.5 L83.9,895.9 L83.3,895.2 L83.2,894.5 L82.4,895.4 L81.9,894.5 L81.7,893.7 L80.9,896.0 L80.5,895.6 L80.1,896.1 L79.4,894.0 L79.1,894.7 L78.6,894.1 L77.9,894.8 L77.7,894.7 L77.1,894.4 L76.3,895.5 L76.2,895.2 L75.6,895.3 L74.8,896.0 L74.8,896.3 L74.1,895.4 L73.4,894.4 L73.3,894.9 L72.5,893.9 L72.0,893.0 L71.8,891.4 L71.0,893.5 L70.9,890.5 L70.3,892.9 L69.5,892.8 L69.2,892.3 L68.7,892.9 L68.0,893.0 L67.7,892.8 L67.2,892.2 L66.5,892.8 L66.3,892.6 L65.7,893.4 L64.9,893.2 L64.9,892.6 L64.2,891.6 L63.5,892.0 L63.4,891.5 L62.7,892.9 L62.1,891.1 L61.9,891.8 L61.1,890.5 L60.4,891.3Z" fill="#a9a9a9" stroke="#a9a9a9" stroke-width="0.5" stroke-linejoin="round"/>
<path d="M60.4,882.0 L61.1,880.0 L61.4,879.6 L61.9,877.8 L62.4,876.5 L62.7,876.5 L63.2,877.4 L63.4,877.2 L64.2,883.4 L64.2,883.4 L64.9,885.9 L65.2,886.1 L65.7,883.7 L66.0,883.1 L66.5,879.0 L66.9,876.2 L67.2,878.3 L67.7,884.8 L68.0,882.3 L68.7,883.8 L68.9,883.1 L69.5,883.6 L69.9,883.6 L70.3,878.6 L70.9,876.7 L71.0,876.8 L71.7,881.6 L71.8,882.2 L72.5,884.4 L72.7,885.9 L73.3,888.1 L73.7,891.3 L74.1,890.9 L74.8,892.8 L74.8,892.2 L75.6,891.9 L76.0,891.2 L76.3,889.9 L77.1,889.0 L77.1,888.8 L77.9,889.4 L78.2,889.9 L78.6,889.0 L79.4,887.6 L79.4,886.8 L80.1,889.4 L80.5,888.6 L80.9,886.9 L81.5,885.4 L81.7,885.2 L82.4,888.4 L82.6,889.0 L83.2,887.6 L83.8,887.6 L83.9,889.8 L84.7,894.4 L84.7,894.3 L85.5,895.1 L86.2,895.7 L86.2,895.7 L87.0,895.7 L87.7,895.4 L88.3,895.2 L88.5,895.0 L89.3,893.5 L89.7,893.2 L90.0,891.1 L90.7,886.2 L90.8,886.1 L91.5,884.3 L91.5,883.4 L92.3,884.2 L92.7,883.2 L93.1,884.0 L93.8,885.1 L94.0,885.7 L94.6,885.5 L95.1,886.1 L95.3,886.8 L96.1,890.3 L96.1,889.6 L96.9,889.6 L97.2,889.0 L97.6,889.3 L98.3,890.4 L98.4,890.5 L99.1,892.1 L99.6,893.3 L99.9,893.6 L100.7,894.4 L101.0,894.6 L101.4,894.7 L102.2,895.3 L102.5,895.3 L102.9,895.1 L103.7,895.2 L103.9,894.8 L104.5,894.1 L105.2,893.9 L105.3,893.9 L106.0,893.5 L106.7,893.3 L106.7,893.6 L107.5,893.4 L108.3,893.3 L108.8,893.0 L109.0,893.2 L109.8,892.8 L110.5,892.7 L110.9,893.1 L111.3,892.8 L112.1,892.8 L112.8,893.1 L113.1,892.9 L113.6,893.0 L114.3,893.0 L115.1,893.3 L115.2,893.2 L115.9,891.6 L116.6,890.4 L116.6,889.9 L117.4,885.9 L117.6,885.6 L118.1,883.1 L118.7,882.4 L118.9,882.0 L119.7,882.3 L119.9,883.2 L120.4,885.5 L120.9,886.2 L121.2,888.2 L121.9,887.6 L121.9,886.7 L122.7,891.4 L123.0,892.5 L123.5,893.0 L124.2,893.1 L124.4,893.4 L125.0,893.7 L125.7,893.6 L126.5,893.8 L126.5,893.8 L127.3,894.3 L128.0,894.1 L128.7,894.6 L128.8,894.6 L129.5,894.2 L130.3,893.9 L130.8,894.0 L131.1,893.6 L131.8,893.9 L132.6,893.7 L132.9,893.9 L133.3,893.6 L134.1,893.0 L134.9,892.4 L135.0,892.9 L135.6,891.9 L136.4,890.0 L136.4,890.6 L137.1,887.7 L137.6,886.1 L137.9,884.9 L138.6,883.8 L138.7,885.5 L139.4,884.3 L139.6,884.1 L140.2,883.4 L140.4,881.2 L140.9,887.1 L141.4,885.9 L141.7,886.4 L142.5,885.2 L142.5,885.0 L143.2,885.6 L143.7,887.6 L144.0,888.0 L144.7,888.9 L144.7,888.5 L145.5,887.9 L145.7,883.6 L146.3,878.8 L146.8,881.4 L147.0,883.6 L147.8,883.1 L147.8,881.8 L148.5,881.2 L148.8,881.0 L149.3,882.9 L149.6,883.8 L150.0,890.5 L150.1,891.3 L150.8,885.5 L151.0,881.2 L151.6,887.4 L152.0,891.2 L152.3,890.6 L153.1,889.7 L153.1,889.1 L153.9,883.4 L154.2,882.3 L154.6,885.5 L155.4,887.6 L155.4,886.9 L156.1,888.3 L156.4,889.5 L156.9,888.7 L157.4,886.1 L157.7,886.4 L158.4,884.9 L158.5,884.1 L159.2,881.2 L159.3,883.0 L159.9,888.1 L160.2,890.6 L160.7,891.6 L161.3,893.9 L161.5,893.8 L162.2,893.4 L162.5,893.0 L163.0,891.3 L163.5,888.7 L163.7,889.1 L164.5,886.4 L164.6,885.3 L165.3,886.6 L165.6,887.8 L166.0,889.0 L166.7,891.3 L166.8,891.5 L167.5,892.5 L167.8,893.2 L168.3,893.8 L169.1,894.1 L169.1,893.8 L169.8,893.2 L170.5,892.6 L170.6,891.6 L171.3,889.6 L171.5,888.6 L172.1,892.3 L172.4,893.9 L172.9,894.3 L173.6,895.1 L173.8,895.3 L174.4,895.1 L175.1,895.3 L175.5,895.3 L175.9,895.3 L176.7,894.7 L177.2,894.5 L177.4,894.3 L178.2,892.6 L178.3,892.5 L178.9,891.9 L179.5,890.6 L179.7,890.6 L180.5,890.0 L180.6,889.9 L181.2,890.8 L181.7,890.5 L182.0,890.6 L182.7,889.2 L182.9,889.3 L183.5,889.9 L184.0,890.5 L184.3,891.0 L185.0,894.1 L185.1,894.5 L185.8,895.0 L186.5,895.7 L186.5,895.7 L187.3,895.7 L188.1,895.3 L188.2,895.3 L188.8,895.0 L189.6,894.7 L190.3,894.5 L190.4,894.2 L191.1,894.0 L191.9,893.5 L192.5,893.5 L192.6,893.4 L193.4,893.5 L194.1,893.3 L194.6,893.2 L194.9,892.8 L195.7,893.1 L196.4,893.3 L196.7,893.4 L197.2,893.9 L197.9,894.1 L198.7,894.3 L198.9,894.4 L199.5,894.2 L200.2,893.9 L200.3,893.8 L201.0,893.9 L201.7,894.3 L201.7,894.3 L202.5,894.1 L203.1,893.1 L203.3,893.1 L204.0,892.8 L204.5,892.3 L204.8,892.5 L205.5,893.7 L205.9,893.8 L206.3,893.8 L207.1,893.8 L207.1,893.8 L207.8,888.2 L208.1,887.7 L208.6,886.4 L209.1,883.7 L209.3,883.8 L210.1,888.7 L210.1,888.5 L210.9,883.9 L211.2,885.0 L211.6,887.1 L212.3,885.5 L212.4,886.1 L213.1,881.7 L213.5,882.2 L213.9,880.7 L214.4,880.4 L214.7,882.5 L215.4,884.4 L215.4,884.8 L216.2,886.0 L216.6,883.6 L216.9,884.5 L217.7,886.3 L217.7,884.4 L218.5,885.0 L218.7,885.7 L219.2,884.8 L219.7,879.4 L220.0,880.2 L220.5,887.3 L220.7,885.6 L221.5,876.1 L221.5,880.0 L222.3,876.5 L222.5,878.7 L223.0,879.7 L223.4,881.0 L223.8,880.5 L224.4,878.3 L224.5,879.2 L225.3,878.6 L225.5,876.1 L226.1,878.3 L226.5,878.9 L226.8,879.3 L227.6,881.9 L227.6,881.8 L228.3,879.7 L228.6,878.8 L229.1,879.8 L229.6,881.0 L229.9,885.3 L230.6,889.6 L230.7,890.2 L231.4,891.0 L231.9,889.3 L232.1,889.9 L232.9,890.6 L232.9,889.9 L233.7,880.6 L233.9,880.8 L234.4,878.5 L234.7,877.4 L235.2,884.5 L235.7,887.2 L235.9,889.5 L236.7,894.6 L236.7,894.5 L237.5,895.4 L237.8,895.7 L238.2,895.7 L239.0,895.7 L239.7,895.8 L239.9,896.0 L240.5,895.9 L241.3,895.7 L242.0,895.6 L242.1,895.7 L242.8,896.0 L243.5,896.3" fill="none" stroke="#0d0d0d" stroke-width="1.2" stroke-linejoin="round"/>
<path d="M285.4,844.0 L286.1,836.4 L286.4,834.7 L286.9,827.3 L287.4,824.9 L287.7,827.8 L288.4,830.7 L288.5,831.9 L289.2,828.3 L289.6,822.3 L289.9,819.6 L290.6,817.6 L290.7,814.5 L291.5,815.1 L291.6,814.9 L292.2,817.3 L292.7,818.5 L293.0,813.9 L293.7,809.6 L293.9,809.5 L294.5,795.0 L295.0,786.2 L295.3,793.6 L295.9,819.8 L296.0,822.5 L296.7,845.4 L296.8,845.1 L297.5,841.9 L297.7,838.9 L298.3,837.2 L298.7,832.9 L299.1,834.3 L299.8,837.9 L299.8,834.5 L300.6,841.8 L301.0,847.8 L301.3,856.2 L302.0,859.6 L302.1,859.4 L302.9,848.2 L302.9,846.4 L303.6,837.5 L303.7,836.3 L304.4,850.5 L304.8,855.6 L305.1,864.6 L305.8,870.0 L305.9,872.4 L306.7,876.2 L306.9,876.3 L307.4,882.5 L307.8,884.4 L308.2,878.1 L308.8,870.3 L308.9,870.0 L309.7,868.5 L309.7,867.6 L310.5,864.2 L310.5,865.3 L311.2,871.8 L311.4,876.3 L312.0,886.2 L312.3,893.4 L312.7,893.7 L313.5,895.1 L314.0,895.4 L314.3,895.3 L315.0,895.6 L315.8,895.0 L316.1,895.4 L316.5,895.2 L317.3,895.1 L318.1,895.0 L318.2,895.1 L318.8,890.5 L319.6,886.7 L319.7,884.8 L320.3,869.9 L320.5,871.0 L321.1,858.5 L321.4,852.3 L321.9,863.4 L322.2,870.6 L322.6,880.7 L323.2,893.5 L323.4,893.7 L324.1,894.3 L324.9,895.5 L325.3,895.8 L325.7,895.8 L326.4,895.4 L327.2,894.7 L327.5,894.7 L327.9,894.3 L328.7,893.1 L328.9,893.2 L329.5,894.2 L330.2,895.0 L330.3,894.9 L331.0,895.2 L331.7,894.8 L332.4,895.0 L332.5,895.2 L333.3,894.5 L334.0,893.8 L334.5,893.1 L334.8,892.9 L335.5,893.0 L335.9,893.3 L336.3,891.8 L336.9,887.7 L337.1,886.7 L337.8,879.8 L338.1,876.9 L338.6,874.1 L339.1,870.5 L339.3,866.2 L340.1,859.2 L340.1,855.7 L340.9,854.3 L340.9,852.0 L341.6,860.5 L341.8,863.7 L342.4,863.4 L342.6,864.8 L343.1,881.2 L343.5,888.2 L343.9,888.9 L344.7,891.2 L345.2,893.4 L345.4,892.7 L346.2,891.4 L346.6,890.4 L346.9,890.9 L347.7,889.9 L348.0,889.1 L348.5,888.4 L349.2,886.6 L349.4,886.3 L350.0,883.4 L350.7,882.0 L350.8,882.3 L351.5,874.0 L352.0,870.7 L352.3,868.5 L352.9,861.5 L353.0,863.6 L353.8,855.6 L353.9,857.2 L354.5,854.5 L355.1,850.0 L355.3,850.3 L356.1,846.9 L356.2,848.1 L356.8,845.0 L357.3,840.5 L357.6,846.6 L358.3,854.8 L358.3,853.2 L359.1,842.5 L359.3,836.5 L359.9,832.1 L360.3,830.9 L360.6,834.2 L361.4,835.0 L361.4,835.9 L362.1,839.1 L362.4,838.2 L362.9,837.8 L363.6,833.6 L363.7,834.2 L364.4,823.3 L364.6,823.0 L365.2,832.6 L365.4,836.6 L365.9,840.5 L366.4,838.3 L366.7,832.9 L367.3,828.3 L367.5,824.4 L368.1,826.0 L368.2,829.1 L369.0,840.0 L369.0,841.0 L369.7,851.7 L369.9,853.1 L370.5,857.5 L370.8,860.1 L371.3,837.8 L371.8,824.8 L372.0,817.3 L372.5,808.3 L372.8,817.8 L373.5,833.5 L373.5,833.6 L374.3,831.1 L374.6,835.8 L375.1,838.2 L375.2,838.7 L375.8,838.0 L376.1,834.6 L376.6,832.0 L377.1,825.2 L377.3,834.2 L378.1,857.9 L378.1,858.5 L378.9,853.5 L379.2,848.9 L379.6,847.1 L380.4,849.0 L380.4,848.2 L381.1,849.3 L381.5,849.5 L381.9,846.9 L382.5,840.0 L382.7,839.9 L383.4,850.8 L383.5,851.0 L384.2,840.6 L384.5,834.3 L384.9,828.1 L385.5,820.7 L385.7,825.0 L386.5,826.3 L386.6,831.1 L387.2,836.5 L387.5,836.1 L388.0,846.3 L388.5,853.2 L388.7,852.4 L389.4,839.5 L389.5,839.5 L390.3,822.0 L390.6,817.8 L391.0,826.2 L391.7,835.9 L391.8,831.9 L392.5,825.3 L392.7,820.6 L393.3,820.5 L393.7,817.5 L394.1,815.6 L394.8,815.3 L394.8,813.0 L395.6,821.1 L395.8,822.7 L396.3,818.2 L396.7,811.5 L397.1,818.5 L397.7,823.8 L397.9,815.7 L398.5,805.4 L398.6,806.5 L399.4,831.4 L399.5,833.8 L400.1,828.7 L400.5,822.1 L400.9,821.9 L401.3,820.8 L401.7,822.3 L402.3,824.7 L402.4,823.8 L403.2,837.0 L403.3,836.1 L403.9,830.8 L404.3,824.9 L404.7,816.8 L405.3,807.2 L405.5,807.8 L406.2,821.1 L406.2,823.0 L407.0,828.0 L407.3,832.3 L407.7,828.9 L408.3,821.6 L408.5,819.2 L409.3,811.3 L409.3,812.0 L410.0,822.9 L410.4,826.6 L410.8,826.2 L411.5,817.0 L411.5,817.5 L412.3,827.9 L412.4,828.0 L413.1,842.9 L413.2,845.5 L413.8,854.2 L414.2,856.8 L414.6,850.5 L415.2,835.9 L415.3,839.6 L416.1,858.9 L416.1,860.0 L416.9,843.6 L416.9,842.0 L417.6,834.3 L417.8,832.1 L418.4,850.3 L418.6,859.1 L419.1,866.4 L419.6,879.7 L419.9,880.1 L420.7,880.2 L421.0,882.3 L421.4,878.6 L422.2,872.7 L422.5,870.9 L422.9,864.9 L423.4,856.3 L423.7,857.0 L424.5,845.4 L424.6,847.2 L425.2,841.0 L425.4,840.5 L426.0,839.7 L426.3,842.4 L426.7,840.0 L427.1,838.9 L427.5,840.0 L428.0,841.5 L428.3,840.3 L428.8,834.7 L429.0,832.8 L429.7,829.5 L429.8,836.5 L430.5,849.1 L430.5,851.5 L431.3,869.6 L431.4,870.0 L432.1,868.4 L432.4,864.9 L432.8,861.6 L433.4,853.7 L433.6,854.5 L434.3,849.0 L434.5,848.1 L435.1,846.2 L435.3,844.9 L435.9,856.6 L436.2,865.9 L436.6,872.2 L437.0,879.0 L437.4,881.7 L438.0,884.5 L438.1,883.9 L438.9,882.8 L439.0,881.7 L439.7,878.1 L440.2,876.5 L440.4,871.0 L441.0,860.2 L441.2,854.7 L441.9,836.3 L441.9,836.0 L442.7,832.0 L442.7,828.4 L443.5,834.7 L443.7,836.4 L444.2,805.1 L444.4,791.0 L445.0,801.8 L445.4,808.0 L445.7,820.3 L446.2,836.3 L446.5,841.5 L447.2,859.7 L447.3,858.4 L448.0,847.7 L448.1,848.1 L448.8,855.5 L448.9,856.3 L449.5,843.5 L449.8,839.3 L450.3,841.7 L450.8,842.8 L451.1,847.5 L451.8,862.4 L451.8,863.7 L452.6,854.1 L452.9,850.2 L453.3,839.5 L453.8,829.8 L454.1,833.0 L454.6,836.7 L454.9,826.8 L455.5,810.1 L455.6,813.3 L456.3,822.3 L456.4,819.2 L457.1,793.6 L457.2,794.8 L457.9,809.5 L458.0,811.0 L458.7,831.4 L458.9,836.0 L459.4,831.7 L459.7,829.0 L460.2,841.8 L460.7,854.1 L460.9,851.1 L461.5,843.0 L461.7,847.0 L462.4,853.5 L462.5,849.9 L463.2,845.5 L463.4,842.1 L464.0,844.3 L464.2,847.1 L464.7,833.7 L465.2,822.7 L465.5,821.9 L466.1,817.3 L466.3,815.0 L467.0,834.2 L467.1,832.2 L467.8,858.9 L467.8,859.7 L467.8,894.7 L467.8,893.6 L467.1,890.3 L467.0,892.1 L466.3,884.0 L466.1,882.1 L465.5,883.7 L465.2,885.1 L464.7,890.4 L464.2,896.2 L464.0,895.8 L463.4,890.2 L463.2,887.8 L462.5,898.4 L462.4,896.7 L461.7,896.4 L461.5,893.0 L460.9,894.5 L460.7,896.9 L460.2,893.8 L459.7,888.5 L459.4,892.0 L458.9,892.8 L458.7,890.9 L458.0,884.5 L457.9,881.3 L457.2,878.3 L457.1,879.9 L456.4,891.1 L456.3,890.1 L455.6,887.9 L455.5,883.9 L454.9,891.0 L454.6,893.2 L454.1,892.9 L453.8,891.3 L453.3,893.8 L452.9,894.8 L452.6,897.7 L451.8,896.6 L451.8,897.7 L451.1,894.7 L450.8,894.5 L450.3,893.6 L449.8,894.3 L449.5,893.1 L448.9,896.7 L448.8,897.8 L448.1,895.1 L448.0,896.2 L447.3,896.5 L447.2,897.6 L446.5,892.9 L446.2,890.7 L445.7,885.8 L445.4,882.6 L445.0,881.9 L444.4,879.7 L444.2,879.4 L443.7,893.1 L443.5,889.1 L442.7,887.9 L442.7,890.1 L441.9,888.0 L441.9,889.7 L441.2,895.6 L441.0,895.8 L440.4,897.8 L440.2,898.4 L439.7,896.1 L438.9,898.4 L438.1,898.0 L437.4,896.9 L437.0,897.7 L436.6,895.6 L436.2,896.2 L435.9,896.4 L435.3,892.5 L435.1,892.7 L434.5,893.7 L434.3,893.3 L433.6,892.1 L433.4,893.0 L432.8,896.1 L432.4,895.6 L432.1,896.5 L431.4,897.6 L431.3,898.4 L430.5,895.5 L430.5,895.9 L429.8,889.6 L429.7,891.6 L429.0,890.0 L428.8,889.3 L428.3,891.1 L428.0,895.0 L427.5,894.4 L427.1,891.3 L426.7,890.9 L426.3,894.4 L426.0,893.3 L425.4,890.0 L425.2,889.5 L424.6,892.7 L424.5,891.8 L423.7,893.3 L423.4,894.7 L422.9,896.9 L422.5,896.8 L422.2,897.6 L421.4,897.6 L420.7,898.4 L419.9,897.3 L419.6,898.2 L419.1,897.4 L418.6,898.4 L418.4,893.1 L417.8,889.2 L417.6,890.7 L416.9,893.7 L416.9,893.4 L416.1,895.3 L416.1,895.3 L415.3,891.0 L415.2,890.0 L414.6,893.3 L414.2,895.1 L413.8,892.7 L413.2,893.5 L413.1,889.6 L412.4,888.7 L412.3,886.3 L411.5,878.9 L411.5,878.6 L410.8,881.0 L410.4,884.1 L410.0,882.1 L409.3,878.0 L409.3,879.7 L408.5,880.4 L408.3,882.6 L407.7,886.1 L407.3,887.8 L407.0,885.5 L406.2,878.6 L406.2,879.0 L405.5,877.2 L405.3,877.4 L404.7,879.9 L404.3,881.9 L403.9,883.1 L403.3,887.6 L403.2,887.9 L402.4,882.2 L402.3,882.3 L401.7,881.6 L401.3,878.4 L400.9,880.8 L400.5,883.3 L400.1,888.2 L399.5,893.1 L399.4,888.8 L398.6,877.8 L398.5,876.9 L397.9,881.8 L397.7,884.9 L397.1,883.2 L396.7,879.8 L396.3,880.7 L395.8,883.8 L395.6,881.9 L394.8,879.9 L394.8,879.2 L394.1,881.6 L393.7,881.5 L393.3,882.8 L392.7,881.8 L392.5,881.8 L391.8,889.6 L391.7,890.2 L391.0,889.0 L390.6,885.3 L390.3,885.5 L389.5,889.1 L389.4,891.9 L388.7,894.5 L388.5,894.1 L388.0,891.8 L387.5,889.2 L387.2,887.5 L386.6,884.6 L386.5,885.0 L385.7,881.4 L385.5,882.5 L384.9,885.9 L384.5,885.8 L384.2,887.3 L383.5,893.7 L383.4,894.1 L382.7,893.7 L382.5,891.3 L381.9,891.5 L381.5,895.4 L381.1,892.5 L380.4,896.2 L380.4,897.2 L379.6,897.7 L379.2,894.6 L378.9,895.0 L378.1,897.2 L378.1,895.9 L377.3,886.7 L377.1,883.5 L376.6,885.5 L376.1,886.8 L375.8,888.7 L375.2,887.2 L375.1,888.4 L374.9,888.2 L374.3,883.6 L373.5,883.5 L373.5,885.7 L372.8,880.6 L372.5,878.6 L372.0,883.7 L371.4,887.3 L371.3,888.4 L370.5,892.0 L370.4,894.8 L369.7,889.2 L369.2,889.2 L369.0,887.6 L368.2,887.1 L367.8,885.0 L367.5,883.4 L366.7,888.1 L366.4,889.0 L365.9,884.1 L365.2,887.4 L365.0,888.1 L364.4,886.9 L363.7,886.4 L363.6,884.6 L362.9,883.9 L362.2,883.1 L362.1,883.1 L361.4,878.3 L360.7,879.4 L360.6,878.4 L359.9,880.6 L359.3,880.5 L359.1,883.5 L358.3,888.0 L358.3,890.2 L357.6,882.7 L357.2,881.6 L356.8,881.9 L356.1,883.7 L355.8,884.7 L355.3,887.4 L354.5,887.6 L354.4,888.0 L353.8,889.3 L353.0,890.5 L352.9,891.0 L352.3,893.9 L351.5,895.6 L351.5,895.6 L350.7,896.6 L350.0,896.2 L349.4,897.1 L349.2,896.5 L348.5,897.3 L347.7,896.8 L346.9,897.4 L346.6,897.5 L346.2,897.7 L345.4,898.2 L344.7,897.8 L343.9,897.4 L343.5,897.7 L343.1,895.9 L342.6,894.2 L342.4,895.0 L341.8,891.9 L341.6,893.3 L340.9,889.6 L340.9,891.6 L340.1,888.9 L339.5,893.0 L339.3,891.7 L338.6,895.9 L338.1,896.2 L337.8,896.4 L337.1,896.9 L336.7,897.9 L336.3,898.0 L335.5,897.7 L334.8,898.1 L334.0,897.8 L333.3,897.7 L332.5,897.8 L331.7,897.9 L331.0,897.9 L330.2,897.8 L329.5,897.8 L328.7,897.8 L327.9,897.8 L327.2,898.0 L326.4,897.9 L325.7,898.0 L324.9,898.0 L324.1,897.9 L323.4,898.3 L323.2,897.9 L322.6,897.1 L322.2,896.7 L321.9,893.5 L321.4,893.0 L321.1,894.8 L320.5,895.6 L320.3,896.6 L319.7,898.0 L319.6,897.8 L318.8,897.7 L318.1,897.7 L317.3,898.1 L316.5,897.8 L315.8,897.9 L315.0,897.8 L314.3,897.7 L313.5,897.9 L312.7,897.8 L312.6,897.7 L312.0,896.5 L311.4,895.4 L311.2,893.7 L310.5,890.3 L310.5,890.2 L309.7,891.2 L309.0,893.3 L308.9,894.9 L308.2,895.5 L307.8,897.3 L307.4,897.2 L306.7,896.6 L306.2,896.0 L305.9,894.0 L305.1,892.8 L304.8,890.9 L304.4,889.4 L303.8,884.5 L303.6,888.5 L302.9,890.7 L302.7,893.4 L302.1,891.9 L301.3,892.4 L301.2,892.5 L300.6,892.3 L299.8,889.4 L299.8,890.6 L299.1,888.0 L298.4,885.7 L298.3,880.7 L297.5,882.9 L297.0,882.0 L296.8,882.0 L296.0,878.6 L295.9,878.3 L295.3,857.1 L295.0,853.0 L294.5,857.8 L293.9,860.8 L293.7,861.3 L293.0,864.1 L292.7,866.1 L292.2,866.4 L291.6,865.3 L291.5,862.8 L290.7,863.1 L290.6,864.2 L289.9,867.3 L289.6,866.2 L289.2,866.8 L288.5,867.7 L288.4,867.8 L287.7,871.9 L287.4,876.1 L286.9,879.5 L286.4,885.6 L286.1,881.0 L285.4,870.4Z" fill="#a9a9a9" stroke="#a9a9a9" stroke-width="0.5" stroke-linejoin="round"/>
<path d="M285.4,846.7 L286.1,868.3 L286.4,873.9 L286.9,865.4 L287.4,856.3 L287.7,856.1 L288.4,853.5 L288.5,854.7 L289.2,848.6 L289.6,846.4 L289.9,847.6 L290.6,842.5 L290.7,842.9 L291.5,842.5 L291.6,840.6 L292.2,842.9 L292.7,842.7 L293.0,841.9 L293.7,836.2 L293.9,835.4 L294.5,828.2 L295.0,821.5 L295.3,831.3 L295.9,853.4 L296.0,857.4 L296.7,869.2 L296.8,865.5 L297.5,862.6 L297.7,860.8 L298.3,858.7 L298.7,857.2 L299.1,858.7 L299.8,861.9 L299.8,861.9 L300.6,864.7 L301.0,867.3 L301.3,873.6 L302.0,883.8 L302.1,881.9 L302.9,871.4 L302.9,872.1 L303.6,863.2 L303.8,861.1 L304.4,867.6 L304.8,873.9 L305.1,879.4 L305.8,888.3 L305.9,888.2 L306.7,887.8 L306.9,890.4 L307.4,892.6 L307.8,894.8 L308.2,888.5 L308.8,881.8 L308.9,881.1 L309.7,878.6 L309.7,878.5 L310.5,875.2 L310.6,877.2 L311.2,884.7 L311.4,887.6 L312.0,891.9 L312.3,896.1 L312.7,896.1 L313.5,896.7 L314.0,896.9 L314.3,896.9 L315.0,896.9 L315.8,896.8 L316.1,896.9 L316.5,896.9 L317.3,897.2 L318.1,896.9 L318.2,896.8 L318.8,894.9 L319.6,891.7 L319.7,891.8 L320.3,884.2 L320.5,885.0 L321.1,879.7 L321.4,873.6 L321.9,882.8 L322.2,887.8 L322.6,891.2 L323.2,897.0 L323.4,897.0 L324.1,897.0 L324.9,897.1 L325.3,897.3 L325.7,897.3 L326.4,896.8 L327.2,896.6 L327.5,896.4 L327.9,896.1 L328.7,895.0 L328.9,895.4 L329.5,896.0 L330.2,896.6 L330.3,896.5 L331.0,896.4 L331.7,896.5 L332.4,896.4 L332.5,896.4 L333.3,896.1 L334.0,895.8 L334.5,895.4 L334.8,895.6 L335.5,896.0 L335.9,896.1 L336.3,895.2 L336.9,893.2 L337.1,891.6 L337.8,890.1 L338.1,887.6 L338.6,887.7 L339.1,884.5 L339.3,883.4 L340.1,876.7 L340.1,875.9 L340.9,874.8 L340.9,871.6 L341.6,878.9 L341.8,879.9 L342.4,881.1 L342.6,884.4 L343.1,892.2 L343.5,896.1 L343.9,896.1 L344.7,896.6 L345.2,896.7 L345.4,896.6 L346.2,894.8 L346.6,894.7 L346.9,894.2 L347.7,893.6 L348.0,893.6 L348.5,893.4 L349.2,892.0 L349.4,891.8 L350.0,891.4 L350.7,889.6 L350.8,890.6 L351.5,886.4 L352.0,884.9 L352.3,882.6 L352.9,878.6 L353.0,877.7 L353.8,876.4 L353.9,875.7 L354.5,872.3 L355.1,868.6 L355.3,866.2 L356.1,864.5 L356.2,865.2 L356.8,863.3 L357.3,861.2 L357.6,864.2 L358.3,878.6 L358.3,876.3 L359.1,863.3 L359.3,859.7 L359.9,855.6 L360.5,855.4 L360.6,857.1 L361.4,857.4 L361.4,857.1 L362.1,859.9 L362.4,859.9 L362.9,861.7 L363.6,859.0 L363.7,860.9 L364.4,855.3 L364.4,854.5 L365.2,860.1 L365.4,863.2 L365.9,865.9 L366.4,865.2 L366.7,863.1 L367.3,854.9 L367.5,857.1 L368.1,853.7 L368.2,857.1 L369.0,863.9 L369.0,867.7 L369.7,874.0 L369.9,875.8 L370.5,879.9 L370.8,885.6 L371.3,867.7 L371.8,852.6 L372.0,850.3 L372.5,842.9 L372.8,848.5 L373.5,860.1 L373.5,859.2 L374.3,861.6 L374.6,861.3 L375.1,865.8 L375.2,868.6 L375.8,862.8 L376.1,859.0 L376.6,854.3 L377.1,855.1 L377.3,860.6 L378.1,881.6 L378.1,881.7 L378.9,876.4 L379.2,873.9 L379.6,876.8 L380.4,873.3 L380.4,873.0 L381.1,873.1 L381.5,873.1 L381.9,873.7 L382.5,870.1 L382.7,869.6 L383.4,877.7 L383.5,878.2 L384.2,869.5 L384.5,861.3 L384.9,852.5 L385.5,852.6 L385.7,852.6 L386.5,859.0 L386.6,859.6 L387.2,862.2 L387.5,864.4 L388.0,874.6 L388.5,883.6 L388.7,882.2 L389.4,871.6 L389.5,869.3 L390.3,854.7 L390.6,851.5 L391.0,858.7 L391.7,869.3 L391.8,872.5 L392.5,851.9 L392.7,851.2 L393.3,848.9 L393.7,848.5 L394.1,844.7 L394.8,849.3 L394.8,846.7 L395.6,854.5 L395.8,856.4 L396.3,846.7 L396.7,845.7 L397.1,850.5 L397.7,856.8 L397.9,853.2 L398.5,839.5 L398.6,842.8 L399.4,868.0 L399.5,870.8 L400.1,861.4 L400.5,852.6 L400.9,852.2 L401.3,847.9 L401.7,848.5 L402.3,852.6 L402.4,854.7 L403.2,862.0 L403.3,865.5 L403.9,860.0 L404.3,853.6 L404.7,849.2 L405.3,841.1 L405.5,841.4 L406.2,847.8 L406.2,849.1 L407.0,858.3 L407.3,862.4 L407.7,860.0 L408.3,854.2 L408.5,853.8 L409.3,846.3 L409.3,845.2 L410.0,852.3 L410.4,857.3 L410.8,853.3 L411.5,846.7 L411.5,845.5 L412.3,858.1 L412.4,860.1 L413.1,876.6 L413.2,880.6 L413.8,882.5 L414.2,889.3 L414.6,881.4 L415.2,862.9 L415.3,865.7 L416.1,884.9 L416.1,881.4 L416.9,869.6 L416.9,871.0 L417.6,863.9 L417.8,860.0 L418.4,880.3 L418.6,887.4 L419.1,891.4 L419.6,896.8 L419.9,896.8 L420.7,898.0 L421.0,897.5 L421.4,897.4 L422.2,893.8 L422.5,890.4 L422.9,882.1 L423.4,877.4 L423.7,876.8 L424.5,875.6 L424.6,875.9 L425.2,868.0 L425.4,862.4 L426.0,870.0 L426.3,876.2 L426.7,871.5 L427.1,868.0 L427.5,870.6 L428.0,871.4 L428.3,869.0 L428.8,859.7 L429.0,861.2 L429.7,863.9 L429.8,862.1 L430.5,879.3 L430.5,878.1 L431.3,895.1 L431.4,896.4 L432.1,890.3 L432.4,887.6 L432.8,881.1 L433.4,875.5 L433.6,876.8 L434.3,873.3 L434.5,872.9 L435.1,871.9 L435.3,872.5 L435.9,878.5 L436.2,888.1 L436.6,889.6 L437.0,892.9 L437.4,891.4 L438.0,890.5 L438.1,890.4 L438.9,891.4 L439.0,892.1 L439.7,894.5 L440.2,897.0 L440.4,894.3 L441.0,885.7 L441.2,883.4 L441.9,865.1 L441.9,864.3 L442.7,857.1 L442.7,855.9 L443.5,868.8 L443.7,870.8 L444.2,842.2 L444.4,832.7 L445.0,836.5 L445.4,838.8 L445.7,851.5 L446.2,864.7 L446.5,871.2 L447.2,893.6 L447.3,896.0 L448.0,878.4 L448.1,879.2 L448.8,885.3 L448.9,887.0 L449.5,873.2 L449.8,871.8 L450.3,871.8 L450.8,874.4 L451.1,876.2 L451.8,894.0 L451.8,893.5 L452.6,885.6 L452.9,879.6 L453.3,873.5 L453.8,865.1 L454.1,867.1 L454.6,869.5 L454.9,862.4 L455.5,847.9 L455.6,849.8 L456.3,859.4 L456.4,859.4 L457.1,837.1 L457.2,834.5 L457.9,846.0 L458.0,847.9 L458.7,864.9 L458.9,870.5 L459.4,862.9 L459.7,861.4 L460.2,873.5 L460.7,885.1 L460.9,882.0 L461.5,869.1 L461.7,868.9 L462.4,882.7 L462.5,881.4 L463.2,868.2 L463.4,864.9 L464.0,870.8 L464.2,875.8 L464.7,863.9 L465.2,852.8 L465.5,851.7 L466.1,847.7 L466.3,849.8 L467.0,862.9 L467.1,864.1 L467.8,882.1 L467.8,885.5" fill="none" stroke="#0d0d0d" stroke-width="1.1" stroke-linejoin="round"/>
<path d="M508.1,764.8 L508.9,761.1 L509.3,756.3 L509.7,755.0 L510.2,751.1 L510.4,754.0 L511.2,754.6 L511.6,756.2 L511.9,757.0 L512.7,762.9 L512.7,762.6 L513.5,760.5 L513.8,758.0 L514.2,754.3 L515.0,755.8 L515.0,757.4 L515.7,758.1 L516.1,760.2 L516.5,760.1 L517.2,762.4 L517.3,761.6 L518.0,764.1 L518.4,766.9 L518.8,775.5 L519.3,785.6 L519.5,795.1 L520.2,816.8 L520.3,820.9 L521.1,835.7 L521.3,844.8 L521.8,853.3 L522.5,867.3 L522.6,871.9 L523.3,878.0 L523.6,881.2 L524.1,881.1 L524.9,882.9 L525.2,883.4 L525.6,884.2 L526.4,887.5 L526.6,888.0 L527.1,887.9 L527.9,889.3 L528.2,889.0 L528.7,887.4 L529.4,882.6 L529.8,881.3 L530.2,876.3 L530.9,869.0 L531.1,867.0 L531.7,865.1 L532.3,862.8 L532.5,854.3 L533.2,824.2 L533.4,817.4 L534.0,791.7 L534.3,776.7 L534.7,771.0 L535.2,763.6 L535.5,768.5 L536.1,774.0 L536.3,774.8 L537.0,771.4 L537.3,771.2 L537.8,771.2 L538.4,776.7 L538.5,775.3 L539.3,773.9 L539.5,770.5 L540.1,778.3 L540.7,777.6 L540.8,780.1 L541.6,786.9 L542.0,790.8 L542.3,786.8 L543.1,778.2 L543.4,776.6 L543.9,771.3 L544.6,763.9 L544.8,763.7 L545.4,770.2 L546.1,773.7 L546.1,773.3 L546.9,770.8 L547.5,767.4 L547.7,770.0 L548.4,767.2 L548.9,772.1 L549.2,772.4 L549.9,772.4 L550.2,774.7 L550.7,768.2 L551.4,762.9 L551.5,766.7 L552.2,776.0 L552.5,781.6 L553.0,797.7 L553.4,818.4 L553.7,815.4 L554.3,813.3 L554.5,814.9 L555.2,825.9 L555.3,824.7 L556.0,807.2 L556.2,804.6 L556.8,773.0 L557.1,758.0 L557.5,740.6 L558.0,724.1 L558.3,730.4 L558.9,744.9 L559.1,743.4 L559.8,736.3 L559.8,733.9 L560.6,727.2 L560.7,723.5 L561.3,722.0 L561.6,722.2 L562.1,742.5 L562.5,758.9 L562.9,772.9 L563.4,790.9 L563.6,791.7 L564.4,804.9 L564.6,803.5 L565.1,787.7 L565.7,776.5 L565.9,772.0 L566.6,749.0 L566.7,747.9 L567.4,771.4 L567.5,777.2 L568.2,804.1 L568.4,817.9 L568.9,844.7 L569.3,862.8 L569.7,862.0 L570.3,857.4 L570.5,855.5 L571.2,867.4 L571.2,866.9 L572.0,880.9 L572.1,880.8 L572.7,863.4 L573.2,849.1 L573.5,843.1 L574.1,826.7 L574.3,831.2 L575.0,852.1 L575.3,858.6 L575.8,848.7 L576.4,838.5 L576.5,841.4 L577.3,861.0 L577.5,867.3 L578.1,863.6 L578.8,856.5 L578.9,858.8 L579.6,867.1 L580.3,876.8 L580.3,876.7 L581.1,875.3 L581.6,874.0 L581.9,877.6 L582.6,882.2 L583.0,883.8 L583.4,882.1 L584.1,881.8 L584.4,881.1 L584.9,883.8 L585.7,887.4 L585.7,887.9 L586.4,890.9 L587.2,892.6 L587.3,892.3 L587.9,892.9 L588.7,892.9 L589.5,892.7 L589.6,892.6 L590.2,891.3 L591.0,889.1 L591.2,888.1 L591.7,875.7 L592.3,858.7 L592.5,856.5 L593.3,863.0 L593.5,863.0 L594.0,852.2 L594.6,840.8 L594.8,839.5 L595.5,831.1 L595.5,830.4 L596.3,846.4 L596.4,850.2 L597.0,782.1 L597.1,781.1 L597.8,781.4 L598.6,779.2 L598.8,776.8 L599.3,765.8 L599.7,759.2 L600.1,755.7 L600.6,753.5 L600.9,758.6 L601.6,762.1 L601.6,762.5 L602.4,769.3 L602.5,770.5 L603.1,760.9 L603.4,758.4 L603.9,755.4 L604.3,749.7 L604.7,745.6 L605.4,730.0 L605.4,728.5 L606.2,711.8 L606.6,704.9 L606.9,706.7 L607.7,703.8 L607.7,704.2 L608.5,694.4 L608.8,690.4 L609.2,695.4 L609.7,701.5 L610.0,703.5 L610.7,717.4 L610.7,714.8 L611.5,735.0 L611.6,736.2 L612.3,743.2 L612.5,743.2 L613.0,745.6 L613.4,746.2 L613.8,746.6 L614.3,748.9 L614.5,752.4 L615.2,753.2 L615.3,752.2 L616.1,751.9 L616.3,750.6 L616.8,753.1 L617.5,758.8 L617.6,759.8 L618.3,764.6 L618.6,766.3 L619.1,760.4 L619.8,754.2 L619.9,755.5 L620.6,754.5 L620.9,760.9 L621.4,775.5 L622.0,781.1 L622.1,778.9 L622.9,764.0 L623.2,758.3 L623.7,764.8 L624.3,766.6 L624.4,771.1 L625.2,796.9 L625.4,808.4 L625.9,825.5 L626.6,849.3 L626.7,847.0 L627.5,822.5 L627.5,817.1 L628.2,833.6 L628.4,835.7 L629.0,855.0 L629.3,862.5 L629.7,845.8 L630.4,825.9 L630.5,822.1 L631.3,782.3 L631.4,780.6 L632.0,757.3 L632.3,747.7 L632.8,744.9 L633.4,738.9 L633.5,744.9 L634.3,756.5 L634.5,757.8 L635.1,779.1 L635.7,794.5 L635.8,798.9 L636.6,813.2 L636.8,818.3 L637.3,808.8 L638.0,798.9 L638.1,795.7 L638.9,767.6 L639.1,758.4 L639.6,742.6 L640.2,725.3 L640.4,727.5 L641.1,741.0 L641.4,742.3 L641.9,735.5 L642.5,729.0 L642.7,730.6 L643.4,740.5 L643.6,744.0 L644.2,748.4 L644.8,748.7 L644.9,750.8 L645.7,761.0 L645.9,764.6 L646.5,762.4 L647.1,762.8 L647.2,761.5 L648.0,758.0 L648.2,758.9 L648.7,762.7 L649.3,776.1 L649.5,778.4 L650.3,804.8 L650.5,807.9 L651.0,815.7 L651.6,826.3 L651.8,818.8 L652.5,788.7 L652.7,781.2 L653.3,766.9 L653.9,749.0 L654.1,752.9 L654.8,753.1 L655.0,757.3 L655.6,750.5 L656.2,747.1 L656.3,742.1 L657.1,716.9 L657.3,709.9 L657.9,713.7 L658.4,720.8 L658.6,723.9 L659.4,744.9 L659.6,749.2 L660.1,758.3 L660.7,767.4 L660.9,770.8 L661.7,792.4 L661.8,799.7 L662.4,796.9 L663.0,794.9 L663.2,799.9 L663.9,816.1 L664.1,817.4 L664.7,798.7 L665.3,781.0 L665.5,776.0 L666.2,766.4 L666.4,762.6 L667.0,762.0 L667.5,765.1 L667.7,765.4 L668.5,769.6 L668.7,772.1 L669.3,790.5 L669.8,808.5 L670.0,817.0 L670.8,842.5 L670.9,849.2 L671.5,868.1 L672.1,885.5 L672.3,886.3 L673.1,888.9 L673.8,891.0 L674.4,893.7 L674.6,893.6 L675.3,893.7 L676.1,893.8 L676.6,893.7 L676.9,886.8 L677.6,854.7 L677.8,849.7 L678.4,814.2 L678.9,782.1 L679.1,769.1 L679.9,743.5 L680.0,735.8 L680.7,722.4 L681.2,710.3 L681.4,720.2 L682.2,739.1 L682.3,744.3 L682.9,716.4 L683.5,690.1 L683.7,695.1 L684.5,706.1 L684.6,709.7 L685.2,708.9 L685.7,703.6 L686.0,701.5 L686.7,694.8 L686.9,692.4 L687.5,695.9 L688.0,700.9 L688.3,706.6 L689.0,721.8 L689.2,724.5 L689.8,727.8 L690.3,726.9 L690.5,736.8 L691.2,762.8 L691.3,767.8 L692.1,780.7 L692.1,781.2 L692.1,883.0 L692.1,882.3 L691.3,875.4 L691.2,877.5 L690.5,867.5 L690.3,862.8 L689.8,857.1 L689.2,849.0 L689.0,852.6 L688.3,857.2 L688.0,858.3 L687.5,847.7 L686.9,835.8 L686.7,838.2 L686.0,848.1 L685.7,852.3 L685.2,853.0 L684.6,854.4 L684.5,852.8 L683.7,845.4 L683.5,838.1 L682.9,854.6 L682.3,872.2 L682.2,870.5 L681.4,854.1 L681.2,849.2 L680.7,859.7 L680.0,872.0 L679.9,873.3 L679.1,885.0 L678.9,889.7 L678.4,894.4 L677.8,896.9 L677.6,896.9 L676.9,897.9 L676.1,897.8 L675.3,898.1 L674.6,898.1 L674.4,897.9 L673.8,897.6 L673.1,898.2 L672.3,897.7 L671.5,896.9 L670.9,896.8 L670.8,897.1 L670.0,897.1 L669.8,894.9 L669.3,889.9 L668.7,885.3 L668.5,885.5 L667.7,885.0 L667.5,883.9 L667.0,883.0 L666.4,881.9 L666.2,882.3 L665.5,884.5 L665.3,887.7 L664.7,892.2 L664.1,896.9 L663.9,895.1 L663.2,890.0 L663.0,889.4 L662.4,895.5 L661.8,892.8 L661.7,888.6 L660.9,885.1 L660.7,883.8 L660.1,875.5 L659.6,872.7 L659.4,870.3 L658.6,863.6 L658.4,862.7 L657.9,866.7 L657.3,867.2 L657.1,870.3 L656.3,872.7 L656.2,874.2 L655.6,873.0 L655.0,879.1 L654.8,882.1 L654.1,878.8 L653.9,876.6 L653.3,883.4 L652.7,889.7 L652.5,892.6 L651.8,896.4 L651.6,897.7 L651.0,896.4 L650.5,895.4 L650.3,892.9 L649.5,887.3 L649.3,884.6 L648.7,882.7 L648.2,876.6 L648.0,878.5 L647.2,879.0 L647.1,880.2 L646.5,882.2 L645.9,884.4 L645.7,883.2 L644.9,873.8 L644.8,874.2 L644.2,872.8 L643.6,871.5 L643.4,871.2 L642.7,867.4 L642.5,867.3 L641.9,870.2 L641.4,872.1 L641.1,870.2 L640.4,862.1 L640.2,862.9 L639.6,877.7 L639.1,883.2 L638.9,885.6 L638.1,894.8 L638.0,893.3 L637.3,892.9 L636.8,894.2 L636.6,897.1 L635.8,885.4 L635.7,887.0 L635.1,881.0 L634.5,876.5 L634.3,873.3 L633.5,873.8 L633.4,871.5 L632.8,878.2 L632.3,884.4 L632.0,884.9 L631.4,892.9 L631.3,891.2 L630.5,896.3 L630.4,894.4 L629.7,894.6 L629.3,897.1 L629.0,892.5 L628.4,895.6 L628.2,895.9 L627.5,894.1 L627.5,893.5 L626.7,898.0 L626.6,896.8 L625.9,895.5 L625.4,895.0 L625.2,893.2 L624.4,885.4 L624.3,886.2 L623.7,883.3 L623.2,883.4 L622.9,887.5 L622.1,892.5 L622.0,893.1 L621.4,887.5 L620.9,881.5 L620.6,878.3 L619.9,872.7 L619.8,872.2 L619.1,878.2 L618.6,885.6 L618.3,885.9 L617.6,882.8 L617.5,878.7 L616.8,875.6 L616.3,872.8 L616.1,871.1 L615.3,872.6 L615.2,874.1 L614.5,879.2 L614.3,876.2 L613.8,876.8 L613.4,872.4 L613.0,871.7 L612.5,869.8 L612.3,869.2 L611.6,867.8 L611.5,865.5 L610.7,853.9 L610.7,853.6 L610.0,840.5 L609.7,841.1 L609.2,832.2 L608.8,826.2 L608.5,827.9 L607.7,835.3 L607.7,834.5 L606.9,838.4 L606.6,837.8 L606.2,843.0 L605.4,848.2 L605.4,849.4 L604.7,860.4 L604.3,863.1 L603.9,864.7 L603.4,871.4 L603.1,877.4 L602.5,886.1 L602.4,884.5 L601.6,874.6 L601.6,872.3 L600.9,864.6 L600.6,862.3 L600.1,877.4 L599.7,890.7 L599.3,893.4 L598.8,894.2 L598.6,896.8 L597.8,898.4 L597.1,894.5 L597.0,898.0 L596.4,894.9 L596.3,894.6 L595.5,890.3 L595.5,890.3 L594.8,889.9 L594.6,892.6 L594.0,895.6 L593.5,896.1 L593.3,895.3 L592.5,895.2 L592.3,894.6 L591.7,896.2 L591.2,897.6 L591.0,897.7 L590.2,896.9 L589.5,897.2 L588.7,897.3 L587.9,897.2 L587.3,897.7 L587.2,897.3 L586.4,897.2 L585.7,897.5 L584.9,896.2 L584.1,897.0 L583.4,897.0 L583.0,896.6 L582.6,897.4 L581.9,897.0 L581.6,896.1 L581.1,897.1 L580.3,896.0 L580.3,897.3 L579.6,895.6 L578.9,895.0 L578.8,896.7 L578.1,893.7 L577.5,896.5 L577.3,895.4 L576.5,892.2 L576.4,892.1 L575.8,891.8 L575.3,895.1 L575.0,893.3 L574.3,891.7 L574.1,891.8 L573.5,893.0 L573.2,895.8 L572.7,897.6 L572.1,897.4 L572.0,898.0 L571.2,896.1 L571.2,896.3 L570.5,894.2 L570.3,895.3 L569.7,896.0 L569.3,896.0 L568.9,892.7 L568.4,891.4 L568.2,886.0 L567.5,879.3 L567.4,876.3 L566.7,872.9 L566.6,871.9 L565.9,877.7 L565.7,881.3 L565.1,883.9 L564.6,888.4 L564.4,888.3 L563.6,883.0 L563.4,881.6 L562.9,877.1 L562.5,871.4 L562.1,869.5 L561.6,859.7 L561.3,865.7 L560.7,867.7 L560.6,867.8 L559.8,859.1 L559.8,858.4 L559.1,862.9 L558.9,862.5 L558.3,856.0 L558.0,854.2 L557.5,862.0 L557.1,869.7 L556.8,879.2 L556.2,888.4 L556.0,892.4 L555.3,893.2 L555.2,893.0 L554.5,889.7 L554.3,887.5 L553.7,894.1 L553.4,890.8 L553.0,884.0 L552.5,884.7 L552.2,882.0 L551.5,881.4 L551.4,880.0 L550.7,879.3 L550.2,885.2 L549.9,886.3 L549.2,887.5 L548.9,887.7 L548.4,887.8 L547.7,893.6 L547.5,892.8 L546.9,891.8 L546.1,894.0 L546.1,893.4 L545.4,894.4 L544.8,894.5 L544.6,896.8 L543.9,896.3 L543.4,896.4 L543.1,895.8 L542.3,896.3 L542.0,896.5 L541.6,893.2 L540.8,898.0 L540.7,895.4 L540.1,893.6 L539.5,893.7 L539.3,894.5 L538.5,892.6 L538.4,892.4 L537.8,890.1 L537.3,890.0 L537.0,890.1 L536.3,888.9 L536.1,887.5 L535.5,884.8 L535.2,883.2 L534.7,883.2 L534.3,885.7 L534.0,889.2 L533.4,889.6 L533.2,891.9 L532.5,891.3 L531.7,895.1 L531.1,894.9 L530.9,896.1 L530.2,896.1 L529.4,895.7 L528.7,896.6 L528.2,896.4 L527.9,896.0 L527.1,896.5 L526.4,896.6 L525.6,895.8 L524.9,894.8 L524.8,895.9 L524.1,895.1 L523.3,896.6 L522.6,897.0 L522.5,894.8 L521.8,896.2 L521.3,895.7 L521.1,894.6 L520.3,894.8 L520.2,893.7 L519.5,893.3 L519.3,892.2 L518.8,892.3 L518.4,889.6 L518.0,888.8 L517.3,887.6 L517.2,888.2 L516.5,885.4 L516.1,887.1 L515.7,884.2 L515.0,880.8 L515.0,882.7 L514.2,879.8 L513.8,877.7 L513.5,881.0 L512.7,880.4 L512.7,879.6 L511.9,876.5 L511.6,876.5 L511.2,873.7 L510.4,871.7 L510.2,869.3 L509.7,867.7 L509.3,865.3 L508.9,862.3 L508.1,859.3Z" fill="#a9a9a9" stroke="#a9a9a9" stroke-width="0.5" stroke-linejoin="round"/>
<path d="M508.1,835.1 L508.9,825.9 L509.3,817.1 L509.7,815.8 L510.2,807.2 L510.4,807.2 L511.2,808.2 L511.6,811.1 L511.9,816.1 L512.7,820.6 L512.7,823.4 L513.5,813.7 L513.8,813.0 L514.2,817.6 L515.0,817.6 L515.0,817.2 L515.7,823.8 L516.1,823.4 L516.5,826.2 L517.2,826.0 L517.3,826.9 L518.0,827.4 L518.4,831.4 L518.8,838.6 L519.3,849.8 L519.5,853.6 L520.2,871.6 L520.3,875.4 L521.1,883.3 L521.3,886.3 L521.8,889.6 L522.5,890.5 L522.6,888.1 L523.3,891.8 L523.6,892.5 L524.1,891.5 L524.9,891.2 L525.2,890.5 L525.6,891.3 L526.4,892.9 L526.6,893.0 L527.1,893.6 L527.9,894.5 L528.2,893.6 L528.7,892.1 L529.4,888.9 L529.8,888.0 L530.2,884.5 L530.9,880.5 L531.1,880.8 L531.7,885.0 L532.3,885.4 L532.5,882.6 L533.2,872.9 L533.4,868.6 L534.0,847.3 L534.3,839.1 L534.7,831.1 L535.2,819.8 L535.5,823.6 L536.1,830.9 L536.3,831.1 L537.0,827.5 L537.3,826.7 L537.8,829.8 L538.4,834.8 L538.5,834.8 L539.3,835.8 L539.5,833.7 L540.1,837.2 L540.7,839.8 L540.8,839.2 L541.6,842.8 L542.0,843.9 L542.3,842.2 L543.1,839.9 L543.4,838.0 L543.9,836.6 L544.6,833.5 L544.8,832.8 L545.4,835.1 L546.1,835.8 L546.1,835.3 L546.9,830.7 L547.5,830.9 L547.7,830.3 L548.4,829.5 L548.9,828.6 L549.2,828.8 L549.9,830.5 L550.2,830.8 L550.7,824.9 L551.4,817.5 L551.5,816.5 L552.2,834.8 L552.5,840.2 L553.0,851.3 L553.4,863.8 L553.7,860.1 L554.3,853.9 L554.5,858.2 L555.2,869.4 L555.3,870.5 L556.0,859.8 L556.2,859.5 L556.8,831.4 L557.1,818.4 L557.5,803.2 L558.0,788.5 L558.3,794.9 L558.9,803.2 L559.1,802.6 L559.8,796.4 L559.8,798.1 L560.6,805.1 L560.7,807.4 L561.3,792.8 L561.6,787.6 L562.1,801.8 L562.5,816.9 L562.9,826.6 L563.4,840.0 L563.6,843.8 L564.4,852.8 L564.6,853.5 L565.1,841.4 L565.7,836.0 L565.9,828.8 L566.6,809.7 L566.7,810.7 L567.4,825.0 L567.5,827.6 L568.2,852.3 L568.4,863.3 L568.9,872.8 L569.3,885.2 L569.7,884.6 L570.3,881.7 L570.5,884.2 L571.2,887.8 L571.2,887.5 L572.0,893.8 L572.1,895.1 L572.7,887.3 L573.2,879.6 L573.5,874.1 L574.1,867.4 L574.3,868.7 L575.0,878.0 L575.3,883.3 L575.8,875.9 L576.4,870.7 L576.5,871.2 L577.3,884.8 L577.5,887.5 L578.1,888.3 L578.8,881.4 L578.9,878.9 L579.6,883.9 L580.3,889.6 L580.3,890.5 L581.1,889.0 L581.6,888.0 L581.9,889.6 L582.6,890.5 L583.0,892.6 L583.4,892.0 L584.1,889.8 L584.4,890.2 L584.9,890.6 L585.7,894.1 L585.7,894.6 L586.4,895.2 L587.2,896.0 L587.3,895.8 L587.9,896.4 L588.7,895.8 L589.5,895.7 L589.6,895.8 L590.2,895.6 L591.0,895.6 L591.2,895.0 L591.7,887.1 L592.3,881.9 L592.5,882.5 L593.3,882.6 L593.5,882.4 L594.0,876.9 L594.6,872.9 L594.8,868.6 L595.5,862.0 L595.5,867.2 L596.3,878.6 L596.4,883.4 L597.0,884.0 L597.1,882.9 L597.8,883.7 L598.6,881.0 L598.8,881.6 L599.3,861.8 L599.7,849.4 L600.1,828.8 L600.6,806.3 L600.9,807.7 L601.6,824.4 L601.6,825.4 L602.4,845.9 L602.5,849.0 L603.1,831.4 L603.4,827.6 L603.9,821.2 L604.3,812.4 L604.7,807.8 L605.4,790.9 L605.4,792.7 L606.2,779.7 L606.6,775.7 L606.9,774.8 L607.7,774.1 L607.7,773.4 L608.5,761.8 L608.8,759.4 L609.2,768.1 L609.7,777.1 L610.0,779.2 L610.7,785.5 L610.7,787.9 L611.5,802.4 L611.6,803.7 L612.3,803.6 L612.5,800.9 L613.0,803.3 L613.4,805.7 L613.8,806.8 L614.3,813.6 L614.5,811.3 L615.2,806.7 L615.3,804.3 L616.1,802.2 L616.3,799.2 L616.8,805.5 L617.5,816.9 L617.6,821.9 L618.3,831.1 L618.6,834.8 L619.1,821.1 L619.8,801.0 L619.9,805.0 L620.6,821.9 L620.9,827.4 L621.4,843.8 L622.0,862.4 L622.1,858.4 L622.9,832.9 L623.2,825.7 L623.7,830.7 L624.3,830.9 L624.4,836.0 L625.2,859.9 L625.4,872.4 L625.9,881.1 L626.6,894.3 L626.7,888.0 L627.5,872.0 L627.5,871.6 L628.2,889.0 L628.4,889.8 L629.0,892.1 L629.3,893.9 L629.7,889.3 L630.4,881.2 L630.5,881.1 L631.3,871.7 L631.4,870.7 L632.0,838.6 L632.3,825.8 L632.8,817.1 L633.4,801.0 L633.5,804.1 L634.3,815.0 L634.5,817.2 L635.1,832.9 L635.7,849.1 L635.8,850.4 L636.6,866.6 L636.8,870.1 L637.3,863.7 L638.0,862.0 L638.1,857.4 L638.9,835.7 L639.1,827.3 L639.6,809.3 L640.2,787.6 L640.4,791.5 L641.1,799.4 L641.4,804.1 L641.9,800.7 L642.5,794.2 L642.7,795.2 L643.4,804.8 L643.6,806.1 L644.2,807.5 L644.8,808.3 L644.9,812.2 L645.7,826.8 L645.9,831.2 L646.5,825.8 L647.1,820.1 L647.2,820.4 L648.0,816.9 L648.2,817.5 L648.7,827.8 L649.3,839.4 L649.5,845.9 L650.3,866.8 L650.5,871.4 L651.0,880.2 L651.6,890.7 L651.8,886.0 L652.5,855.7 L652.7,848.2 L653.3,831.7 L653.9,815.7 L654.1,813.8 L654.8,821.7 L655.0,821.9 L655.6,815.7 L656.2,809.8 L656.3,805.7 L657.1,799.3 L657.3,796.3 L657.9,791.4 L658.4,783.5 L658.6,787.4 L659.4,805.1 L659.6,809.1 L660.1,822.3 L660.7,834.8 L660.9,841.6 L661.7,858.0 L661.8,862.5 L662.4,862.4 L663.0,857.7 L663.2,862.0 L663.9,880.0 L664.1,882.7 L664.7,861.9 L665.3,844.5 L665.5,842.9 L666.2,829.6 L666.4,827.1 L667.0,828.6 L667.5,828.9 L667.7,831.1 L668.5,833.2 L668.7,835.7 L669.3,854.1 L669.8,872.1 L670.0,874.9 L670.8,887.3 L670.9,888.8 L671.5,892.6 L672.1,895.1 L672.3,894.4 L673.1,895.4 L673.8,895.6 L674.4,895.9 L674.6,896.0 L675.3,895.9 L676.1,895.8 L676.6,895.9 L676.9,893.4 L677.6,887.4 L677.8,885.0 L678.4,864.9 L678.9,848.5 L679.1,840.0 L679.9,812.0 L680.0,808.9 L680.7,795.6 L681.2,780.3 L681.4,793.2 L682.2,826.6 L682.3,831.3 L682.9,795.5 L683.5,766.3 L683.7,773.6 L684.5,785.6 L684.6,787.5 L685.2,786.7 L685.7,785.2 L686.0,780.8 L686.7,766.5 L686.9,763.6 L687.5,781.0 L688.0,794.4 L688.3,787.9 L689.0,774.7 L689.2,772.9 L689.8,789.2 L690.3,804.1 L690.5,818.1 L691.2,848.9 L691.3,849.4 L692.1,862.0 L692.1,862.2" fill="none" stroke="#0d0d0d" stroke-width="1.1" stroke-linejoin="round"/>
</g>
<path d="M59.8,44.7 V199.1 H243.9 M59.8,199.1 h-6.8 M59.8,160.6 h-6.8 M59.8,122.2 h-6.8 M59.8,83.7 h-6.8 M59.8,45.3 h-6.8 M92.4,199.1 v6.6 M123.3,199.1 v6.6 M153.6,199.1 v6.6 M184.5,199.1 v6.6 M213.1,199.1 v6.6 M243.3,199.1 v6.6" fill="none" stroke="#1a1a1a" stroke-width="1.3"/>
<text class="tk" x="44.9" y="202.8" text-anchor="end">0</text>
<text class="tk" x="44.9" y="164.3" text-anchor="end">5</text>
<text class="tk" x="44.9" y="125.9" text-anchor="end">10</text>
<text class="tk" x="44.9" y="87.4" text-anchor="end">15</text>
<text class="tk" x="44.9" y="49.0" text-anchor="end">20</text>
<text class="tk" x="60.3" y="219.7" text-anchor="middle">0</text>
<text class="tk" x="92.6" y="219.7" text-anchor="middle">40</text>
<text class="tk" x="122.9" y="219.7" text-anchor="middle">80</text>
<text class="tk" x="154.5" y="219.7" text-anchor="middle">120</text>
<text class="tk" x="185.3" y="219.7" text-anchor="middle">160</text>
<text class="tk" x="215.3" y="219.7" text-anchor="middle">200</text>
<text class="tk" x="246.2" y="219.7" text-anchor="middle">240</text>
<path d="M284.6,44.7 V199.1 H468.7 M284.6,199.1 h-6.8 M284.6,160.6 h-6.8 M284.6,122.2 h-6.8 M284.6,83.7 h-6.8 M284.6,45.3 h-6.8 M317.2,199.1 v6.6 M348.1,199.1 v6.6 M378.4,199.1 v6.6 M409.3,199.1 v6.6 M437.9,199.1 v6.6 M468.1,199.1 v6.6" fill="none" stroke="#1a1a1a" stroke-width="1.3"/>
<text class="tk" x="274.6" y="202.5" text-anchor="end">0</text>
<text class="tk" x="274.6" y="164.0" text-anchor="end">5</text>
<text class="tk" x="274.6" y="125.6" text-anchor="end">10</text>
<text class="tk" x="274.6" y="87.1" text-anchor="end">15</text>
<text class="tk" x="274.6" y="48.7" text-anchor="end">20</text>
<text class="tk" x="285.1" y="219.7" text-anchor="middle">0</text>
<text class="tk" x="317.4" y="219.7" text-anchor="middle">40</text>
<text class="tk" x="347.7" y="219.7" text-anchor="middle">80</text>
<text class="tk" x="379.3" y="219.7" text-anchor="middle">120</text>
<text class="tk" x="410.1" y="219.7" text-anchor="middle">160</text>
<text class="tk" x="440.1" y="219.7" text-anchor="middle">200</text>
<text class="tk" x="471.0" y="219.7" text-anchor="middle">240</text>
<path d="M507.5,44.7 V199.1 H691.6 M507.5,199.1 h-6.8 M507.5,160.6 h-6.8 M507.5,122.2 h-6.8 M507.5,83.7 h-6.8 M507.5,45.3 h-6.8 M540.1,199.1 v6.6 M571.0,199.1 v6.6 M601.3,199.1 v6.6 M632.2,199.1 v6.6 M660.8,199.1 v6.6 M691.0,199.1 v6.6" fill="none" stroke="#1a1a1a" stroke-width="1.3"/>
<text class="tk" x="497.2" y="202.5" text-anchor="end">0</text>
<text class="tk" x="497.2" y="164.0" text-anchor="end">5</text>
<text class="tk" x="497.2" y="125.6" text-anchor="end">10</text>
<text class="tk" x="497.2" y="87.1" text-anchor="end">15</text>
<text class="tk" x="497.2" y="48.7" text-anchor="end">20</text>
<text class="tk" x="508.0" y="219.7" text-anchor="middle">0</text>
<text class="tk" x="540.3" y="219.7" text-anchor="middle">40</text>
<text class="tk" x="570.6" y="219.7" text-anchor="middle">80</text>
<text class="tk" x="602.2" y="219.7" text-anchor="middle">120</text>
<text class="tk" x="633.0" y="219.7" text-anchor="middle">160</text>
<text class="tk" x="663.0" y="219.7" text-anchor="middle">200</text>
<text class="tk" x="693.9" y="219.7" text-anchor="middle">240</text>
<text class="ax" transform="translate(22.1,121.1) rotate(-90)" text-anchor="middle">Distance [cm]</text>
<path d="M59.8,280.8 V435.2 H243.9 M59.8,435.2 h-6.8 M59.8,396.8 h-6.8 M59.8,358.3 h-6.8 M59.8,319.8 h-6.8 M59.8,281.4 h-6.8 M92.4,435.2 v6.6 M123.3,435.2 v6.6 M153.6,435.2 v6.6 M184.5,435.2 v6.6 M213.1,435.2 v6.6 M243.3,435.2 v6.6" fill="none" stroke="#1a1a1a" stroke-width="1.3"/>
<text class="tk" x="44.9" y="438.9" text-anchor="end">0</text>
<text class="tk" x="44.9" y="400.4" text-anchor="end">5</text>
<text class="tk" x="44.9" y="362.0" text-anchor="end">10</text>
<text class="tk" x="44.9" y="323.5" text-anchor="end">15</text>
<text class="tk" x="44.9" y="285.1" text-anchor="end">20</text>
<text class="tk" x="60.3" y="455.8" text-anchor="middle">0</text>
<text class="tk" x="92.6" y="455.8" text-anchor="middle">40</text>
<text class="tk" x="122.9" y="455.8" text-anchor="middle">80</text>
<text class="tk" x="154.5" y="455.8" text-anchor="middle">120</text>
<text class="tk" x="185.3" y="455.8" text-anchor="middle">160</text>
<text class="tk" x="215.3" y="455.8" text-anchor="middle">200</text>
<text class="tk" x="246.2" y="455.8" text-anchor="middle">240</text>
<path d="M284.6,280.8 V435.2 H468.7 M284.6,435.2 h-6.8 M284.6,396.8 h-6.8 M284.6,358.3 h-6.8 M284.6,319.8 h-6.8 M284.6,281.4 h-6.8 M317.2,435.2 v6.6 M348.1,435.2 v6.6 M378.4,435.2 v6.6 M409.3,435.2 v6.6 M437.9,435.2 v6.6 M468.1,435.2 v6.6" fill="none" stroke="#1a1a1a" stroke-width="1.3"/>
<text class="tk" x="274.6" y="438.6" text-anchor="end">0</text>
<text class="tk" x="274.6" y="400.1" text-anchor="end">5</text>
<text class="tk" x="274.6" y="361.7" text-anchor="end">10</text>
<text class="tk" x="274.6" y="323.2" text-anchor="end">15</text>
<text class="tk" x="274.6" y="284.8" text-anchor="end">20</text>
<text class="tk" x="285.1" y="455.8" text-anchor="middle">0</text>
<text class="tk" x="317.4" y="455.8" text-anchor="middle">40</text>
<text class="tk" x="347.7" y="455.8" text-anchor="middle">80</text>
<text class="tk" x="379.3" y="455.8" text-anchor="middle">120</text>
<text class="tk" x="410.1" y="455.8" text-anchor="middle">160</text>
<text class="tk" x="440.1" y="455.8" text-anchor="middle">200</text>
<text class="tk" x="471.0" y="455.8" text-anchor="middle">240</text>
<path d="M507.5,280.8 V435.2 H691.6 M507.5,435.2 h-6.8 M507.5,396.8 h-6.8 M507.5,358.3 h-6.8 M507.5,319.8 h-6.8 M507.5,281.4 h-6.8 M540.1,435.2 v6.6 M571.0,435.2 v6.6 M601.3,435.2 v6.6 M632.2,435.2 v6.6 M660.8,435.2 v6.6 M691.0,435.2 v6.6" fill="none" stroke="#1a1a1a" stroke-width="1.3"/>
<text class="tk" x="497.2" y="438.6" text-anchor="end">0</text>
<text class="tk" x="497.2" y="400.1" text-anchor="end">5</text>
<text class="tk" x="497.2" y="361.7" text-anchor="end">10</text>
<text class="tk" x="497.2" y="323.2" text-anchor="end">15</text>
<text class="tk" x="497.2" y="284.8" text-anchor="end">20</text>
<text class="tk" x="508.0" y="455.8" text-anchor="middle">0</text>
<text class="tk" x="540.3" y="455.8" text-anchor="middle">40</text>
<text class="tk" x="570.6" y="455.8" text-anchor="middle">80</text>
<text class="tk" x="602.2" y="455.8" text-anchor="middle">120</text>
<text class="tk" x="633.0" y="455.8" text-anchor="middle">160</text>
<text class="tk" x="663.0" y="455.8" text-anchor="middle">200</text>
<text class="tk" x="693.9" y="455.8" text-anchor="middle">240</text>
<text class="ax" transform="translate(22.1,357.4) rotate(-90)" text-anchor="middle">Distance [cm]</text>
<path d="M59.8,509.6 V664.0 H243.9 M59.8,664.0 h-6.8 M59.8,625.5 h-6.8 M59.8,587.1 h-6.8 M59.8,548.6 h-6.8 M59.8,510.2 h-6.8 M92.4,664.0 v6.6 M123.3,664.0 v6.6 M153.6,664.0 v6.6 M184.5,664.0 v6.6 M213.1,664.0 v6.6 M243.3,664.0 v6.6" fill="none" stroke="#1a1a1a" stroke-width="1.3"/>
<text class="tk" x="44.9" y="667.7" text-anchor="end">0</text>
<text class="tk" x="44.9" y="629.2" text-anchor="end">5</text>
<text class="tk" x="44.9" y="590.8" text-anchor="end">10</text>
<text class="tk" x="44.9" y="552.4" text-anchor="end">15</text>
<text class="tk" x="44.9" y="513.9" text-anchor="end">20</text>
<text class="tk" x="60.3" y="684.6" text-anchor="middle">0</text>
<text class="tk" x="92.6" y="684.6" text-anchor="middle">40</text>
<text class="tk" x="122.9" y="684.6" text-anchor="middle">80</text>
<text class="tk" x="154.5" y="684.6" text-anchor="middle">120</text>
<text class="tk" x="185.3" y="684.6" text-anchor="middle">160</text>
<text class="tk" x="215.3" y="684.6" text-anchor="middle">200</text>
<text class="tk" x="246.2" y="684.6" text-anchor="middle">240</text>
<path d="M284.6,509.6 V664.0 H468.7 M284.6,664.0 h-6.8 M284.6,625.5 h-6.8 M284.6,587.1 h-6.8 M284.6,548.6 h-6.8 M284.6,510.2 h-6.8 M317.2,664.0 v6.6 M348.1,664.0 v6.6 M378.4,664.0 v6.6 M409.3,664.0 v6.6 M437.9,664.0 v6.6 M468.1,664.0 v6.6" fill="none" stroke="#1a1a1a" stroke-width="1.3"/>
<text class="tk" x="274.6" y="666.3" text-anchor="end">0</text>
<text class="tk" x="274.6" y="627.8" text-anchor="end">5</text>
<text class="tk" x="274.6" y="589.4" text-anchor="end">10</text>
<text class="tk" x="274.6" y="550.9" text-anchor="end">15</text>
<text class="tk" x="274.6" y="512.5" text-anchor="end">20</text>
<text class="tk" x="285.1" y="684.6" text-anchor="middle">0</text>
<text class="tk" x="317.4" y="684.6" text-anchor="middle">40</text>
<text class="tk" x="347.7" y="684.6" text-anchor="middle">80</text>
<text class="tk" x="379.3" y="684.6" text-anchor="middle">120</text>
<text class="tk" x="410.1" y="684.6" text-anchor="middle">160</text>
<text class="tk" x="440.1" y="684.6" text-anchor="middle">200</text>
<text class="tk" x="471.0" y="684.6" text-anchor="middle">240</text>
<path d="M507.5,509.6 V664.0 H691.6 M507.5,664.0 h-6.8 M507.5,625.5 h-6.8 M507.5,587.1 h-6.8 M507.5,548.6 h-6.8 M507.5,510.2 h-6.8 M540.1,664.0 v6.6 M571.0,664.0 v6.6 M601.3,664.0 v6.6 M632.2,664.0 v6.6 M660.8,664.0 v6.6 M691.0,664.0 v6.6" fill="none" stroke="#1a1a1a" stroke-width="1.3"/>
<text class="tk" x="497.2" y="666.3" text-anchor="end">0</text>
<text class="tk" x="497.2" y="627.8" text-anchor="end">5</text>
<text class="tk" x="497.2" y="589.4" text-anchor="end">10</text>
<text class="tk" x="497.2" y="550.9" text-anchor="end">15</text>
<text class="tk" x="497.2" y="512.5" text-anchor="end">20</text>
<text class="tk" x="508.0" y="684.6" text-anchor="middle">0</text>
<text class="tk" x="540.3" y="684.6" text-anchor="middle">40</text>
<text class="tk" x="570.6" y="684.6" text-anchor="middle">80</text>
<text class="tk" x="602.2" y="684.6" text-anchor="middle">120</text>
<text class="tk" x="633.0" y="684.6" text-anchor="middle">160</text>
<text class="tk" x="663.0" y="684.6" text-anchor="middle">200</text>
<text class="tk" x="693.9" y="684.6" text-anchor="middle">240</text>
<text class="ax" transform="translate(22.1,587.6) rotate(-90)" text-anchor="middle">Distance [cm]</text>
<path d="M59.8,744.0 V898.4 H243.9 M59.8,898.4 h-6.8 M59.8,859.9 h-6.8 M59.8,821.5 h-6.8 M59.8,783.0 h-6.8 M59.8,744.6 h-6.8 M92.4,898.4 v6.6 M123.3,898.4 v6.6 M153.6,898.4 v6.6 M184.5,898.4 v6.6 M213.1,898.4 v6.6 M243.3,898.4 v6.6" fill="none" stroke="#1a1a1a" stroke-width="1.3"/>
<text class="tk" x="44.9" y="902.1" text-anchor="end">0</text>
<text class="tk" x="44.9" y="863.6" text-anchor="end">5</text>
<text class="tk" x="44.9" y="825.2" text-anchor="end">10</text>
<text class="tk" x="44.9" y="786.8" text-anchor="end">15</text>
<text class="tk" x="44.9" y="748.3" text-anchor="end">20</text>
<text class="tk" x="60.3" y="919.0" text-anchor="middle">0</text>
<text class="tk" x="92.6" y="919.0" text-anchor="middle">40</text>
<text class="tk" x="122.9" y="919.0" text-anchor="middle">80</text>
<text class="tk" x="154.5" y="919.0" text-anchor="middle">120</text>
<text class="tk" x="185.3" y="919.0" text-anchor="middle">160</text>
<text class="tk" x="215.3" y="919.0" text-anchor="middle">200</text>
<text class="tk" x="246.2" y="919.0" text-anchor="middle">240</text>
<path d="M284.6,744.0 V898.4 H468.7 M284.6,898.4 h-6.8 M284.6,859.9 h-6.8 M284.6,821.5 h-6.8 M284.6,783.0 h-6.8 M284.6,744.6 h-6.8 M317.2,898.4 v6.6 M348.1,898.4 v6.6 M378.4,898.4 v6.6 M409.3,898.4 v6.6 M437.9,898.4 v6.6 M468.1,898.4 v6.6" fill="none" stroke="#1a1a1a" stroke-width="1.3"/>
<text class="tk" x="274.6" y="900.7" text-anchor="end">0</text>
<text class="tk" x="274.6" y="862.2" text-anchor="end">5</text>
<text class="tk" x="274.6" y="823.8" text-anchor="end">10</text>
<text class="tk" x="274.6" y="785.3" text-anchor="end">15</text>
<text class="tk" x="274.6" y="746.9" text-anchor="end">20</text>
<text class="tk" x="285.1" y="919.0" text-anchor="middle">0</text>
<text class="tk" x="317.4" y="919.0" text-anchor="middle">40</text>
<text class="tk" x="347.7" y="919.0" text-anchor="middle">80</text>
<text class="tk" x="379.3" y="919.0" text-anchor="middle">120</text>
<text class="tk" x="410.1" y="919.0" text-anchor="middle">160</text>
<text class="tk" x="440.1" y="919.0" text-anchor="middle">200</text>
<text class="tk" x="471.0" y="919.0" text-anchor="middle">240</text>
<path d="M507.5,744.0 V898.4 H691.6 M507.5,898.4 h-6.8 M507.5,859.9 h-6.8 M507.5,821.5 h-6.8 M507.5,783.0 h-6.8 M507.5,744.6 h-6.8 M540.1,898.4 v6.6 M571.0,898.4 v6.6 M601.3,898.4 v6.6 M632.2,898.4 v6.6 M660.8,898.4 v6.6 M691.0,898.4 v6.6" fill="none" stroke="#1a1a1a" stroke-width="1.3"/>
<text class="tk" x="497.2" y="900.7" text-anchor="end">0</text>
<text class="tk" x="497.2" y="862.2" text-anchor="end">5</text>
<text class="tk" x="497.2" y="823.8" text-anchor="end">10</text>
<text class="tk" x="497.2" y="785.3" text-anchor="end">15</text>
<text class="tk" x="497.2" y="746.9" text-anchor="end">20</text>
<text class="tk" x="508.0" y="919.0" text-anchor="middle">0</text>
<text class="tk" x="540.3" y="919.0" text-anchor="middle">40</text>
<text class="tk" x="570.6" y="919.0" text-anchor="middle">80</text>
<text class="tk" x="602.2" y="919.0" text-anchor="middle">120</text>
<text class="tk" x="633.0" y="919.0" text-anchor="middle">160</text>
<text class="tk" x="663.0" y="919.0" text-anchor="middle">200</text>
<text class="tk" x="693.9" y="919.0" text-anchor="middle">240</text>
<text class="ax" transform="translate(22.1,822.6) rotate(-90)" text-anchor="middle">Distance [cm]</text>
<text class="ax" x="153.2" y="940.8" text-anchor="middle">Time [min]</text>
<text class="ax" x="378.0" y="940.8" text-anchor="middle">Time [min]</text>
<text class="ax" x="600.9" y="940.8" text-anchor="middle">Time [min]</text>
<text class="pl" x="0.3" y="40.1">a</text>
<text class="pl" x="0.0" y="278.5">b</text>
<text class="pl" x="0.3" y="510.0">c</text>
<text class="pl" x="0.0" y="748.4">d</text>
<text class="ti" x="103.0" y="43.8">Control</text>
<text class="n" x="163.4" y="43.8">(n=20)</text>
<text class="ti" x="322.0" y="43.8">Control</text>
<text class="n" x="382.4" y="43.8">(n=20)</text>
<text class="ti" x="545.0" y="43.8">Control</text>
<text class="n" x="605.6" y="43.8">(n=18)</text>
<text class="ti" x="87.0" y="279.6">&gt;40-60 ng/mg</text>
<text class="n" x="199.2" y="279.6">(n=5)</text>
<text class="ti" x="308.4" y="279.6">&gt;40-60 ng/mg</text>
<text class="n" x="421.0" y="279.6" letter-spacing="1.6">(n=4)</text>
<text class="ti" x="532.8" y="279.3">&gt;40-60 ng/mg</text>
<text class="n" x="645.4" y="279.3">(n=2)</text>
<text class="ti" x="83.3" y="513.3">&gt;60-80 ng/mg</text>
<text class="n" x="196.0" y="513.3">(n=12)</text>
<text class="ti" x="305.8" y="513.6">&gt;60-80 ng/mg</text>
<text class="n" x="418.0" y="513.6">(n=10)</text>
<text class="ti" x="531.9" y="513.3">&gt;60-80 ng/mg</text>
<text class="n" x="643.9" y="513.3">(n=8)</text>
<text class="ti" x="79.8" y="748.2">&gt;80-100 ng/mg</text>
<text class="n" x="201.0" y="748.2">(n=10)</text>
<text class="ti" x="304.9" y="748.6">&gt;80-100 ng/mg</text>
<text class="n" x="426.0" y="748.6">(n=7)</text>
<text class="ti" x="527.7" y="748.0">&gt;80-100 ng/mg</text>
<text class="n" x="649.5" y="748.0">(n=7)</text>
<text class="st" x="152.7" y="300.2" text-anchor="middle">**</text>
<text class="st" x="377.4" y="301.4" text-anchor="middle">**</text>
<text class="st" x="600.5" y="300.4" text-anchor="middle">**</text>
<text class="st" x="152.2" y="535.6" text-anchor="middle">**</text>
<text class="st" x="600.5" y="535.4" text-anchor="middle">**</text>
<text class="st" x="152.2" y="769.8" text-anchor="middle">**</text>
<text class="st" x="585.7" y="764.0" text-anchor="middle">**</text>
</svg></body></html>
